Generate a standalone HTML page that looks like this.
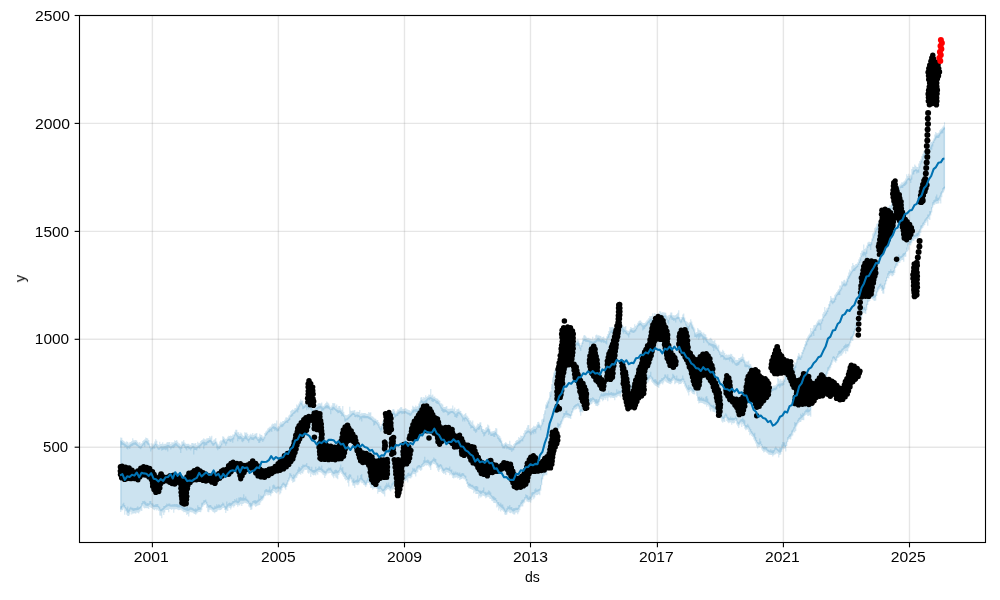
<!DOCTYPE html><html><head><meta charset="utf-8"><style>html,body{margin:0;padding:0;background:#fff;}svg{display:block;}text{font-family:"Liberation Sans",sans-serif;fill:#000;}</style></head><body>
<svg width="1000" height="600" viewBox="0 0 1000 600">
<rect width="1000" height="600" fill="#fff"/>
<polygon points="120.8,440.4 121.8,441.4 122.8,442.4 123.8,443.2 124.8,443.8 125.8,444.5 126.8,445.2 127.8,445.8 128.8,445.7 129.8,444.9 130.8,444 131.8,443.5 132.8,443 133.8,442.6 134.8,442.5 135.8,442.1 136.8,443.3 137.8,444.5 138.8,445.4 139.8,445.9 140.8,446.5 141.8,445.2 142.8,443.8 143.8,442.6 144.8,441.6 145.8,440.5 146.8,441.1 147.8,441.6 148.8,443.2 149.8,445.7 150.8,448.3 151.8,447.3 152.8,446.6 153.8,445.6 154.8,444.4 155.8,443.2 156.8,445.1 157.8,447 158.8,447.8 159.8,447.3 160.8,446.2 161.8,446.3 162.8,446.4 163.8,446.3 164.8,446.1 165.8,445.8 166.8,445.3 167.8,444.7 168.8,444.9 169.8,445.7 170.8,446.6 171.8,445.8 172.8,445.1 173.8,444.3 174.8,443.6 175.8,442.9 176.8,443.6 177.8,444.9 178.8,445.8 179.8,446.6 180.8,447.3 181.8,445.5 182.8,443.7 183.8,443.6 184.8,445.1 185.8,446.6 186.8,446.2 187.8,445.7 188.8,446 189.8,446.9 190.8,447.6 191.8,446.6 192.8,445.7 193.8,445.7 194.8,446.9 195.8,447.6 196.8,446.9 197.8,446.3 198.8,445.5 199.8,444.7 200.8,443.9 201.8,442.7 202.8,441.8 203.8,441.6 204.8,442 205.8,442.4 206.8,441.6 207.8,440.8 208.8,440.2 209.8,439.8 210.8,439.7 211.8,441.3 212.8,443 213.8,443.3 214.8,442.4 215.8,441.5 216.8,443.7 217.8,446 218.8,446.7 219.8,445.9 220.8,445.2 221.8,442.4 222.8,439.7 223.8,439.1 224.8,440.8 225.8,442.4 226.8,440.8 227.8,439 228.8,438.4 229.8,438.8 230.8,439.2 231.8,438.6 232.8,438.1 233.8,436.6 234.8,434.2 235.8,432.3 236.8,433.9 237.8,435.4 238.8,436.2 239.8,436.2 240.8,436.1 241.8,437.2 242.8,438.3 243.8,438 244.8,436.4 245.8,434.8 246.8,436.7 247.8,438.7 248.8,439 249.8,437.7 250.8,436.3 251.8,437.2 252.8,437.5 253.8,437.3 254.8,436.5 255.8,435.7 256.8,437.3 257.8,439 258.8,439.2 259.8,438.1 260.8,436.8 261.8,437.9 262.8,439 263.8,438.5 264.8,436.4 265.8,433.7 266.8,432.5 267.8,431.4 268.8,430.1 269.8,428.8 270.8,428.7 271.8,427.6 272.8,426.5 273.8,426.2 274.8,426.8 275.8,427 276.8,427.9 277.8,428.8 278.8,428.3 279.8,426.4 280.8,424.5 281.8,424.5 282.8,424.1 283.8,423.2 284.8,422 285.8,420.9 286.8,420.4 287.8,420 288.8,418.8 289.8,417 290.8,414.9 291.8,413.9 292.8,412.9 293.8,412 294.8,411.1 295.8,410.2 296.8,408.9 297.8,407.6 298.8,406 299.8,404.1 300.8,402.3 301.8,403 302.8,405.6 303.8,406.4 304.8,405.5 305.8,404.5 306.8,405.5 307.8,405.7 308.8,405.8 309.8,405.9 310.8,405.9 311.8,408 312.8,410.1 313.8,410.6 314.8,409.6 315.8,408.2 316.8,407.5 317.8,406.8 318.8,406.2 319.8,405.9 320.8,405.5 321.8,406.7 322.8,407.8 323.8,407.8 324.8,406.6 325.8,405.4 326.8,405.3 327.8,405.2 328.8,406.1 329.8,407.8 330.8,409.6 331.8,408.1 332.8,406.8 333.8,406.7 334.8,407.8 335.8,408.9 336.8,409.5 337.8,410.1 338.8,410.4 339.8,410.3 340.8,410.7 341.8,411.9 342.8,413.2 343.8,414.8 344.8,416.9 345.8,419 346.8,418.3 347.8,417.5 348.8,416.6 349.8,415.6 350.8,414.5 351.8,413.6 352.8,412.7 353.8,412.8 354.8,413.9 355.8,414.9 356.8,414.4 357.8,414.5 358.8,414.9 359.8,415.7 360.8,416.4 361.8,416 362.8,415.5 363.8,415.4 364.8,415.6 365.8,415.9 366.8,416 367.8,416.1 368.8,416.5 369.8,417 370.8,417.5 371.8,418.4 372.8,419.7 373.8,420.5 374.8,420.7 375.8,421 376.8,422.2 377.8,423.4 378.8,425.1 379.8,427.4 380.8,428.4 381.8,426.1 382.8,423.9 383.8,421.3 384.8,418.5 385.8,415.7 386.8,417.6 387.8,419.6 388.8,419.4 389.8,417.2 390.8,415.4 391.8,413.9 392.8,412.4 393.8,412.2 394.8,413.5 395.8,414.7 396.8,413.5 397.8,412.3 398.8,411.6 399.8,411.2 400.8,410.8 401.8,411 402.8,411.2 403.8,411.2 404.8,411.1 405.8,410.9 406.8,412 407.8,412.4 408.8,412.8 409.8,413.1 410.8,413.5 411.8,411.8 412.8,410 413.8,409.2 414.8,409.4 415.8,409.1 416.8,409.2 417.8,409.4 418.8,407.6 419.8,403.8 420.8,400 421.8,400.3 422.8,401.3 423.8,401.5 424.8,400.7 425.8,400 426.8,399 427.8,398.1 428.8,397.6 429.8,397.3 430.8,397.1 431.8,397.7 432.8,398.4 433.8,398.8 434.8,398.9 435.8,400.3 436.8,400.7 437.8,401.1 438.8,402.2 439.8,403.9 440.8,405.7 441.8,407.5 442.8,408.5 443.8,409.2 444.8,409.3 445.8,409.4 446.8,410.4 447.8,411.4 448.8,411.7 449.8,411.4 450.8,411 451.8,411 452.8,411.1 453.8,411.7 454.8,412.8 455.8,414 456.8,413 457.8,411.9 458.8,411.8 459.8,412.6 460.8,413.4 461.8,415.1 462.8,416.9 463.8,417.7 464.8,417.5 465.8,416.9 466.8,418.2 467.8,419.6 468.8,421.1 469.8,422.9 470.8,424.7 471.8,425.4 472.8,426.1 473.8,427 474.8,428.2 475.8,429.4 476.8,428.4 477.8,427.5 478.8,426.5 479.8,425.6 480.8,424.7 481.8,428.1 482.8,431.3 483.8,432.6 484.8,432.1 485.8,431.5 486.8,429.9 487.8,428.2 488.8,428.5 489.8,430.8 490.8,433.8 491.8,433.6 492.8,433.5 493.8,433.1 494.8,432.4 495.8,431.8 496.8,434 497.8,436.3 498.8,437.8 499.8,438.8 500.8,439.7 501.8,442.5 502.8,445.4 503.8,446.3 504.8,445.2 505.8,444.1 506.8,445.5 507.8,446.3 508.8,446.9 509.8,447.3 510.8,447.6 511.8,447.9 512.8,448.2 513.8,447.3 514.8,445.2 515.8,443.1 516.8,442.5 517.8,441.9 518.8,441.1 519.8,440.2 520.8,440.1 521.8,439 522.8,437.9 523.8,436.3 524.8,434.3 525.8,432.2 526.8,431.3 527.8,430.4 528.8,430.4 529.8,431.2 530.8,432 531.8,431 532.8,430 533.8,429.3 534.8,429.1 535.8,428.9 536.8,427.5 537.8,424.8 538.8,424.2 539.8,425.6 540.8,427 541.8,424.3 542.8,421.7 543.8,417.7 544.8,412.3 545.8,407 546.8,405 547.8,403 548.8,400.4 549.8,397.3 550.8,394.1 551.8,387.3 552.8,380.1 553.8,375.4 554.8,373.2 555.8,370.9 556.8,369 557.8,367.1 558.8,365.6 559.8,364.5 560.8,363.4 561.8,360.7 562.8,358 563.8,355.6 564.8,353.5 565.8,352 566.8,351.4 567.8,350.7 568.8,350.8 569.8,351.7 570.8,352.6 571.8,352.1 572.8,351.6 573.8,349.7 574.8,346.6 575.8,343.7 576.8,342.8 577.8,342 578.8,342.9 579.8,345.6 580.8,348.3 581.8,344.5 582.8,340.8 583.8,338.9 584.8,338.8 585.8,339.1 586.8,339.5 587.8,340 588.8,340.3 589.8,340.6 590.8,340.9 591.8,341.3 592.8,341.7 593.8,341.5 594.8,340.8 595.8,340.2 596.8,339 597.8,337.8 598.8,337.7 599.8,338.8 600.8,339.9 601.8,339.6 602.8,339.3 603.8,339.7 604.8,340.4 605.8,341.2 606.8,338.8 607.8,336.4 608.8,334.3 609.8,332.5 610.8,330.6 611.8,330.2 612.8,329.7 613.8,330.4 614.8,332.2 615.8,333.9 616.8,331.8 617.8,329.6 618.8,327.6 619.8,325.8 620.8,324.6 621.8,326.3 622.8,327.9 623.8,329.1 624.8,329.9 625.8,330.7 626.8,332.1 627.8,333.4 628.8,333.3 629.8,331.6 630.8,329.1 631.8,329.8 632.8,330.5 633.8,330.5 634.8,329.8 635.8,329.1 636.8,327 637.8,324.9 638.8,323.6 639.8,323.3 640.8,323.1 641.8,324.2 642.8,325.4 643.8,325.6 644.8,324.9 645.8,324.3 646.8,322.9 647.8,321.6 648.8,320.4 649.8,319.3 650.8,318.6 651.8,319.1 652.8,319.6 653.8,319.2 654.8,317.9 655.8,316.5 656.8,316.4 657.8,316.2 658.8,315.7 659.8,314.8 660.8,314 661.8,314.7 662.8,315.4 663.8,315.6 664.8,315.4 665.8,315.2 666.8,317.7 667.8,320.1 668.8,319.9 669.8,317.2 670.8,314.6 671.8,316 672.8,317.4 673.8,318.1 674.8,318.2 675.8,318.3 676.8,317.1 677.8,316.4 678.8,317.1 679.8,319.2 680.8,321.2 681.8,319 682.8,316.9 683.8,317.2 684.8,320 685.8,323 686.8,324.7 687.8,326.4 688.8,326.3 689.8,324.4 690.8,322.5 691.8,324.6 692.8,326.7 693.8,329.2 694.8,332.2 695.8,334.8 696.8,334.2 697.8,333.7 698.8,333.3 699.8,333.2 700.8,333.1 701.8,334.3 702.8,335.5 703.8,336.4 704.8,336.8 705.8,337.4 706.8,339.4 707.8,341.3 708.8,342.5 709.8,343.1 710.8,343.6 711.8,343.8 712.8,343.9 713.8,344.3 714.8,344.7 715.8,345.3 716.8,346.9 717.8,348.4 718.8,350.3 719.8,352.5 720.8,354.7 721.8,354.9 722.8,355 723.8,355.7 724.8,357 725.8,357.9 726.8,357.8 727.8,357.7 728.8,357.4 729.8,357 730.8,356.6 731.8,357.7 732.8,358.9 733.8,360.3 734.8,362.1 735.8,363.4 736.8,362.8 737.8,362.3 738.8,361.5 739.8,360.6 740.8,359.6 741.8,358.9 742.8,358.8 743.8,359.9 744.8,362.1 745.8,364.4 746.8,364.6 747.8,364.9 748.8,365.4 749.8,366.1 750.8,367.2 751.8,368.4 752.8,369.6 753.8,371.1 754.8,372.8 755.8,374.6 756.8,375.8 757.8,377 758.8,378.5 759.8,380.3 760.8,382.1 761.8,383.2 762.8,384.4 763.8,385.8 764.8,387.3 765.8,388.9 766.8,389.6 767.8,390.4 768.8,390.8 769.8,391 770.8,389.6 771.8,389.1 772.8,388.5 773.8,388.1 774.8,387.8 775.8,387.4 776.8,385.9 777.8,384.4 778.8,383.7 779.8,383.6 780.8,383.6 781.8,383.3 782.8,383 783.8,381.6 784.8,379.1 785.8,376.6 786.8,374.9 787.8,373.3 788.8,373.4 789.8,375.2 790.8,376.1 791.8,373.1 792.8,370.1 793.8,367.9 794.8,366.6 795.8,365.2 796.8,361.5 797.8,357.8 798.8,356.3 799.8,357 800.8,357.7 801.8,354.8 802.8,352 803.8,349.1 804.8,346.4 805.8,343.6 806.8,341.4 807.8,339.2 808.8,337.3 809.8,335.7 810.8,334.7 811.8,333.1 812.8,331.5 813.8,330 814.8,328.5 815.8,327.1 816.8,325 817.8,322.9 818.8,322.2 819.8,323 820.8,323.5 821.8,320.8 822.8,318 823.8,315.9 824.8,314.4 825.8,312.9 826.8,311.3 827.8,309.7 828.8,307 829.8,303.3 830.8,299.5 831.8,300.5 832.8,301.4 833.8,300.7 834.8,298.3 835.8,296 836.8,294.4 837.8,292.9 838.8,291.4 839.8,290.2 840.8,289 841.8,286.7 842.8,284.4 843.8,283.3 844.8,283.5 845.8,283.7 846.8,281 847.8,278.2 848.8,276.1 849.8,274.5 850.8,272.7 851.8,271.2 852.8,269.6 853.8,268.5 854.8,267.8 855.8,267.1 856.8,266 857.8,264.9 858.8,263 859.8,260.2 860.8,257.3 861.8,254.9 862.8,252.4 863.8,251.4 864.8,252 865.8,252.6 866.8,249 867.8,245.5 868.8,243.8 869.8,244.1 870.8,244.1 871.8,241 872.8,238 873.8,235.2 874.8,232.7 875.8,230.1 876.8,228.2 877.8,226.3 878.8,224.9 879.8,223.9 880.8,222.8 881.8,221.2 882.8,219.6 883.8,217.3 884.8,214.4 885.8,211.4 886.8,210.5 887.8,209.6 888.8,209 889.8,208.4 890.8,207.8 891.8,204.2 892.8,200.6 893.8,197.6 894.8,195.1 895.8,192.7 896.8,191.2 897.8,190.1 898.8,188.8 899.8,187.3 900.8,185.8 901.8,185.2 902.8,184.7 903.8,183.8 904.8,182.5 905.8,181.2 906.8,179.7 907.8,178.2 908.8,177.7 909.8,178.4 910.8,179 911.8,175.3 912.8,171.5 913.8,169.7 914.8,169.9 915.8,169 916.8,169.6 917.8,170.2 918.8,169 919.8,165.8 920.8,162.6 921.8,159.9 922.8,157.1 923.8,154.6 924.8,153.1 925.8,151.9 926.8,151.9 927.8,151.9 928.8,150.8 929.8,148.5 930.8,146.1 931.8,144.5 932.8,142.8 933.8,140.7 934.8,138.3 935.8,135.8 936.8,135.6 937.8,135.5 938.8,134.6 939.8,132.9 940.8,131.3 941.8,130.2 942.8,129.2 943.8,128.1 944.4,127.4 944.4,188.4 943.8,189.1 942.8,190.9 941.8,193.5 940.8,196 939.8,198.1 938.8,200.1 937.8,201.1 936.8,200.9 935.8,201.5 934.8,202.3 933.8,203 932.8,205.4 931.8,209.4 930.8,213.4 929.8,215.2 928.8,216.8 927.8,218.1 926.8,219.2 925.8,220.4 924.8,222.1 923.8,223.7 922.8,225.3 921.8,227.2 920.8,229 919.8,231.6 918.8,234.5 917.8,236 916.8,236.2 915.8,236.4 914.8,237.1 913.8,237.2 912.8,238.4 911.8,240.8 910.8,243.2 909.8,242.7 908.8,243.6 907.8,246 906.8,249.8 905.8,253.6 904.8,254.7 903.8,255.9 902.8,256.9 901.8,257.7 900.8,258.5 899.8,258.7 898.8,260.3 897.8,262 896.8,263.9 895.8,265.9 894.8,269 893.8,272.2 892.8,273.6 891.8,273.1 890.8,272.7 889.8,273.3 888.8,273.9 887.8,276 886.8,279.1 885.8,282.1 884.8,285.8 883.8,289.5 882.8,290.2 881.8,288 880.8,285.8 879.8,286.8 878.8,287.7 877.8,289.9 876.8,293.4 875.8,296.9 874.8,297.4 873.8,298 872.8,297.5 871.8,296 870.8,294.4 869.8,296.1 868.8,298.7 867.8,302.3 866.8,306.8 865.8,311.3 864.8,310.3 863.8,309.4 862.8,310.9 861.8,315 860.8,319 859.8,320.8 858.8,322.7 857.8,324.3 856.8,325.8 855.8,327.3 854.8,330.7 853.8,334.2 852.8,336.8 851.8,338.6 850.8,340.5 849.8,343.4 848.8,345.7 847.8,347.1 846.8,347.5 845.8,348 844.8,348.6 843.8,349.3 842.8,350.3 841.8,351.8 840.8,353.3 839.8,353.8 838.8,354.2 837.8,355.7 836.8,358.2 835.8,360.7 834.8,359.4 833.8,358 832.8,358.9 831.8,362.2 830.8,365.4 829.8,366.9 828.8,368.8 827.8,371.1 826.8,373.6 825.8,376.2 824.8,379.1 823.8,382 822.8,383.4 821.8,383.2 820.8,383.1 819.8,385 818.8,387.4 817.8,390.1 816.8,393.1 815.8,396.1 814.8,396.5 813.8,396.8 812.8,399.6 811.8,404.7 810.8,409.9 809.8,411.5 808.8,412.2 807.8,412.4 806.8,412.2 805.8,412 804.8,413.9 803.8,415.8 802.8,417.1 801.8,418 800.8,418.8 799.8,419.6 798.8,420.7 797.8,422.3 796.8,424.3 795.8,426.3 794.8,428.1 793.8,429.8 792.8,431.7 791.8,434 790.8,436.2 789.8,436.9 788.8,437.5 787.8,439.7 786.8,443.5 785.8,447.3 784.8,446.7 783.8,446.1 782.8,447.1 781.8,449.8 780.8,452.4 779.8,452.8 778.8,452.2 777.8,451.3 776.8,450.2 775.8,449.2 774.8,451.1 773.8,453 772.8,453.7 771.8,453 770.8,452.4 769.8,452.6 768.8,452.1 767.8,451.4 766.8,450.4 765.8,449.4 764.8,449.5 763.8,449.6 762.8,448.5 761.8,446.1 760.8,443.7 759.8,444.4 758.8,444.7 757.8,444 756.8,442.4 755.8,440.9 754.8,438.7 753.8,436.5 752.8,434.8 751.8,433.5 750.8,432.2 749.8,429.9 748.8,427.9 747.8,427.1 746.8,427.4 745.8,427.8 744.8,425.7 743.8,423.7 742.8,422 741.8,421.6 740.8,421.4 739.8,422.9 738.8,424.4 737.8,423.8 736.8,421.3 735.8,418.7 734.8,419.8 733.8,420.2 732.8,420.4 731.8,420.3 730.8,420.1 729.8,420.3 728.8,420.5 727.8,419.5 726.8,417.4 725.8,415.3 724.8,417.3 723.8,419.1 722.8,419 721.8,417 720.8,414.9 719.8,414 718.8,413 717.8,412.1 716.8,411.1 715.8,410.1 714.8,409.2 713.8,408.4 712.8,407.7 711.8,407.1 710.8,406.5 709.8,405.2 708.8,403.9 707.8,403 706.8,402.5 705.8,402 704.8,401.6 703.8,401.2 702.8,401 701.8,400.8 700.8,400.6 699.8,400.7 698.8,400.8 697.8,398.5 696.8,393.9 695.8,389.3 694.8,390.7 693.8,391.9 692.8,391.7 691.8,390.2 690.8,388.6 689.8,389.4 688.8,390.2 687.8,389.7 686.8,387.9 685.8,386 684.8,383.2 683.8,380.5 682.8,379.7 681.8,380.6 680.8,381.6 679.8,381.4 678.8,381.3 677.8,380.9 676.8,380.4 675.8,380.3 674.8,379.2 673.8,378.1 672.8,378.5 671.8,380.2 670.8,382 669.8,381.4 668.8,381.4 667.8,380.6 666.8,378.9 665.8,377.3 664.8,378.5 663.8,379.6 662.8,380.5 661.8,381.2 660.8,381.8 659.8,383.5 658.8,384.7 657.8,384.9 656.8,384.2 655.8,383.4 654.8,382.7 653.8,381.9 652.8,380.5 651.8,378.4 650.8,376.4 649.8,377.4 648.8,378.8 647.8,379.6 646.8,379.9 645.8,380.2 644.8,380.9 643.8,381.7 642.8,382.4 641.8,382.9 640.8,383.4 639.8,381.4 638.8,379.8 637.8,379.2 636.8,379.7 635.8,380.2 634.8,382.5 633.8,384.9 632.8,386.5 631.8,387.3 630.8,388.2 629.8,389.4 628.8,390.5 627.8,390.4 626.8,389.2 625.8,388 624.8,387.7 623.8,387.5 622.8,388.6 621.8,391.1 620.8,393.6 619.8,393.6 618.8,393.7 617.8,394 616.8,394.5 615.8,395.2 614.8,395.5 613.8,395.7 612.8,395.7 611.8,395.4 610.8,395 609.8,395.3 608.8,395.5 607.8,395.5 606.8,395.5 605.8,395.6 604.8,396 603.8,396.5 602.8,396.6 601.8,396.5 600.8,396.4 599.8,399.1 598.8,401.7 597.8,403.4 596.8,403.5 595.8,403.6 594.8,401.9 593.8,400.1 592.8,399.8 591.8,401 590.8,402.1 589.8,402.5 588.8,402.8 587.8,403.5 586.8,404.5 585.8,405.6 584.8,405.8 583.8,406 582.8,407.3 581.8,409.7 580.8,412.1 579.8,409.3 578.8,406.5 577.8,405.5 576.8,406.1 575.8,406.7 574.8,407.4 573.8,408.2 572.8,410.2 571.8,413.4 570.8,416.6 569.8,416.1 568.8,415.6 567.8,415.2 566.8,414.9 565.8,414.5 564.8,415.8 563.8,417.1 562.8,418.7 561.8,421.6 560.8,424.6 559.8,425.7 558.8,426.8 557.8,429.1 556.8,432.8 555.8,437.7 554.8,441.3 553.8,444.9 552.8,448.4 551.8,451.8 550.8,455.2 549.8,459.3 548.8,463.4 547.8,466.9 546.8,469.8 545.8,472.7 544.8,473 543.8,473.4 542.8,476.5 541.8,482.4 540.8,488.2 539.8,490.5 538.8,491.2 537.8,491.8 536.8,492.1 535.8,492.5 534.8,493.4 533.8,494.1 532.8,495.2 531.8,497.1 530.8,499 529.8,499.5 528.8,500 527.8,499.7 526.8,498.6 525.8,497.6 524.8,499.5 523.8,501.4 522.8,502.8 521.8,503.7 520.8,504.7 519.8,506.8 518.8,508.9 517.8,510 516.8,510 515.8,510.1 514.8,510.8 513.8,511.5 512.8,511.4 511.8,510.4 510.8,509.5 509.8,509.7 508.8,509.1 507.8,509.6 506.8,511.3 505.8,513 504.8,511.4 503.8,509.8 502.8,508.7 501.8,508 500.8,507.1 499.8,506.3 498.8,505.5 497.8,504.2 496.8,502.4 495.8,500.6 494.8,500.3 493.8,500 492.8,499.1 491.8,497.6 490.8,496 489.8,495.1 488.8,494.4 487.8,494.4 486.8,495.1 485.8,495.8 484.8,494.3 483.8,492.9 482.8,492.6 481.8,493.4 480.8,494.2 479.8,493.2 478.8,492 477.8,491 476.8,490.9 475.8,490.9 474.8,489.6 473.8,488.4 472.8,487.5 471.8,487 470.8,486.5 469.8,486.3 468.8,486 467.8,484.5 466.8,481.6 465.8,478.7 464.8,477.3 463.8,475.9 462.8,475.6 461.8,476.4 460.8,477.2 459.8,476.6 458.8,476 457.8,475.4 456.8,474.7 455.8,474.4 454.8,475 453.8,475.5 452.8,475 451.8,473.4 450.8,471.8 449.8,471.1 448.8,470.5 447.8,470.1 446.8,469.8 445.8,469.5 444.8,470.5 443.8,471.4 442.8,470.7 441.8,468.4 440.8,466.1 439.8,467 438.8,467.7 437.8,467 436.8,464.9 435.8,462.8 434.8,461.9 433.8,460.9 432.8,461.4 431.8,463.3 430.8,466.1 429.8,464.9 428.8,463.7 427.8,463 426.8,462.8 425.8,462.6 424.8,463.1 423.8,463.7 422.8,464.7 421.8,466.4 420.8,468 419.8,467.6 418.8,467.2 417.8,468 416.8,470.1 415.8,472.2 414.8,472 413.8,471.3 412.8,472.1 411.8,474.2 410.8,476.3 409.8,476.1 408.8,475.9 407.8,476.4 406.8,477.8 405.8,478.9 404.8,479 403.8,479.1 402.8,478.6 401.8,477.5 400.8,476.4 399.8,476.1 398.8,475.8 397.8,477.2 396.8,480.2 395.8,483.2 394.8,483.6 393.8,484 392.8,485.1 391.8,486.9 390.8,488.8 389.8,488 388.8,487 387.8,487 386.8,487.8 385.8,488.7 384.8,489.9 383.8,491.1 382.8,491.4 381.8,490.6 380.8,488.7 379.8,489.2 378.8,489.6 377.8,488.8 376.8,486.9 375.8,485 374.8,485.6 373.8,486.2 372.8,486.2 371.8,485.4 370.8,484.7 369.8,482.6 368.8,480.6 367.8,480.6 366.8,482.8 365.8,485 364.8,483.4 363.8,482.2 362.8,481.1 361.8,480.1 360.8,479.1 359.8,480.5 358.8,481.9 357.8,482.6 356.8,482.5 355.8,482.2 354.8,482.8 353.8,483.5 352.8,482.4 351.8,479.6 350.8,476.8 349.8,478.3 348.8,479.7 347.8,479.6 346.8,478 345.8,476.4 344.8,475.5 343.8,474.6 342.8,473.3 341.8,471.4 340.8,469.6 339.8,470.6 338.8,472.3 337.8,473.2 336.8,473.3 335.8,473.3 334.8,473.8 333.8,474.2 332.8,473.7 331.8,472.2 330.8,470.5 329.8,470.4 328.8,470.3 327.8,470.9 326.8,472.3 325.8,473.7 324.8,473.2 323.8,472.7 322.8,472 321.8,471 320.8,470.1 319.8,470.1 318.8,470 317.8,470.4 316.8,471.2 315.8,472 314.8,472.7 313.8,472.7 312.8,472.4 311.8,471.7 310.8,471.1 309.8,470.3 308.8,469.5 307.8,468.4 306.8,466.9 305.8,466.5 304.8,466.9 303.8,467.3 302.8,468.2 301.8,469.5 300.8,470.8 299.8,471.4 298.8,471.9 297.8,472.9 296.8,474.3 295.8,475.8 294.8,477.5 293.8,479.3 292.8,479.3 291.8,477.4 290.8,475.5 289.8,477.6 288.8,479.6 287.8,482 286.8,484.8 285.8,487.5 284.8,486.1 283.8,484.7 282.8,485.1 281.8,487.3 280.8,489.5 279.8,489.4 278.8,488.6 277.8,488.5 276.8,489.1 275.8,489.7 274.8,489.1 273.8,488.6 272.8,489.4 271.8,491.4 270.8,493.5 269.8,492.6 268.8,492.4 267.8,492.2 266.8,491.9 265.8,491.5 264.8,494 263.8,496.5 262.8,498.2 261.8,499 260.8,499.9 259.8,500.8 258.8,501.5 257.8,502.3 256.8,503.2 255.8,504.1 254.8,503.4 253.8,502.6 252.8,503.4 251.8,505.8 250.8,507.4 249.8,505.3 248.8,503.3 247.8,501.9 246.8,501.2 245.8,500.5 244.8,500.6 243.8,500.8 242.8,500.8 241.8,500.7 240.8,500.6 239.8,501.8 238.8,503.1 237.8,503.4 236.8,502.8 235.8,502.3 234.8,502.4 233.8,503.1 232.8,503.9 231.8,505 230.8,506 229.8,505.8 228.8,505.6 227.8,506.5 226.8,508.6 225.8,509.9 224.8,507.8 223.8,505.7 222.8,505.2 221.8,506.4 220.8,507.6 219.8,507.7 218.8,507.8 217.8,508 216.8,508.4 215.8,508.7 214.8,509.3 213.8,509.8 212.8,509.5 211.8,508.5 210.8,507.5 209.8,507.5 208.8,507.8 207.8,506.8 206.8,504.4 205.8,502.1 204.8,502.6 203.8,503.1 202.8,504.6 201.8,507.1 200.8,509.5 199.8,509.7 198.8,509.9 197.8,510.4 196.8,511.3 195.8,512.2 194.8,511.6 193.8,510.9 192.8,510.4 191.8,510 190.8,509.6 189.8,510.2 188.8,510.7 187.8,510.9 186.8,510.7 185.8,510.4 184.8,510 183.8,509.7 182.8,509.1 181.8,508.2 180.8,507.3 179.8,507.4 178.8,507.6 177.8,507.4 176.8,506.9 175.8,506.7 174.8,506.7 173.8,506.8 172.8,506.8 171.8,506.7 170.8,506.7 169.8,506.4 168.8,506.1 167.8,506.2 166.8,506.9 165.8,507.5 164.8,508.5 163.8,509.5 162.8,510.3 161.8,511 160.8,511.6 159.8,510.2 158.8,508.1 157.8,507 156.8,506.9 155.8,506.9 154.8,507.1 153.8,507.3 152.8,506.8 151.8,505.4 150.8,504 149.8,504.6 148.8,505.5 147.8,505.9 146.8,505.8 145.8,505.8 144.8,504.7 143.8,503.5 142.8,504 141.8,506.1 140.8,508.2 139.8,509 138.8,509.7 137.8,510.1 136.8,510.2 135.8,510.3 134.8,510.6 133.8,510.9 132.8,510.7 131.8,509.9 130.8,509.1 129.8,510.9 128.8,512.8 127.8,512.9 126.8,511.4 125.8,509.2 124.8,507.8 123.8,506.4 122.8,506.4 121.8,507.9 120.8,509.4" fill="#0072B2" fill-opacity="0.2"/>
<path d="M120.3,437.6 121.3,437.6 121.3,437.7 122.3,437.7 122.3,440.1 123.3,440.1 123.3,441 124.3,441 124.3,441.8 125.3,441.8 125.3,442.4 126.3,442.4 126.3,441.2 127.3,441.2 127.3,441.9 128.3,441.9 128.3,443.5 129.3,443.5 129.3,442.2 130.3,442.2 130.3,442 131.3,442 131.3,441.1 132.3,441.1 132.3,438.3 133.3,438.3 133.3,440.3 134.3,440.3 134.3,440.3 135.3,440.3 135.3,439.9 136.3,439.9 136.3,440.6 137.3,440.6 137.3,442 138.3,442 138.3,443.3 139.3,443.3 139.3,442.1 140.3,442.1 140.3,443.7 141.3,443.7 141.3,442.9 142.3,442.9 142.3,440.9 143.3,440.9 143.3,440 144.3,440 144.3,439.3 145.3,439.3 145.3,437.5 146.3,437.5 146.3,437.9 147.3,437.9 147.3,438.6 148.3,438.6 148.3,440.1 149.3,440.1 149.3,443.3 150.3,443.3 150.3,446 151.3,446 151.3,443.2 152.3,443.2 152.3,444.6 153.3,444.6 153.3,443.6 154.3,443.6 154.3,441.6 155.3,441.6 155.3,439.3 156.3,439.3 156.3,440.8 157.3,440.8 157.3,444.1 158.3,444.1 158.3,444.9 159.3,444.9 159.3,441.8 160.3,441.8 160.3,444.1 161.3,444.1 161.3,443.7 162.3,443.7 162.3,442.2 163.3,442.2 163.3,444.2 164.3,444.2 164.3,443.8 165.3,443.8 165.3,443.8 166.3,443.8 166.3,442.4 167.3,442.4 167.3,442.1 168.3,442.1 168.3,442.3 169.3,442.3 169.3,442 170.3,442 170.3,444.1 171.3,444.1 171.3,442.3 172.3,442.3 172.3,442.4 173.3,442.4 173.3,442.2 174.3,442.2 174.3,440.3 175.3,440.3 175.3,440.9 176.3,440.9 176.3,439.9 177.3,439.9 177.3,441.7 178.3,441.7 178.3,443.3 179.3,443.3 179.3,443.6 180.3,443.6 180.3,444.7 181.3,444.7 181.3,441.6 182.3,441.6 182.3,441.5 183.3,441.5 183.3,440 184.3,440 184.3,442.6 185.3,442.6 185.3,443.4 186.3,443.4 186.3,443.9 187.3,443.9 187.3,443.7 188.3,443.7 188.3,443.7 189.3,443.7 189.3,444.8 190.3,444.8 190.3,444.7 191.3,444.7 191.3,443.1 192.3,443.1 192.3,443.1 193.3,443.1 193.3,443.4 194.3,443.4 194.3,443.5 195.3,443.5 195.3,443 196.3,443 196.3,444.9 197.3,444.9 197.3,441.7 198.3,441.7 198.3,443.2 199.3,443.2 199.3,442.7 200.3,442.7 200.3,441.1 201.3,441.1 201.3,440 202.3,440 202.3,439.6 203.3,439.6 203.3,438.3 204.3,438.3 204.3,439.2 205.3,439.2 205.3,439.4 206.3,439.4 206.3,438.3 207.3,438.3 207.3,438.3 208.3,438.3 208.3,438.1 209.3,438.1 209.3,436 210.3,436 210.3,437.6 211.3,437.6 211.3,435.8 212.3,435.8 212.3,440.9 213.3,440.9 213.3,439.8 214.3,439.8 214.3,439.3 215.3,439.3 215.3,438 216.3,438 216.3,441.6 217.3,441.6 217.3,443.6 218.3,443.6 218.3,444.5 219.3,444.5 219.3,441.6 220.3,441.6 220.3,440.3 221.3,440.3 221.3,440.4 222.3,440.4 222.3,436.3 223.3,436.3 223.3,436.7 224.3,436.7 224.3,438.2 225.3,438.2 225.3,439 226.3,439 226.3,438.5 227.3,438.5 227.3,436.8 228.3,436.8 228.3,435.8 229.3,435.8 229.3,436 230.3,436 230.3,435.6 231.3,435.6 231.3,436 232.3,436 232.3,434.6 233.3,434.6 233.3,434.5 234.3,434.5 234.3,431.8 235.3,431.8 235.3,429.8 236.3,429.8 236.3,429.8 237.3,429.8 237.3,432.3 238.3,432.3 238.3,432.2 239.3,432.2 239.3,433.9 240.3,433.9 240.3,432.6 241.3,432.6 241.3,433.6 242.3,433.6 242.3,435.3 243.3,435.3 243.3,435.9 244.3,435.9 244.3,432.3 245.3,432.3 245.3,432.8 246.3,432.8 246.3,432.5 247.3,432.5 247.3,433.9 248.3,433.9 248.3,436 249.3,436 249.3,434.7 250.3,434.7 250.3,433.7 251.3,433.7 251.3,434.7 252.3,434.7 252.3,433.1 253.3,433.1 253.3,435 254.3,435 254.3,433.8 255.3,433.8 255.3,433.5 256.3,433.5 256.3,433 257.3,433 257.3,436.7 258.3,436.7 258.3,436.8 259.3,436.8 259.3,433.8 260.3,433.8 260.3,434.7 261.3,434.7 261.3,435.1 262.3,435.1 262.3,436.6 263.3,436.6 263.3,436.4 264.3,436.4 264.3,433.1 265.3,433.1 265.3,431.6 266.3,431.6 266.3,430.5 267.3,430.5 267.3,428.4 268.3,428.4 268.3,427.8 269.3,427.8 269.3,426.7 270.3,426.7 270.3,426.4 271.3,426.4 271.3,424.6 272.3,424.6 272.3,423.6 273.3,423.6 273.3,424 274.3,424 274.3,423.1 275.3,423.1 275.3,423.5 276.3,423.5 276.3,420.6 277.3,420.6 277.3,426.7 278.3,426.7 278.3,426.1 279.3,426.1 279.3,423.6 280.3,423.6 280.3,421.8 281.3,421.8 281.3,422.5 282.3,422.5 282.3,421.1 283.3,421.1 283.3,421 284.3,421 284.3,419.7 285.3,419.7 285.3,417.4 286.3,417.4 286.3,417.3 287.3,417.3 287.3,417.8 288.3,417.8 288.3,415.6 289.3,415.6 289.3,414.4 290.3,414.4 290.3,410.9 291.3,410.9 291.3,410 292.3,410 292.3,409.3 293.3,409.3 293.3,409.9 294.3,409.9 294.3,408.3 295.3,408.3 295.3,407.9 296.3,407.9 296.3,404.5 297.3,404.5 297.3,405.5 298.3,405.5 298.3,403.6 299.3,403.6 299.3,401.6 300.3,401.6 300.3,399.2 301.3,399.2 301.3,400.8 302.3,400.8 302.3,400.6 303.3,400.6 303.3,404.3 304.3,404.3 304.3,403.3 305.3,403.3 305.3,402 306.3,402 306.3,401.3 307.3,401.3 307.3,403.7 308.3,403.7 308.3,403.2 309.3,403.2 309.3,403.1 310.3,403.1 310.3,403.8 311.3,403.8 311.3,403.6 312.3,403.6 312.3,406.6 313.3,406.6 313.3,405.5 314.3,405.5 314.3,404 315.3,404 315.3,403.5 316.3,403.5 316.3,404.9 317.3,404.9 317.3,403.8 318.3,403.8 318.3,402.9 319.3,402.9 319.3,403.2 320.3,403.2 320.3,403.4 321.3,403.4 321.3,402.5 322.3,402.5 322.3,405.8 323.3,405.8 323.3,405.8 324.3,405.8 324.3,404.3 325.3,404.3 325.3,403.1 326.3,403.1 326.3,401.6 327.3,401.6 327.3,402.5 328.3,402.5 328.3,403.5 329.3,403.5 329.3,405.4 330.3,405.4 330.3,407 331.3,407 331.3,405.6 332.3,405.6 332.3,402.9 333.3,402.9 333.3,403.3 334.3,403.3 334.3,403.2 335.3,403.2 335.3,405.8 336.3,405.8 336.3,404.4 337.3,404.4 337.3,407.8 338.3,407.8 338.3,405.9 339.3,405.9 339.3,406 340.3,406 340.3,408.3 341.3,408.3 341.3,409.8 342.3,409.8 342.3,406.1 343.3,406.1 343.3,411.8 344.3,411.8 344.3,414.6 345.3,414.6 345.3,414.9 346.3,414.9 346.3,415.3 347.3,415.3 347.3,414.8 348.3,414.8 348.3,414.1 349.3,414.1 349.3,406.8 350.3,406.8 350.3,410.4 351.3,410.4 351.3,410.9 352.3,410.9 352.3,410.4 353.3,410.4 353.3,410.5 354.3,410.5 354.3,410 355.3,410 355.3,412.5 356.3,412.5 356.3,411.8 357.3,411.8 357.3,411.8 358.3,411.8 358.3,412 359.3,412 359.3,410 360.3,410 360.3,413.8 361.3,413.8 361.3,412.8 362.3,412.8 362.3,413.3 363.3,413.3 363.3,412.9 364.3,412.9 364.3,413 365.3,413 365.3,413.3 366.3,413.3 366.3,413.9 367.3,413.9 367.3,413.7 368.3,413.7 368.3,412.1 369.3,412.1 369.3,412.7 370.3,412.7 370.3,412.3 371.3,412.3 371.3,416.2 372.3,416.2 372.3,416.5 373.3,416.5 373.3,417.6 374.3,417.6 374.3,418.5 375.3,418.5 375.3,418.8 376.3,418.8 376.3,420.2 377.3,420.2 377.3,420.1 378.3,420.1 378.3,422.1 379.3,422.1 379.3,423.4 380.3,423.4 380.3,426 381.3,426 381.3,423.9 382.3,423.9 382.3,421.3 383.3,421.3 383.3,419 384.3,419 384.3,416.1 385.3,416.1 385.3,413 386.3,413 386.3,415.5 387.3,415.5 387.3,416.6 388.3,416.6 388.3,414.5 389.3,414.5 389.3,413.4 390.3,413.4 390.3,413.4 391.3,413.4 391.3,411.8 392.3,411.8 392.3,409.3 393.3,409.3 393.3,408.9 394.3,408.9 394.3,410.8 395.3,410.8 395.3,412.7 396.3,412.7 396.3,411.2 397.3,411.2 397.3,409.5 398.3,409.5 398.3,409.5 399.3,409.5 399.3,408.3 400.3,408.3 400.3,407 401.3,407 401.3,407.2 402.3,407.2 402.3,409.1 403.3,409.1 403.3,408.8 404.3,408.8 404.3,408.7 405.3,408.7 405.3,408.1 406.3,408.1 406.3,409.2 407.3,409.2 407.3,409.6 408.3,409.6 408.3,410.1 409.3,410.1 409.3,410.2 410.3,410.2 410.3,411.3 411.3,411.3 411.3,409.3 412.3,409.3 412.3,405.8 413.3,405.8 413.3,406.8 414.3,406.8 414.3,407.3 415.3,407.3 415.3,405.6 416.3,405.6 416.3,406.8 417.3,406.8 417.3,405.9 418.3,405.9 418.3,403.6 419.3,403.6 419.3,401.6 420.3,401.6 420.3,397.5 421.3,397.5 421.3,396.9 422.3,396.9 422.3,398.7 423.3,398.7 423.3,397.1 424.3,397.1 424.3,397.8 425.3,397.8 425.3,395.3 426.3,395.3 426.3,397 427.3,397 427.3,396.1 428.3,396.1 428.3,394.4 429.3,394.4 429.3,394.8 430.3,394.8 430.3,389.1 431.3,389.1 431.3,395.6 432.3,395.6 432.3,394.6 433.3,394.6 433.3,396.8 434.3,396.8 434.3,396.5 435.3,396.5 435.3,398.1 436.3,398.1 436.3,398.5 437.3,398.5 437.3,398.8 438.3,398.8 438.3,400.1 439.3,400.1 439.3,400.8 440.3,400.8 440.3,403.3 441.3,403.3 441.3,403.4 442.3,403.4 442.3,404.5 443.3,404.5 443.3,407.1 444.3,407.1 444.3,407.1 445.3,407.1 445.3,406.7 446.3,406.7 446.3,406 447.3,406 447.3,408.8 448.3,408.8 448.3,408.8 449.3,408.8 449.3,408.7 450.3,408.7 450.3,408.6 451.3,408.6 451.3,408.5 452.3,408.5 452.3,405.6 453.3,405.6 453.3,409.3 454.3,409.3 454.3,407.6 455.3,407.6 455.3,410.9 456.3,410.9 456.3,409.3 457.3,409.3 457.3,409.2 458.3,409.2 458.3,408.5 459.3,408.5 459.3,410.5 460.3,410.5 460.3,411 461.3,411 461.3,412.9 462.3,412.9 462.3,414.2 463.3,414.2 463.3,415.2 464.3,415.2 464.3,414 465.3,414 465.3,413 466.3,413 466.3,415.5 467.3,415.5 467.3,416.5 468.3,416.5 468.3,418.1 469.3,418.1 469.3,420.3 470.3,420.3 470.3,420.5 471.3,420.5 471.3,422.2 472.3,422.2 472.3,420.4 473.3,420.4 473.3,424.6 474.3,424.6 474.3,425.7 475.3,425.7 475.3,427.3 476.3,427.3 476.3,425.5 477.3,425.5 477.3,423.6 478.3,423.6 478.3,424.1 479.3,424.1 479.3,422.4 480.3,422.4 480.3,422.3 481.3,422.3 481.3,425.9 482.3,425.9 482.3,429.1 483.3,429.1 483.3,428.9 484.3,428.9 484.3,430 485.3,430 485.3,427.8 486.3,427.8 486.3,427 487.3,427 487.3,424.6 488.3,424.6 488.3,425.4 489.3,425.4 489.3,428.7 490.3,428.7 490.3,431.4 491.3,431.4 491.3,431.5 492.3,431.5 492.3,431.3 493.3,431.3 493.3,430.9 494.3,430.9 494.3,430.4 495.3,430.4 495.3,427.9 496.3,427.9 496.3,428.4 497.3,428.4 497.3,434 498.3,434 498.3,435.1 499.3,435.1 499.3,435.9 500.3,435.9 500.3,437.7 501.3,437.7 501.3,440.4 502.3,440.4 502.3,443.2 503.3,443.2 503.3,444.2 504.3,444.2 504.3,442.9 505.3,442.9 505.3,442 506.3,442 506.3,443.3 507.3,443.3 507.3,444 508.3,444 508.3,444.1 509.3,444.1 509.3,440.8 510.3,440.8 510.3,444.5 511.3,444.5 511.3,445.1 512.3,445.1 512.3,446 513.3,446 513.3,444.1 514.3,444.1 514.3,443.1 515.3,443.1 515.3,441.1 516.3,441.1 516.3,440.1 517.3,440.1 517.3,439.7 518.3,439.7 518.3,437 519.3,437 519.3,437.9 520.3,437.9 520.3,435.4 521.3,435.4 521.3,435.9 522.3,435.9 522.3,435.7 523.3,435.7 523.3,433 524.3,433 524.3,430.6 525.3,430.6 525.3,430.1 526.3,430.1 526.3,427.7 527.3,427.7 527.3,425.2 528.3,425.2 528.3,425.1 529.3,425.1 529.3,428.8 530.3,428.8 530.3,429.6 531.3,429.6 531.3,428.1 532.3,428.1 532.3,427.3 533.3,427.3 533.3,425.8 534.3,425.8 534.3,426.5 535.3,426.5 535.3,426.3 536.3,426.3 536.3,424.4 537.3,424.4 537.3,421.9 538.3,421.9 538.3,421.7 539.3,421.7 539.3,423.6 540.3,423.6 540.3,425 541.3,425 541.3,419.4 542.3,419.4 542.3,418.8 543.3,418.8 543.3,414.1 544.3,414.1 544.3,410.2 545.3,410.2 545.3,404.6 546.3,404.6 546.3,402.3 547.3,402.3 547.3,400.5 548.3,400.5 548.3,398.4 549.3,398.4 549.3,391.9 550.3,391.9 550.3,390.7 551.3,390.7 551.3,384 552.3,384 552.3,377.6 553.3,377.6 553.3,372.6 554.3,372.6 554.3,370.2 555.3,370.2 555.3,368.6 556.3,368.6 556.3,366.3 557.3,366.3 557.3,364.7 558.3,364.7 558.3,361.2 559.3,361.2 559.3,362.4 560.3,362.4 560.3,360.5 561.3,360.5 561.3,357.7 562.3,357.7 562.3,355.4 563.3,355.4 563.3,351.4 564.3,351.4 564.3,351.3 565.3,351.3 565.3,348.5 566.3,348.5 566.3,349 567.3,349 567.3,347.9 568.3,347.9 568.3,348 569.3,348 569.3,348.1 570.3,348.1 570.3,349.9 571.3,349.9 571.3,347.9 572.3,347.9 572.3,348.9 573.3,348.9 573.3,347.7 574.3,347.7 574.3,342.8 575.3,342.8 575.3,341.3 576.3,341.3 576.3,340.3 577.3,340.3 577.3,338.7 578.3,338.7 578.3,340.5 579.3,340.5 579.3,343.1 580.3,343.1 580.3,345.1 581.3,345.1 581.3,342.4 582.3,342.4 582.3,337.8 583.3,337.8 583.3,335.6 584.3,335.6 584.3,334.9 585.3,334.9 585.3,336.2 586.3,336.2 586.3,337.5 587.3,337.5 587.3,337.9 588.3,337.9 588.3,337.8 589.3,337.8 589.3,338.5 590.3,338.5 590.3,338.8 591.3,338.8 591.3,339.2 592.3,339.2 592.3,336.8 593.3,336.8 593.3,339.5 594.3,339.5 594.3,338.3 595.3,338.3 595.3,335.2 596.3,335.2 596.3,334.5 597.3,334.5 597.3,335.6 598.3,335.6 598.3,335.2 599.3,335.2 599.3,335.7 600.3,335.7 600.3,336.1 601.3,336.1 601.3,337.4 602.3,337.4 602.3,337 603.3,337 603.3,336.5 604.3,336.5 604.3,338.2 605.3,338.2 605.3,338.6 606.3,338.6 606.3,336.2 607.3,336.2 607.3,333.9 608.3,333.9 608.3,330.9 609.3,330.9 609.3,326.9 610.3,326.9 610.3,327.6 611.3,327.6 611.3,326.9 612.3,326.9 612.3,326.9 613.3,326.9 613.3,327.5 614.3,327.5 614.3,330.2 615.3,330.2 615.3,331 616.3,331 616.3,329.6 617.3,329.6 617.3,327.1 618.3,327.1 618.3,323.3 619.3,323.3 619.3,323 620.3,323 620.3,319.5 621.3,319.5 621.3,323.7 622.3,323.7 622.3,325.6 623.3,325.6 623.3,326.6 624.3,326.6 624.3,327 625.3,327 625.3,325.9 626.3,325.9 626.3,330 627.3,330 627.3,330.8 628.3,330.8 628.3,330.8 629.3,330.8 629.3,329.2 630.3,329.2 630.3,327.1 631.3,327.1 631.3,327.7 632.3,327.7 632.3,328.1 633.3,328.1 633.3,327.4 634.3,327.4 634.3,324.3 635.3,324.3 635.3,326 636.3,326 636.3,324.8 637.3,324.8 637.3,322.7 638.3,322.7 638.3,321.3 639.3,321.3 639.3,320.6 640.3,320.6 640.3,320.4 641.3,320.4 641.3,322.1 642.3,322.1 642.3,323 643.3,323 643.3,322.9 644.3,322.9 644.3,322.9 645.3,322.9 645.3,321.8 646.3,321.8 646.3,320.6 647.3,320.6 647.3,319.5 648.3,319.5 648.3,318 649.3,318 649.3,315.9 650.3,315.9 650.3,316.2 651.3,316.2 651.3,316 652.3,316 652.3,313.2 653.3,313.2 653.3,316.9 654.3,316.9 654.3,313.1 655.3,313.1 655.3,314 656.3,314 656.3,313.9 657.3,313.9 657.3,313.8 658.3,313.8 658.3,313.5 659.3,313.5 659.3,310.9 660.3,310.9 660.3,311.5 661.3,311.5 661.3,312.7 662.3,312.7 662.3,312 663.3,312 663.3,312.5 664.3,312.5 664.3,312.5 665.3,312.5 665.3,312.8 666.3,312.8 666.3,315.3 667.3,315.3 667.3,316.3 668.3,316.3 668.3,315 669.3,315 669.3,314.8 670.3,314.8 670.3,312.5 671.3,312.5 671.3,312.5 672.3,312.5 672.3,315.2 673.3,315.2 673.3,315.2 674.3,315.2 674.3,315.5 675.3,315.5 675.3,314.9 676.3,314.9 676.3,314 677.3,314 677.3,312.8 678.3,312.8 678.3,310.3 679.3,310.3 679.3,317 680.3,317 680.3,318.9 681.3,318.9 681.3,316.9 682.3,316.9 682.3,314.5 683.3,314.5 683.3,313.6 684.3,313.6 684.3,317.6 685.3,317.6 685.3,320.8 686.3,320.8 686.3,321.4 687.3,321.4 687.3,322.2 688.3,322.2 688.3,323.2 689.3,323.2 689.3,321.9 690.3,321.9 690.3,319.3 691.3,319.3 691.3,321.6 692.3,321.6 692.3,324.6 693.3,324.6 693.3,326.7 694.3,326.7 694.3,328.4 695.3,328.4 695.3,332.6 696.3,332.6 696.3,331.9 697.3,331.9 697.3,328.1 698.3,328.1 698.3,329.6 699.3,329.6 699.3,330.2 700.3,330.2 700.3,330.4 701.3,330.4 701.3,332 702.3,332 702.3,333.4 703.3,333.4 703.3,332.4 704.3,332.4 704.3,333.9 705.3,333.9 705.3,334.5 706.3,334.5 706.3,337.1 707.3,337.1 707.3,339 708.3,339 708.3,339.4 709.3,339.4 709.3,338.5 710.3,338.5 710.3,337.7 711.3,337.7 711.3,338.9 712.3,338.9 712.3,340.5 713.3,340.5 713.3,341.2 714.3,341.2 714.3,340.1 715.3,340.1 715.3,343.2 716.3,343.2 716.3,344.6 717.3,344.6 717.3,346.2 718.3,346.2 718.3,344.8 719.3,344.8 719.3,350.5 720.3,350.5 720.3,351.8 721.3,351.8 721.3,351.7 722.3,351.7 722.3,349.7 723.3,349.7 723.3,351.3 724.3,351.3 724.3,353.1 725.3,353.1 725.3,354.9 726.3,354.9 726.3,354.2 727.3,354.2 727.3,355.3 728.3,355.3 728.3,354.6 729.3,354.6 729.3,354.8 730.3,354.8 730.3,353.8 731.3,353.8 731.3,354.3 732.3,354.3 732.3,356 733.3,356 733.3,357.1 734.3,357.1 734.3,357.4 735.3,357.4 735.3,360 736.3,360 736.3,359.8 737.3,359.8 737.3,360 738.3,360 738.3,358.1 739.3,358.1 739.3,357.9 740.3,357.9 740.3,357.3 741.3,357.3 741.3,356.6 742.3,356.6 742.3,353.7 743.3,353.7 743.3,357.2 744.3,357.2 744.3,359.8 745.3,359.8 745.3,361.5 746.3,361.5 746.3,361.5 747.3,361.5 747.3,361.4 748.3,361.4 748.3,360.5 749.3,360.5 749.3,363.8 750.3,363.8 750.3,364.2 751.3,364.2 751.3,366.4 752.3,366.4 752.3,367.2 753.3,367.2 753.3,368.1 754.3,368.1 754.3,370.6 755.3,370.6 755.3,372.5 756.3,372.5 756.3,372.9 757.3,372.9 757.3,373.5 758.3,373.5 758.3,375.7 759.3,375.7 759.3,378.2 760.3,378.2 760.3,379.8 761.3,379.8 761.3,380.9 762.3,380.9 762.3,381.7 763.3,381.7 763.3,381.8 764.3,381.8 764.3,384.3 765.3,384.3 765.3,385.4 766.3,385.4 766.3,386.7 767.3,386.7 767.3,387.9 768.3,387.9 768.3,388.3 769.3,388.3 769.3,388.8 770.3,388.8 770.3,387.3 771.3,387.3 771.3,385.8 772.3,385.8 772.3,386.3 773.3,386.3 773.3,385.4 774.3,385.4 774.3,385.5 775.3,385.5 775.3,385.2 776.3,385.2 776.3,383.8 777.3,383.8 777.3,377.9 778.3,377.9 778.3,378.8 779.3,378.8 779.3,380.4 780.3,380.4 780.3,379 781.3,379 781.3,380.7 782.3,380.7 782.3,380.5 783.3,380.5 783.3,379.2 784.3,379.2 784.3,375.2 785.3,375.2 785.3,372 786.3,372 786.3,372.1 787.3,372.1 787.3,368.5 788.3,368.5 788.3,371.1 789.3,371.1 789.3,371.4 790.3,371.4 790.3,374.1 791.3,374.1 791.3,370.4 792.3,370.4 792.3,368 793.3,368 793.3,365 794.3,365 794.3,362 795.3,362 795.3,363.1 796.3,363.1 796.3,359 797.3,359 797.3,355.7 798.3,355.7 798.3,353 799.3,353 799.3,354.4 800.3,354.4 800.3,355.5 801.3,355.5 801.3,351.9 802.3,351.9 802.3,349.7 803.3,349.7 803.3,347.1 804.3,347.1 804.3,344.2 805.3,344.2 805.3,341 806.3,341 806.3,338.3 807.3,338.3 807.3,336.6 808.3,336.6 808.3,334.7 809.3,334.7 809.3,333.4 810.3,333.4 810.3,328 811.3,328 811.3,331 812.3,331 812.3,328.3 813.3,328.3 813.3,325.3 814.3,325.3 814.3,325 815.3,325 815.3,324.5 816.3,324.5 816.3,322.6 817.3,322.6 817.3,320.7 818.3,320.7 818.3,319.5 819.3,319.5 819.3,319.4 820.3,319.4 820.3,319.2 821.3,319.2 821.3,318.4 822.3,318.4 822.3,313.8 823.3,313.8 823.3,311.9 824.3,311.9 824.3,306.9 825.3,306.9 825.3,310.5 826.3,310.5 826.3,308.3 827.3,308.3 827.3,307.5 828.3,307.5 828.3,303.9 829.3,303.9 829.3,301.2 830.3,301.2 830.3,295.9 831.3,295.9 831.3,297.7 832.3,297.7 832.3,298.3 833.3,298.3 833.3,297.8 834.3,297.8 834.3,294.8 835.3,294.8 835.3,293.6 836.3,293.6 836.3,292 837.3,292 837.3,290.5 838.3,290.5 838.3,289.1 839.3,289.1 839.3,285.6 840.3,285.6 840.3,285.5 841.3,285.5 841.3,281.3 842.3,281.3 842.3,281.8 843.3,281.8 843.3,280.3 844.3,280.3 844.3,279.7 845.3,279.7 845.3,281.6 846.3,281.6 846.3,278.6 847.3,278.6 847.3,275.8 848.3,275.8 848.3,272.4 849.3,272.4 849.3,269.6 850.3,269.6 850.3,270.7 851.3,270.7 851.3,266.3 852.3,266.3 852.3,263.1 853.3,263.1 853.3,264.9 854.3,264.9 854.3,265.4 855.3,265.4 855.3,263.9 856.3,263.9 856.3,263.8 857.3,263.8 857.3,262.3 858.3,262.3 858.3,259.2 859.3,259.2 859.3,257.3 860.3,257.3 860.3,252.9 861.3,252.9 861.3,250.8 862.3,250.8 862.3,250.2 863.3,250.2 863.3,244.4 864.3,244.4 864.3,249.1 865.3,249.1 865.3,247.8 866.3,247.8 866.3,245.4 867.3,245.4 867.3,242.4 868.3,242.4 868.3,241.7 869.3,241.7 869.3,241.7 870.3,241.7 870.3,241.9 871.3,241.9 871.3,238.4 872.3,238.4 872.3,233.6 873.3,233.6 873.3,232.3 874.3,232.3 874.3,227.9 875.3,227.9 875.3,226.7 876.3,226.7 876.3,223.8 877.3,223.8 877.3,223.3 878.3,223.3 878.3,221 879.3,221 879.3,221.4 880.3,221.4 880.3,220.7 881.3,220.7 881.3,218.5 882.3,218.5 882.3,214.9 883.3,214.9 883.3,215.3 884.3,215.3 884.3,212.2 885.3,212.2 885.3,209.2 886.3,209.2 886.3,207.9 887.3,207.9 887.3,206.8 888.3,206.8 888.3,206.7 889.3,206.7 889.3,205 890.3,205 890.3,205.5 891.3,205.5 891.3,201.4 892.3,201.4 892.3,196.7 893.3,196.7 893.3,193.4 894.3,193.4 894.3,192.4 895.3,192.4 895.3,189.4 896.3,189.4 896.3,188.1 897.3,188.1 897.3,187.3 898.3,187.3 898.3,184.9 899.3,184.9 899.3,184.7 900.3,184.7 900.3,183.8 901.3,183.8 901.3,182.2 902.3,182.2 902.3,182.5 903.3,182.5 903.3,181.4 904.3,181.4 904.3,180.4 905.3,180.4 905.3,178.5 906.3,178.5 906.3,174.3 907.3,174.3 907.3,175.9 908.3,175.9 908.3,173.8 909.3,173.8 909.3,175.7 910.3,175.7 910.3,174.5 911.3,174.5 911.3,169 912.3,169 912.3,166.7 913.3,166.7 913.3,166.9 914.3,166.9 914.3,164.4 915.3,164.4 915.3,165.8 916.3,165.8 916.3,166.9 917.3,166.9 917.3,167.1 918.3,167.1 918.3,163.6 919.3,163.6 919.3,161.1 920.3,161.1 920.3,159.3 921.3,159.3 921.3,156.1 922.3,156.1 922.3,153.8 923.3,153.8 923.3,150.9 924.3,150.9 924.3,150.5 925.3,150.5 925.3,149.3 926.3,149.3 926.3,149.8 927.3,149.8 927.3,149.2 928.3,149.2 928.3,148.5 929.3,148.5 929.3,143.5 930.3,143.5 930.3,141.4 931.3,141.4 931.3,142.1 932.3,142.1 932.3,140.5 933.3,140.5 933.3,138.6 934.3,138.6 934.3,134.6 935.3,134.6 935.3,131.9 936.3,131.9 936.3,133.2 937.3,133.2 937.3,133.2 938.3,133.2 938.3,132.4 939.3,132.4 939.3,130.2 940.3,130.2 940.3,129.1 941.3,129.1 941.3,128.2 942.3,128.2 942.3,126.7 943.3,126.7 943.3,125.4 944.3,125.4 943.9,122.2 944.9,122.2 944.9,129.5 943.9,129.5 944.3,130.2 943.3,130.2 943.3,133.3 942.3,133.3 942.3,133.5 941.3,133.5 941.3,134.2 940.3,134.2 940.3,136.4 939.3,136.4 939.3,138.1 938.3,138.1 938.3,138.1 937.3,138.1 937.3,138 936.3,138 936.3,139.5 935.3,139.5 935.3,140.7 934.3,140.7 934.3,143.1 933.3,143.1 933.3,146.5 932.3,146.5 932.3,149.7 931.3,149.7 931.3,149.6 930.3,149.6 930.3,151.9 929.3,151.9 929.3,157.6 928.3,157.6 928.3,155.2 927.3,155.2 927.3,154.3 926.3,154.3 926.3,161.8 925.3,161.8 925.3,155.7 924.3,155.7 924.3,157.2 923.3,157.2 923.3,159.5 922.3,159.5 922.3,162.6 921.3,162.6 921.3,164.6 920.3,164.6 920.3,167.8 919.3,167.8 919.3,172.7 918.3,172.7 918.3,172.4 917.3,172.4 917.3,173.4 916.3,173.4 916.3,171 915.3,171 915.3,171.9 914.3,171.9 914.3,174.5 913.3,174.5 913.3,174.4 912.3,174.4 912.3,179.7 911.3,179.7 911.3,182.9 910.3,182.9 910.3,180.8 909.3,180.8 909.3,180 908.3,180 908.3,180.5 907.3,180.5 907.3,183.7 906.3,183.7 906.3,185 905.3,185 905.3,186 904.3,186 904.3,186.2 903.3,186.2 903.3,188 902.3,188 902.3,188 901.3,188 901.3,187.9 900.3,187.9 900.3,189.8 899.3,189.8 899.3,191.8 898.3,191.8 898.3,192.4 897.3,192.4 897.3,193.6 896.3,193.6 896.3,195.9 895.3,195.9 895.3,197.6 894.3,197.6 894.3,200.4 893.3,200.4 893.3,204.4 892.3,204.4 892.3,206.8 891.3,206.8 891.3,209.8 890.3,209.8 890.3,210.8 889.3,210.8 889.3,211.6 888.3,211.6 888.3,211.9 887.3,211.9 887.3,213.6 886.3,213.6 886.3,214.2 885.3,214.2 885.3,217 884.3,217 884.3,220.1 883.3,220.1 883.3,221.7 882.3,221.7 882.3,223.6 881.3,223.6 881.3,225.3 880.3,225.3 880.3,227 879.3,227 879.3,227 878.3,227 878.3,230.3 877.3,230.3 877.3,230.3 876.3,230.3 876.3,234.3 875.3,234.3 875.3,235.7 874.3,235.7 874.3,238.2 873.3,238.2 873.3,240.7 872.3,240.7 872.3,245.2 871.3,245.2 871.3,250 870.3,250 870.3,246.6 869.3,246.6 869.3,246 868.3,246 868.3,248.1 867.3,248.1 867.3,253.9 866.3,253.9 866.3,258.6 865.3,258.6 865.3,255.3 864.3,255.3 864.3,256.4 863.3,256.4 863.3,255.6 862.3,255.6 862.3,256.9 861.3,256.9 861.3,261 860.3,261 860.3,262.9 859.3,262.9 859.3,265.1 858.3,265.1 858.3,266.9 857.3,266.9 857.3,268.1 856.3,268.1 856.3,269.4 855.3,269.4 855.3,271 854.3,271 854.3,271.1 853.3,271.1 853.3,271.8 852.3,271.8 852.3,273.5 851.3,273.5 851.3,275.4 850.3,275.4 850.3,277.5 849.3,277.5 849.3,279 848.3,279 848.3,282.2 847.3,282.2 847.3,285.2 846.3,285.2 846.3,286.2 845.3,286.2 845.3,286.5 844.3,286.5 844.3,285.8 843.3,285.8 843.3,286.5 842.3,286.5 842.3,289.5 841.3,289.5 841.3,291.3 840.3,291.3 840.3,295.1 839.3,295.1 839.3,295.1 838.3,295.1 838.3,295.3 837.3,295.3 837.3,296.6 836.3,296.6 836.3,300.1 835.3,300.1 835.3,302.2 834.3,302.2 834.3,302.9 833.3,302.9 833.3,304.3 832.3,304.3 832.3,303.2 831.3,303.2 831.3,302.1 830.3,302.1 830.3,306.3 829.3,306.3 829.3,309.1 828.3,309.1 828.3,311.9 827.3,311.9 827.3,314.2 826.3,314.2 826.3,315.7 825.3,315.7 825.3,316.6 824.3,316.6 824.3,318.1 823.3,318.1 823.3,321.3 822.3,321.3 822.3,323.7 821.3,323.7 821.3,330 820.3,330 820.3,325.5 819.3,325.5 819.3,325.2 818.3,325.2 818.3,325.8 817.3,325.8 817.3,327.6 816.3,327.6 816.3,330.8 815.3,330.8 815.3,330.9 814.3,330.9 814.3,335.9 813.3,335.9 813.3,333.7 812.3,333.7 812.3,336.5 811.3,336.5 811.3,336.9 810.3,336.9 810.3,337.9 809.3,337.9 809.3,340.2 808.3,340.2 808.3,341.7 807.3,341.7 807.3,345.2 806.3,345.2 806.3,346.6 805.3,346.6 805.3,349.5 804.3,349.5 804.3,351.4 803.3,351.4 803.3,354 802.3,354 802.3,357.8 801.3,357.8 801.3,360 800.3,360 800.3,359.6 799.3,359.6 799.3,359.7 798.3,359.7 798.3,359.9 797.3,359.9 797.3,363.6 796.3,363.6 796.3,367.9 795.3,367.9 795.3,372.5 794.3,372.5 794.3,370.2 793.3,370.2 793.3,372.9 792.3,372.9 792.3,376.6 791.3,376.6 791.3,378.7 790.3,378.7 790.3,377.5 789.3,377.5 789.3,375.9 788.3,375.9 788.3,375.6 787.3,375.6 787.3,377.7 786.3,377.7 786.3,378.7 785.3,378.7 785.3,381.9 784.3,381.9 784.3,384.9 783.3,384.9 783.3,385.7 782.3,385.7 782.3,385.4 781.3,385.4 781.3,386.4 780.3,386.4 780.3,387.9 779.3,387.9 779.3,386.3 778.3,386.3 778.3,386.5 777.3,386.5 777.3,389.3 776.3,389.3 776.3,390.2 775.3,390.2 775.3,390.1 774.3,390.1 774.3,390.4 773.3,390.4 773.3,391.1 772.3,391.1 772.3,391.2 771.3,391.2 771.3,392.8 770.3,392.8 770.3,393.7 769.3,393.7 769.3,393.4 768.3,393.4 768.3,392.6 767.3,392.6 767.3,391.8 766.3,391.8 766.3,391.1 765.3,391.1 765.3,389.6 764.3,389.6 764.3,388.5 763.3,388.5 763.3,387.1 762.3,387.1 762.3,385.6 761.3,385.6 761.3,388.1 760.3,388.1 760.3,382.3 759.3,382.3 759.3,381.3 758.3,381.3 758.3,379.2 757.3,379.2 757.3,377.9 756.3,377.9 756.3,376.8 755.3,376.8 755.3,376.3 754.3,376.3 754.3,373.9 753.3,373.9 753.3,374.6 752.3,374.6 752.3,371 751.3,371 751.3,369.6 750.3,369.6 750.3,369.1 749.3,369.1 749.3,368.8 748.3,368.8 748.3,367 747.3,367 747.3,367.2 746.3,367.2 746.3,367.2 745.3,367.2 745.3,366.7 744.3,366.7 744.3,362.8 743.3,362.8 743.3,360.8 742.3,360.8 742.3,362 741.3,362 741.3,362.1 740.3,362.1 740.3,363.4 739.3,363.4 739.3,364.9 738.3,364.9 738.3,365.4 737.3,365.4 737.3,366 736.3,366 736.3,365.6 735.3,365.6 735.3,364.5 734.3,364.5 734.3,362.4 733.3,362.4 733.3,363.4 732.3,363.4 732.3,362.2 731.3,362.2 731.3,359 730.3,359 730.3,361.6 729.3,361.6 729.3,359.8 728.3,359.8 728.3,359.8 727.3,359.8 727.3,360 726.3,360 726.3,360.2 725.3,360.2 725.3,359.6 724.3,359.6 724.3,359.7 723.3,359.7 723.3,357.2 722.3,357.2 722.3,356.9 721.3,356.9 721.3,357.5 720.3,357.5 720.3,355 719.3,355 719.3,352.6 718.3,352.6 718.3,351 717.3,351 717.3,349.6 716.3,349.6 716.3,349.2 715.3,349.2 715.3,347.8 714.3,347.8 714.3,351.1 713.3,351.1 713.3,347.7 712.3,347.7 712.3,346.4 711.3,346.4 711.3,345.9 710.3,345.9 710.3,345.3 709.3,345.3 709.3,345.4 708.3,345.4 708.3,343.4 707.3,343.4 707.3,342.5 706.3,342.5 706.3,341.2 705.3,341.2 705.3,339.3 704.3,339.3 704.3,342.9 703.3,342.9 703.3,339.3 702.3,339.3 702.3,336.4 701.3,336.4 701.3,336.4 700.3,336.4 700.3,337.5 699.3,337.5 699.3,339.8 698.3,339.8 698.3,336.8 697.3,336.8 697.3,338.2 696.3,338.2 696.3,336.9 695.3,336.9 695.3,337.1 694.3,337.1 694.3,331.4 693.3,331.4 693.3,329.4 692.3,329.4 692.3,328.5 691.3,328.5 691.3,324.5 690.3,324.5 690.3,326.8 689.3,326.8 689.3,330.3 688.3,330.3 688.3,331.3 687.3,331.3 687.3,327.3 686.3,327.3 686.3,325.5 685.3,325.5 685.3,322.6 684.3,322.6 684.3,321.5 683.3,321.5 683.3,319.7 682.3,319.7 682.3,322.4 681.3,322.4 681.3,323.3 680.3,323.3 680.3,321.5 679.3,321.5 679.3,319.2 678.3,319.2 678.3,319.2 677.3,319.2 677.3,319.3 676.3,319.3 676.3,322.5 675.3,322.5 675.3,320.2 674.3,320.2 674.3,321 673.3,321 673.3,320 672.3,320 672.3,319.7 671.3,319.7 671.3,317.7 670.3,317.7 670.3,319.5 669.3,319.5 669.3,324.5 668.3,324.5 668.3,322.8 667.3,322.8 667.3,319.9 666.3,319.9 666.3,317.4 665.3,317.4 665.3,321.4 664.3,321.4 664.3,318.2 663.3,318.2 663.3,317.6 662.3,317.6 662.3,317.5 661.3,317.5 661.3,316.4 660.3,316.4 660.3,319.2 659.3,319.2 659.3,322.5 658.3,322.5 658.3,318.5 657.3,318.5 657.3,319 656.3,319 656.3,322.5 655.3,322.5 655.3,320.4 654.3,320.4 654.3,322.6 653.3,322.6 653.3,321.8 652.3,321.8 652.3,323.5 651.3,323.5 651.3,321.5 650.3,321.5 650.3,325.4 649.3,325.4 649.3,323 648.3,323 648.3,324.6 647.3,324.6 647.3,326.1 646.3,326.1 646.3,327.1 645.3,327.1 645.3,328.8 644.3,328.8 644.3,329.4 643.3,329.4 643.3,330.5 642.3,330.5 642.3,326.5 641.3,326.5 641.3,325.3 640.3,325.3 640.3,325.4 639.3,325.4 639.3,325.7 638.3,325.7 638.3,327.2 637.3,327.2 637.3,329.3 636.3,329.3 636.3,331.3 635.3,331.3 635.3,332.2 634.3,332.2 634.3,333.1 633.3,333.1 633.3,332.8 632.3,332.8 632.3,332.5 631.3,332.5 631.3,332.1 630.3,332.1 630.3,334.6 629.3,334.6 629.3,337.5 628.3,337.5 628.3,335.6 627.3,335.6 627.3,334.4 626.3,334.4 626.3,334.1 625.3,334.1 625.3,332 624.3,332 624.3,333.7 623.3,333.7 623.3,332.3 622.3,332.3 622.3,329.2 621.3,329.2 621.3,326.6 620.3,326.6 620.3,328.1 619.3,328.1 619.3,330 618.3,330 618.3,332.9 617.3,332.9 617.3,335.2 616.3,335.2 616.3,338.1 615.3,338.1 615.3,337.2 614.3,337.2 614.3,332.7 613.3,332.7 613.3,333 612.3,333 612.3,333.1 611.3,333.1 611.3,332.8 610.3,332.8 610.3,334.8 609.3,334.8 609.3,337.8 608.3,337.8 608.3,338.6 607.3,338.6 607.3,344.6 606.3,344.6 606.3,343.7 605.3,343.7 605.3,342.5 604.3,342.5 604.3,343 603.3,343 603.3,341.7 602.3,341.7 602.3,342.8 601.3,342.8 601.3,342.3 600.3,342.3 600.3,341.5 599.3,341.5 599.3,341.8 598.3,341.8 598.3,341.3 597.3,341.3 597.3,342.1 596.3,342.1 596.3,343 595.3,343 595.3,343.1 594.3,343.1 594.3,343.7 593.3,343.7 593.3,343.9 592.3,343.9 592.3,343.8 591.3,343.8 591.3,343.3 590.3,343.3 590.3,349.5 589.3,349.5 589.3,342.3 588.3,342.3 588.3,342.1 587.3,342.1 587.3,341.7 586.3,341.7 586.3,342 585.3,342 585.3,341 584.3,341 584.3,341.3 583.3,341.3 583.3,344 582.3,344 582.3,347.1 581.3,347.1 581.3,350.9 580.3,350.9 580.3,348.8 579.3,348.8 579.3,346 578.3,346 578.3,345.7 577.3,345.7 577.3,344.9 576.3,344.9 576.3,346.4 575.3,346.4 575.3,348.8 574.3,348.8 574.3,351.8 573.3,351.8 573.3,353.8 572.3,353.8 572.3,354.5 571.3,354.5 571.3,354.7 570.3,354.7 570.3,354.6 569.3,354.6 569.3,353.4 568.3,353.4 568.3,353.2 567.3,353.2 567.3,355.1 566.3,355.1 566.3,354.2 565.3,354.2 565.3,356.2 564.3,356.2 564.3,358.6 563.3,358.6 563.3,360.2 562.3,360.2 562.3,363.4 561.3,363.4 561.3,365.4 560.3,365.4 560.3,367.3 559.3,367.3 559.3,368.8 558.3,368.8 558.3,369.1 557.3,369.1 557.3,371.3 556.3,371.3 556.3,373 555.3,373 555.3,376.6 554.3,376.6 554.3,377.9 553.3,377.9 553.3,382.5 552.3,382.5 552.3,389.3 551.3,389.3 551.3,397 550.3,397 550.3,399.5 549.3,399.5 549.3,403.5 548.3,403.5 548.3,407.8 547.3,407.8 547.3,408.2 546.3,408.2 546.3,409.1 545.3,409.1 545.3,414.6 544.3,414.6 544.3,422.1 543.3,422.1 543.3,424.6 542.3,424.6 542.3,426.5 541.3,426.5 541.3,430.2 540.3,430.2 540.3,427.7 539.3,427.7 539.3,428.1 538.3,428.1 538.3,427.5 537.3,427.5 537.3,429.5 536.3,429.5 536.3,433.5 535.3,433.5 535.3,431.9 534.3,431.9 534.3,434.2 533.3,434.2 533.3,432.9 532.3,432.9 532.3,434.4 531.3,434.4 531.3,435.2 530.3,435.2 530.3,433.4 529.3,433.4 529.3,432.6 528.3,432.6 528.3,432.7 527.3,432.7 527.3,433.5 526.3,433.5 526.3,434.2 525.3,434.2 525.3,436.8 524.3,436.8 524.3,438.4 523.3,438.4 523.3,441.4 522.3,441.4 522.3,441.1 521.3,441.1 521.3,442.2 520.3,442.2 520.3,443.6 519.3,443.6 519.3,443.7 518.3,443.7 518.3,444.2 517.3,444.2 517.3,444.7 516.3,444.7 516.3,445.6 515.3,445.6 515.3,447.9 514.3,447.9 514.3,450.2 513.3,450.2 513.3,450.4 512.3,450.4 512.3,451.9 511.3,451.9 511.3,450.3 510.3,450.3 510.3,450.1 509.3,450.1 509.3,449.4 508.3,449.4 508.3,448.6 507.3,448.6 507.3,449.2 506.3,449.2 506.3,446.5 505.3,446.5 505.3,448.7 504.3,448.7 504.3,448.4 503.3,448.4 503.3,448.4 502.3,448.4 502.3,446.3 501.3,446.3 501.3,442.9 500.3,442.9 500.3,442.1 499.3,442.1 499.3,440.5 498.3,440.5 498.3,439.1 497.3,439.1 497.3,436.2 496.3,436.2 496.3,434.9 495.3,434.9 495.3,436.9 494.3,436.9 494.3,437.1 493.3,437.1 493.3,435.8 492.3,435.8 492.3,436.1 491.3,436.1 491.3,436 490.3,436 490.3,433.8 489.3,433.8 489.3,434.9 488.3,434.9 488.3,431.8 487.3,431.8 487.3,432.4 486.3,432.4 486.3,433.8 485.3,433.8 485.3,435.8 484.3,435.8 484.3,436.6 483.3,436.6 483.3,433.8 482.3,433.8 482.3,432 481.3,432 481.3,426.8 480.3,426.8 480.3,429.3 479.3,429.3 479.3,429.9 478.3,429.9 478.3,429.6 477.3,429.6 477.3,431.8 476.3,431.8 476.3,433.1 475.3,433.1 475.3,431.6 474.3,431.6 474.3,430.7 473.3,430.7 473.3,428.1 472.3,428.1 472.3,428 471.3,428 471.3,428.4 470.3,428.4 470.3,425.8 469.3,425.8 469.3,424.3 468.3,424.3 468.3,421.7 467.3,421.7 467.3,420.4 466.3,420.4 466.3,419 465.3,419 465.3,421.5 464.3,421.5 464.3,419.8 463.3,419.8 463.3,421.5 462.3,421.5 462.3,417.2 461.3,417.2 461.3,415.4 460.3,415.4 460.3,414.6 459.3,414.6 459.3,413.8 458.3,413.8 458.3,416.2 457.3,416.2 457.3,418.1 456.3,418.1 456.3,417.2 455.3,417.2 455.3,416.9 454.3,416.9 454.3,414.3 453.3,414.3 453.3,413.2 452.3,413.2 452.3,413.1 451.3,413.1 451.3,413.2 450.3,413.2 450.3,414 449.3,414 449.3,415.1 448.3,415.1 448.3,415.6 447.3,415.6 447.3,412.7 446.3,412.7 446.3,411.9 445.3,411.9 445.3,412.3 444.3,412.3 444.3,412.8 443.3,412.8 443.3,412.3 442.3,412.3 442.3,410.9 441.3,410.9 441.3,408.4 440.3,408.4 440.3,406.3 439.3,406.3 439.3,404.5 438.3,404.5 438.3,403.9 437.3,403.9 437.3,403.7 436.3,403.7 436.3,402.9 435.3,402.9 435.3,400.9 434.3,400.9 434.3,401.7 433.3,401.7 433.3,401.9 432.3,401.9 432.3,401.3 431.3,401.3 431.3,399.1 430.3,399.1 430.3,400.3 429.3,400.3 429.3,399.6 428.3,399.6 428.3,400.4 427.3,400.4 427.3,406.9 426.3,406.9 426.3,403 425.3,403 425.3,402.8 424.3,402.8 424.3,405.1 423.3,405.1 423.3,404.3 422.3,404.3 422.3,402.6 421.3,402.6 421.3,402.7 420.3,402.7 420.3,410.6 419.3,410.6 419.3,412.7 418.3,412.7 418.3,413.2 417.3,413.2 417.3,412.6 416.3,412.6 416.3,412.2 415.3,412.2 415.3,411.5 414.3,411.5 414.3,412.7 413.3,412.7 413.3,412.8 412.3,412.8 412.3,414.5 411.3,414.5 411.3,415.8 410.3,415.8 410.3,415.7 409.3,415.7 409.3,414.8 408.3,414.8 408.3,414.6 407.3,414.6 407.3,414 406.3,414 406.3,413.1 405.3,413.1 405.3,414.1 404.3,414.1 404.3,413.6 403.3,413.6 403.3,413.7 402.3,413.7 402.3,414.3 401.3,414.3 401.3,413 400.3,413 400.3,413.8 399.3,413.8 399.3,414.3 398.3,414.3 398.3,415.9 397.3,415.9 397.3,415.9 396.3,415.9 396.3,417.1 395.3,417.1 395.3,418.1 394.3,418.1 394.3,415.1 393.3,415.1 393.3,415.1 392.3,415.1 392.3,416.3 391.3,416.3 391.3,417.6 390.3,417.6 390.3,419.2 389.3,419.2 389.3,422 388.3,422 388.3,423.3 387.3,423.3 387.3,422.2 386.3,422.2 386.3,417.8 385.3,417.8 385.3,423.4 384.3,423.4 384.3,425.1 383.3,425.1 383.3,426 382.3,426 382.3,430.3 381.3,430.3 381.3,431.7 380.3,431.7 380.3,429.5 379.3,429.5 379.3,427.7 378.3,427.7 378.3,425.6 377.3,425.6 377.3,424.3 376.3,424.3 376.3,423.3 375.3,423.3 375.3,425.1 374.3,425.1 374.3,425.8 373.3,425.8 373.3,421.7 372.3,421.7 372.3,420.4 371.3,420.4 371.3,420 370.3,420 370.3,419.6 369.3,419.6 369.3,418.9 368.3,418.9 368.3,418.2 367.3,418.2 367.3,418.3 366.3,418.3 366.3,418.3 365.3,418.3 365.3,418.2 364.3,418.2 364.3,418.2 363.3,418.2 363.3,417.7 362.3,417.7 362.3,421.5 361.3,421.5 361.3,418.8 360.3,418.8 360.3,420.3 359.3,420.3 359.3,417 358.3,417 358.3,417.5 357.3,417.5 357.3,416.6 356.3,416.6 356.3,417.3 355.3,417.3 355.3,417.1 354.3,417.1 354.3,415 353.3,415 353.3,414.9 352.3,414.9 352.3,416.1 351.3,416.1 351.3,416.9 350.3,416.9 350.3,417.7 349.3,417.7 349.3,419.1 348.3,419.1 348.3,420.3 347.3,420.3 347.3,420.3 346.3,420.3 346.3,421.5 345.3,421.5 345.3,421.6 344.3,421.6 344.3,416.9 343.3,416.9 343.3,415.7 342.3,415.7 342.3,416.3 341.3,416.3 341.3,414.1 340.3,414.1 340.3,412.6 339.3,412.6 339.3,412.9 338.3,412.9 338.3,413.3 337.3,413.3 337.3,411.9 336.3,411.9 336.3,411.1 335.3,411.1 335.3,410.1 334.3,410.1 334.3,409.3 333.3,409.3 333.3,410.4 332.3,410.4 332.3,410.1 331.3,410.1 331.3,414.3 330.3,414.3 330.3,409.8 329.3,409.8 329.3,408.7 328.3,408.7 328.3,408.4 327.3,408.4 327.3,408.3 326.3,408.3 326.3,408.5 325.3,408.5 325.3,408.8 324.3,408.8 324.3,410.2 323.3,410.2 323.3,410.6 322.3,410.6 322.3,411.7 321.3,411.7 321.3,408.4 320.3,408.4 320.3,408.8 319.3,408.8 319.3,408.5 318.3,408.5 318.3,409.7 317.3,409.7 317.3,409.5 316.3,409.5 316.3,412.5 315.3,412.5 315.3,412.2 314.3,412.2 314.3,412.9 313.3,412.9 313.3,412.2 312.3,412.2 312.3,411.4 311.3,411.4 311.3,409.9 310.3,409.9 310.3,407.9 309.3,407.9 309.3,409.4 308.3,409.4 308.3,408.1 307.3,408.1 307.3,410.3 306.3,410.3 306.3,406.7 305.3,406.7 305.3,408 304.3,408 304.3,408.7 303.3,408.7 303.3,409.2 302.3,409.2 302.3,405.4 301.3,405.4 301.3,404.6 300.3,404.6 300.3,406.8 299.3,406.8 299.3,409.8 298.3,409.8 298.3,412.4 297.3,412.4 297.3,411.4 296.3,411.4 296.3,412.4 295.3,412.4 295.3,413.4 294.3,413.4 294.3,414.1 293.3,414.1 293.3,415.7 292.3,415.7 292.3,416.7 291.3,416.7 291.3,417.1 290.3,417.1 290.3,420.1 289.3,420.1 289.3,421.1 288.3,421.1 288.3,423.1 287.3,423.1 287.3,422.5 286.3,422.5 286.3,423 285.3,423 285.3,424.1 284.3,424.1 284.3,425.4 283.3,425.4 283.3,426.7 282.3,426.7 282.3,427.2 281.3,427.2 281.3,426.8 280.3,426.8 280.3,428.5 279.3,428.5 279.3,430.8 278.3,430.8 278.3,431.4 277.3,431.4 277.3,431.2 276.3,431.2 276.3,429.7 275.3,429.7 275.3,430.8 274.3,430.8 274.3,428.9 273.3,428.9 273.3,428.6 272.3,428.6 272.3,432 271.3,432 271.3,430.7 270.3,430.7 270.3,432.2 269.3,432.2 269.3,432.2 268.3,432.2 268.3,433.5 267.3,433.5 267.3,435.1 266.3,435.1 266.3,435.9 265.3,435.9 265.3,438.5 264.3,438.5 264.3,440.5 263.3,440.5 263.3,442.1 262.3,442.1 262.3,440.3 261.3,440.3 261.3,441 260.3,441 260.3,442.7 259.3,442.7 259.3,443.1 258.3,443.1 258.3,441.1 257.3,441.1 257.3,439.5 256.3,439.5 256.3,438.5 255.3,438.5 255.3,438.8 254.3,438.8 254.3,440.3 253.3,440.3 253.3,440 252.3,440 252.3,439.9 251.3,439.9 251.3,438.7 250.3,438.7 250.3,440.2 249.3,440.2 249.3,442.8 248.3,442.8 248.3,441.1 247.3,441.1 247.3,439.8 246.3,439.8 246.3,439.3 245.3,439.3 245.3,439.3 244.3,439.3 244.3,441.1 243.3,441.1 243.3,442.2 242.3,442.2 242.3,441.5 241.3,441.5 241.3,439.1 240.3,439.1 240.3,439.5 239.3,439.5 239.3,438.9 238.3,438.9 238.3,441.2 237.3,441.2 237.3,436.5 236.3,436.5 236.3,434.4 235.3,434.4 235.3,436.3 234.3,436.3 234.3,439.6 233.3,439.6 233.3,442.7 232.3,442.7 232.3,440.6 231.3,440.6 231.3,441.9 230.3,441.9 230.3,441.5 229.3,441.5 229.3,440.5 228.3,440.5 228.3,441.1 227.3,441.1 227.3,443.8 226.3,443.8 226.3,445.8 225.3,445.8 225.3,443.5 224.3,443.5 224.3,443.4 223.3,443.4 223.3,441.8 222.3,441.8 222.3,445.3 221.3,445.3 221.3,447.6 220.3,447.6 220.3,449.1 219.3,449.1 219.3,448.7 218.3,448.7 218.3,450.2 217.3,450.2 217.3,448.5 216.3,448.5 216.3,443.5 215.3,443.5 215.3,444.5 214.3,444.5 214.3,445.8 213.3,445.8 213.3,445.7 212.3,445.7 212.3,444.2 211.3,444.2 211.3,442.5 210.3,442.5 210.3,441.9 209.3,441.9 209.3,443.1 208.3,443.1 208.3,443.3 207.3,443.3 207.3,445.2 206.3,445.2 206.3,445.3 205.3,445.3 205.3,445.7 204.3,445.7 204.3,449.2 203.3,449.2 203.3,443.9 202.3,443.9 202.3,445.2 201.3,445.2 201.3,446.3 200.3,446.3 200.3,448.7 199.3,448.7 199.3,447.7 198.3,447.7 198.3,448.4 197.3,448.4 197.3,450.6 196.3,450.6 196.3,450 195.3,450 195.3,450 194.3,450 194.3,454.6 193.3,454.6 193.3,447.9 192.3,447.9 192.3,448.9 191.3,448.9 191.3,450.4 190.3,450.4 190.3,449.3 189.3,449.3 189.3,449.2 188.3,449.2 188.3,448 187.3,448 187.3,450.6 186.3,450.6 186.3,449.2 185.3,449.2 185.3,448.1 184.3,448.1 184.3,445.8 183.3,445.8 183.3,446.1 182.3,446.1 182.3,449.1 181.3,449.1 181.3,452.9 180.3,452.9 180.3,449.6 179.3,449.6 179.3,448.3 178.3,448.3 178.3,447 177.3,447 177.3,446.3 176.3,446.3 176.3,445.7 175.3,445.7 175.3,447 174.3,447 174.3,448.2 173.3,448.2 173.3,447.7 172.3,447.7 172.3,448.3 171.3,448.3 171.3,449.4 170.3,449.4 170.3,448.1 169.3,448.1 169.3,447.5 168.3,447.5 168.3,451.5 167.3,451.5 167.3,449.5 166.3,449.5 166.3,450.3 165.3,450.3 165.3,449.4 164.3,449.4 164.3,449.6 163.3,449.6 163.3,450 162.3,450 162.3,450.7 161.3,450.7 161.3,448.4 160.3,448.4 160.3,449.5 159.3,449.5 159.3,449.9 158.3,449.9 158.3,449.2 157.3,449.2 157.3,447.3 156.3,447.3 156.3,445.3 155.3,445.3 155.3,448.7 154.3,448.7 154.3,448.4 153.3,448.4 153.3,449.3 152.3,449.3 152.3,449.5 151.3,449.5 151.3,451.6 150.3,451.6 150.3,448.3 149.3,448.3 149.3,445.3 148.3,445.3 148.3,444.8 147.3,444.8 147.3,443.4 146.3,443.4 146.3,442.5 145.3,442.5 145.3,447 144.3,447 144.3,444.7 143.3,444.7 143.3,445.9 142.3,445.9 142.3,448 141.3,448 141.3,449.3 140.3,449.3 140.3,448.6 139.3,448.6 139.3,448 138.3,448 138.3,446.5 137.3,446.5 137.3,445.9 136.3,445.9 136.3,444.9 135.3,444.9 135.3,444.8 134.3,444.8 134.3,444.8 133.3,444.8 133.3,445.8 132.3,445.8 132.3,445.9 131.3,445.9 131.3,447 130.3,447 130.3,449 129.3,449 129.3,447.8 128.3,447.8 128.3,449.4 127.3,449.4 127.3,448.7 126.3,448.7 126.3,447 125.3,447 125.3,447.2 124.3,447.2 124.3,445.4 123.3,445.4 123.3,445 122.3,445 122.3,444.7 121.3,444.7 121.3,447.4 120.3,447.4 Z M120.3,506.3 121.3,506.3 121.3,505.7 122.3,505.7 122.3,503.8 123.3,503.8 123.3,502.7 124.3,502.7 124.3,505.1 125.3,505.1 125.3,507.1 126.3,507.1 126.3,508.3 127.3,508.3 127.3,506.5 128.3,506.5 128.3,509.6 129.3,509.6 129.3,507.8 130.3,507.8 130.3,506.8 131.3,506.8 131.3,507.8 132.3,507.8 132.3,507.7 133.3,507.7 133.3,508.2 134.3,508.2 134.3,507.9 135.3,507.9 135.3,508.1 136.3,508.1 136.3,507.4 137.3,507.4 137.3,506.2 138.3,506.2 138.3,507.5 139.3,507.5 139.3,507 140.3,507 140.3,506.1 141.3,506.1 141.3,502.9 142.3,502.9 142.3,500.9 143.3,500.9 143.3,501.2 144.3,501.2 144.3,500.8 145.3,500.8 145.3,502 146.3,502 146.3,503.4 147.3,503.4 147.3,502.9 148.3,502.9 148.3,503.4 149.3,503.4 149.3,501.1 150.3,501.1 150.3,501.1 151.3,501.1 151.3,503.3 152.3,503.3 152.3,503.2 153.3,503.2 153.3,504.5 154.3,504.5 154.3,505.1 155.3,505.1 155.3,504 156.3,504 156.3,504.3 157.3,504.3 157.3,504 158.3,504 158.3,506 159.3,506 159.3,507.3 160.3,507.3 160.3,509.3 161.3,509.3 161.3,508.8 162.3,508.8 162.3,508 163.3,508 163.3,506 164.3,506 164.3,506 165.3,506 165.3,504.9 166.3,504.9 166.3,503.6 167.3,503.6 167.3,504.2 168.3,504.2 168.3,503.4 169.3,503.4 169.3,503.4 170.3,503.4 170.3,504.4 171.3,504.4 171.3,504.6 172.3,504.6 172.3,504.3 173.3,504.3 173.3,504.3 174.3,504.3 174.3,504 175.3,504 175.3,504.2 176.3,504.2 176.3,504 177.3,504 177.3,504.2 178.3,504.2 178.3,505.1 179.3,505.1 179.3,502.6 180.3,502.6 180.3,504.7 181.3,504.7 181.3,503.5 182.3,503.5 182.3,507 183.3,507 183.3,507.3 184.3,507.3 184.3,507.2 185.3,507.2 185.3,508.1 186.3,508.1 186.3,507.1 187.3,507.1 187.3,506.6 188.3,506.6 188.3,508.6 189.3,508.6 189.3,506.7 190.3,506.7 190.3,507.6 191.3,507.6 191.3,507.5 192.3,507.5 192.3,508.1 193.3,508.1 193.3,508.8 194.3,508.8 194.3,509.2 195.3,509.2 195.3,508.3 196.3,508.3 196.3,509.2 197.3,509.2 197.3,505.3 198.3,505.3 198.3,507.1 199.3,507.1 199.3,507.3 200.3,507.3 200.3,507.4 201.3,507.4 201.3,502.8 202.3,502.8 202.3,502.6 203.3,502.6 203.3,500.3 204.3,500.3 204.3,500.3 205.3,500.3 205.3,499.4 206.3,499.4 206.3,501.7 207.3,501.7 207.3,504.2 208.3,504.2 208.3,505.5 209.3,505.5 209.3,505.1 210.3,505.1 210.3,504.9 211.3,504.9 211.3,506.4 212.3,506.4 212.3,507.2 213.3,507.2 213.3,507.7 214.3,507.7 214.3,505.8 215.3,505.8 215.3,506.6 216.3,506.6 216.3,504.2 217.3,504.2 217.3,505.6 218.3,505.6 218.3,504.3 219.3,504.3 219.3,504.7 220.3,504.7 220.3,505.5 221.3,505.5 221.3,504 222.3,504 222.3,502.6 223.3,502.6 223.3,503.6 224.3,503.6 224.3,505.7 225.3,505.7 225.3,506.2 226.3,506.2 226.3,501.4 227.3,501.4 227.3,504.2 228.3,504.2 228.3,502.9 229.3,502.9 229.3,502.6 230.3,502.6 230.3,503.1 231.3,503.1 231.3,502.6 232.3,502.6 232.3,501 233.3,501 233.3,501 234.3,501 234.3,499.1 235.3,499.1 235.3,500.2 236.3,500.2 236.3,498.3 237.3,498.3 237.3,500.8 238.3,500.8 238.3,497.5 239.3,497.5 239.3,497.5 240.3,497.5 240.3,497 241.3,497 241.3,497.8 242.3,497.8 242.3,497.4 243.3,497.4 243.3,494.2 244.3,494.2 244.3,497.9 245.3,497.9 245.3,496.5 246.3,496.5 246.3,498.8 247.3,498.8 247.3,499.8 248.3,499.8 248.3,500.8 249.3,500.8 249.3,502.9 250.3,502.9 250.3,502.5 251.3,502.5 251.3,503.3 252.3,503.3 252.3,501.1 253.3,501.1 253.3,500.5 254.3,500.5 254.3,500.2 255.3,500.2 255.3,500.3 256.3,500.3 256.3,500.8 257.3,500.8 257.3,499.7 258.3,499.7 258.3,494.3 259.3,494.3 259.3,498.8 260.3,498.8 260.3,495.5 261.3,495.5 261.3,496.2 262.3,496.2 262.3,495.8 263.3,495.8 263.3,494.4 264.3,494.4 264.3,490.2 265.3,490.2 265.3,489.2 266.3,489.2 266.3,489.1 267.3,489.1 267.3,490.2 268.3,490.2 268.3,489.5 269.3,489.5 269.3,486.4 270.3,486.4 270.3,490.2 271.3,490.2 271.3,488.9 272.3,488.9 272.3,485.3 273.3,485.3 273.3,484.5 274.3,484.5 274.3,485.6 275.3,485.6 275.3,486.9 276.3,486.9 276.3,486.7 277.3,486.7 277.3,486.2 278.3,486.2 278.3,486.4 279.3,486.4 279.3,486.8 280.3,486.8 280.3,486.1 281.3,486.1 281.3,484.3 282.3,484.3 282.3,482.7 283.3,482.7 283.3,482.6 284.3,482.6 284.3,483.8 285.3,483.8 285.3,484.2 286.3,484.2 286.3,482.5 287.3,482.5 287.3,479.9 288.3,479.9 288.3,477.4 289.3,477.4 289.3,473 290.3,473 290.3,473.5 291.3,473.5 291.3,475 292.3,475 292.3,476.9 293.3,476.9 293.3,474.3 294.3,474.3 294.3,475.3 295.3,475.3 295.3,473.5 296.3,473.5 296.3,472.2 297.3,472.2 297.3,469.4 298.3,469.4 298.3,466.7 299.3,466.7 299.3,467.3 300.3,467.3 300.3,468.3 301.3,468.3 301.3,466.1 302.3,466.1 302.3,464.4 303.3,464.4 303.3,464.7 304.3,464.7 304.3,464.7 305.3,464.7 305.3,464.4 306.3,464.4 306.3,463 307.3,463 307.3,465.9 308.3,465.9 308.3,466.1 309.3,466.1 309.3,466.7 310.3,466.7 310.3,468.9 311.3,468.9 311.3,466.8 312.3,466.8 312.3,469.9 313.3,469.9 313.3,470.1 314.3,470.1 314.3,469.7 315.3,469.7 315.3,466.8 316.3,466.8 316.3,469.1 317.3,469.1 317.3,468.1 318.3,468.1 318.3,466.4 319.3,466.4 319.3,466.6 320.3,466.6 320.3,467.7 321.3,467.7 321.3,465.5 322.3,465.5 322.3,469 323.3,469 323.3,470.2 324.3,470.2 324.3,470.8 325.3,470.8 325.3,471.2 326.3,471.2 326.3,469.3 327.3,469.3 327.3,468.6 328.3,468.6 328.3,467.5 329.3,467.5 329.3,467.9 330.3,467.9 330.3,467.4 331.3,467.4 331.3,469.4 332.3,469.4 332.3,471.3 333.3,471.3 333.3,471.8 334.3,471.8 334.3,470.1 335.3,470.1 335.3,469.4 336.3,469.4 336.3,470.1 337.3,470.1 337.3,470.9 338.3,470.9 338.3,470 339.3,470 339.3,467.5 340.3,467.5 340.3,464.5 341.3,464.5 341.3,468.2 342.3,468.2 342.3,467.1 343.3,467.1 343.3,471.5 344.3,471.5 344.3,472.9 345.3,472.9 345.3,472.3 346.3,472.3 346.3,475.9 347.3,475.9 347.3,477.4 348.3,477.4 348.3,475.2 349.3,475.2 349.3,473.9 350.3,473.9 350.3,474.8 351.3,474.8 351.3,477.4 352.3,477.4 352.3,480.3 353.3,480.3 353.3,478.4 354.3,478.4 354.3,480.7 355.3,480.7 355.3,480.1 356.3,480.1 356.3,479.5 357.3,479.5 357.3,475.4 358.3,475.4 358.3,479.8 359.3,479.8 359.3,477.9 360.3,477.9 360.3,475 361.3,475 361.3,474.1 362.3,474.1 362.3,478.6 363.3,478.6 363.3,480 364.3,480 364.3,480.6 365.3,480.6 365.3,482.2 366.3,482.2 366.3,480.3 367.3,480.3 367.3,477.9 368.3,477.9 368.3,477.6 369.3,477.6 369.3,479.2 370.3,479.2 370.3,482.1 371.3,482.1 371.3,482.5 372.3,482.5 372.3,482.8 373.3,482.8 373.3,484 374.3,484 374.3,482.3 375.3,482.3 375.3,482.3 376.3,482.3 376.3,484.5 377.3,484.5 377.3,482.4 378.3,482.4 378.3,485.2 379.3,485.2 379.3,486.2 380.3,486.2 380.3,485.7 381.3,485.7 381.3,488.2 382.3,488.2 382.3,489.2 383.3,489.2 383.3,488.7 384.3,488.7 384.3,486.2 385.3,486.2 385.3,484.7 386.3,484.7 386.3,482.8 387.3,482.8 387.3,484.5 388.3,484.5 388.3,482.4 389.3,482.4 389.3,485.2 390.3,485.2 390.3,486.5 391.3,486.5 391.3,483.4 392.3,483.4 392.3,482.6 393.3,482.6 393.3,481.3 394.3,481.3 394.3,479.8 395.3,479.8 395.3,480.1 396.3,480.1 396.3,477.9 397.3,477.9 397.3,475.2 398.3,475.2 398.3,473.4 399.3,473.4 399.3,472.9 400.3,472.9 400.3,474.4 401.3,474.4 401.3,474.5 402.3,474.5 402.3,476.2 403.3,476.2 403.3,477.1 404.3,477.1 404.3,475.5 405.3,475.5 405.3,475.6 406.3,475.6 406.3,474.8 407.3,474.8 407.3,472.9 408.3,472.9 408.3,472.6 409.3,472.6 409.3,473.7 410.3,473.7 410.3,473.2 411.3,473.2 411.3,471.6 412.3,471.6 412.3,467.7 413.3,467.7 413.3,468.7 414.3,468.7 414.3,468.2 415.3,468.2 415.3,469.8 416.3,469.8 416.3,466.4 417.3,466.4 417.3,465.5 418.3,465.5 418.3,465.1 419.3,465.1 419.3,464.9 420.3,464.9 420.3,466 421.3,466 421.3,463.9 422.3,463.9 422.3,462.7 423.3,462.7 423.3,460.2 424.3,460.2 424.3,456.8 425.3,456.8 425.3,460.6 426.3,460.6 426.3,460.3 427.3,460.3 427.3,459.4 428.3,459.4 428.3,460.2 429.3,460.2 429.3,461.7 430.3,461.7 430.3,461.1 431.3,461.1 431.3,460.5 432.3,460.5 432.3,459.2 433.3,459.2 433.3,457.4 434.3,457.4 434.3,458.6 435.3,458.6 435.3,459.1 436.3,459.1 436.3,462.6 437.3,462.6 437.3,463.3 438.3,463.3 438.3,464.8 439.3,464.8 439.3,464.5 440.3,464.5 440.3,463.9 441.3,463.9 441.3,465.3 442.3,465.3 442.3,467.6 443.3,467.6 443.3,468.8 444.3,468.8 444.3,468.4 445.3,468.4 445.3,467.4 446.3,467.4 446.3,467.5 447.3,467.5 447.3,468 448.3,468 448.3,468.3 449.3,468.3 449.3,466.5 450.3,466.5 450.3,469.7 451.3,469.7 451.3,469.4 452.3,469.4 452.3,472.9 453.3,472.9 453.3,471.4 454.3,471.4 454.3,472.7 455.3,472.7 455.3,471.4 456.3,471.4 456.3,472.7 457.3,472.7 457.3,472.3 458.3,472.3 458.3,473.5 459.3,473.5 459.3,472.6 460.3,472.6 460.3,474.2 461.3,474.2 461.3,473.3 462.3,473.3 462.3,473.1 463.3,473.1 463.3,473.5 464.3,473.5 464.3,475.2 465.3,475.2 465.3,475.7 466.3,475.7 466.3,478.9 467.3,478.9 467.3,482.1 468.3,482.1 468.3,483.8 469.3,483.8 469.3,483.2 470.3,483.2 470.3,484 471.3,484 471.3,484.9 472.3,484.9 472.3,484.8 473.3,484.8 473.3,486.2 474.3,486.2 474.3,486.4 475.3,486.4 475.3,486 476.3,486 476.3,486 477.3,486 477.3,486.7 478.3,486.7 478.3,489.9 479.3,489.9 479.3,490.7 480.3,490.7 480.3,490.5 481.3,490.5 481.3,491 482.3,491 482.3,490.1 483.3,490.1 483.3,487.4 484.3,487.4 484.3,492.3 485.3,492.3 485.3,491.8 486.3,491.8 486.3,492.7 487.3,492.7 487.3,491.8 488.3,491.8 488.3,490.3 489.3,490.3 489.3,491.2 490.3,491.2 490.3,492.4 491.3,492.4 491.3,495.3 492.3,495.3 492.3,496.3 493.3,496.3 493.3,496.3 494.3,496.3 494.3,497.2 495.3,497.2 495.3,498 496.3,498 496.3,500 497.3,500 497.3,502.2 498.3,502.2 498.3,502.1 499.3,502.1 499.3,504.3 500.3,504.3 500.3,502.7 501.3,502.7 501.3,504.5 502.3,504.5 502.3,504.5 503.3,504.5 503.3,506.8 504.3,506.8 504.3,508.6 505.3,508.6 505.3,510.5 506.3,510.5 506.3,508.3 507.3,508.3 507.3,506.3 508.3,506.3 508.3,506.5 509.3,506.5 509.3,504.9 510.3,504.9 510.3,507.3 511.3,507.3 511.3,507.1 512.3,507.1 512.3,508.7 513.3,508.7 513.3,508 514.3,508 514.3,508.3 515.3,508.3 515.3,507.7 516.3,507.7 516.3,507.7 517.3,507.7 517.3,507.8 518.3,507.8 518.3,504.9 519.3,504.9 519.3,504.7 520.3,504.7 520.3,502.2 521.3,502.2 521.3,500.3 522.3,500.3 522.3,499.6 523.3,499.6 523.3,499.4 524.3,499.4 524.3,497 525.3,497 525.3,494.2 526.3,494.2 526.3,495.1 527.3,495.1 527.3,495.5 528.3,495.5 528.3,497.4 529.3,497.4 529.3,496.2 530.3,496.2 530.3,496.7 531.3,496.7 531.3,492.4 532.3,492.4 532.3,492 533.3,492 533.3,491.9 534.3,491.9 534.3,489.5 535.3,489.5 535.3,488.3 536.3,488.3 536.3,489.8 537.3,489.8 537.3,489.4 538.3,489.4 538.3,489.1 539.3,489.1 539.3,488.5 540.3,488.5 540.3,485.1 541.3,485.1 541.3,477.5 542.3,477.5 542.3,474.2 543.3,474.2 543.3,470.4 544.3,470.4 544.3,469.8 545.3,469.8 545.3,470.4 546.3,470.4 546.3,465.2 547.3,465.2 547.3,464.6 548.3,464.6 548.3,460 549.3,460 549.3,457 550.3,457 550.3,452.8 551.3,452.8 551.3,448.5 552.3,448.5 552.3,446.2 553.3,446.2 553.3,442.4 554.3,442.4 554.3,439 555.3,439 555.3,434.9 556.3,434.9 556.3,428.2 557.3,428.2 557.3,422.7 558.3,422.7 558.3,423.6 559.3,423.6 559.3,423.7 560.3,423.7 560.3,421 561.3,421 561.3,419.6 562.3,419.6 562.3,416.6 563.3,416.6 563.3,412.9 564.3,412.9 564.3,413.1 565.3,413.1 565.3,411.1 566.3,411.1 566.3,410.4 567.3,410.4 567.3,413 568.3,413 568.3,413.4 569.3,413.4 569.3,413.9 570.3,413.9 570.3,414.5 571.3,414.5 571.3,411 572.3,411 572.3,407.9 573.3,407.9 573.3,406 574.3,406 574.3,405 575.3,405 575.3,404.3 576.3,404.3 576.3,403.9 577.3,403.9 577.3,403.1 578.3,403.1 578.3,403.6 579.3,403.6 579.3,405.4 580.3,405.4 580.3,409.5 581.3,409.5 581.3,406 582.3,406 582.3,402.1 583.3,402.1 583.3,402.2 584.3,402.2 584.3,403.8 585.3,403.8 585.3,403.5 586.3,403.5 586.3,402.4 587.3,402.4 587.3,400.8 588.3,400.8 588.3,398.7 589.3,398.7 589.3,398.6 590.3,398.6 590.3,397.9 591.3,397.9 591.3,398.2 592.3,398.2 592.3,396.9 593.3,396.9 593.3,398.1 594.3,398.1 594.3,399.1 595.3,399.1 595.3,399.4 596.3,399.4 596.3,398.9 597.3,398.9 597.3,400.6 598.3,400.6 598.3,399.1 599.3,399.1 599.3,396.6 600.3,396.6 600.3,394.2 601.3,394.2 601.3,392.9 602.3,392.9 602.3,394.2 603.3,394.2 603.3,392.6 604.3,392.6 604.3,393.2 605.3,393.2 605.3,392.5 606.3,392.5 606.3,392.9 607.3,392.9 607.3,393.1 608.3,393.1 608.3,390.7 609.3,390.7 609.3,393 610.3,393 610.3,392.3 611.3,392.3 611.3,391.9 612.3,391.9 612.3,393.1 613.3,393.1 613.3,392.6 614.3,392.6 614.3,393.3 615.3,393.3 615.3,392.8 616.3,392.8 616.3,389.2 617.3,389.2 617.3,391.8 618.3,391.8 618.3,390.5 619.3,390.5 619.3,391.1 620.3,391.1 620.3,391.1 621.3,391.1 621.3,389.1 622.3,389.1 622.3,385.1 623.3,385.1 623.3,383.2 624.3,383.2 624.3,383.5 625.3,383.5 625.3,385.8 626.3,385.8 626.3,386.2 627.3,386.2 627.3,387.7 628.3,387.7 628.3,387.6 629.3,387.6 629.3,387.3 630.3,387.3 630.3,386.1 631.3,386.1 631.3,384.7 632.3,384.7 632.3,384.4 633.3,384.4 633.3,382.8 634.3,382.8 634.3,379.5 635.3,379.5 635.3,377.7 636.3,377.7 636.3,376.1 637.3,376.1 637.3,376 638.3,376 638.3,376.1 639.3,376.1 639.3,378.6 640.3,378.6 640.3,380.2 641.3,380.2 641.3,380.7 642.3,380.7 642.3,378.4 643.3,378.4 643.3,379 644.3,379 644.3,377.4 645.3,377.4 645.3,376.4 646.3,376.4 646.3,376.5 647.3,376.5 647.3,374.5 648.3,374.5 648.3,376.6 649.3,376.6 649.3,374.9 650.3,374.9 650.3,371.7 651.3,371.7 651.3,376.4 652.3,376.4 652.3,377.4 653.3,377.4 653.3,379.7 654.3,379.7 654.3,379.3 655.3,379.3 655.3,379.3 656.3,379.3 656.3,380.8 657.3,380.8 657.3,382.3 658.3,382.3 658.3,381.6 659.3,381.6 659.3,380 660.3,380 660.3,379.8 661.3,379.8 661.3,378.1 662.3,378.1 662.3,378.2 663.3,378.2 663.3,377 664.3,377 664.3,374.4 665.3,374.4 665.3,374.5 666.3,374.5 666.3,376.6 667.3,376.6 667.3,374.2 668.3,374.2 668.3,377.8 669.3,377.8 669.3,377.9 670.3,377.9 670.3,379 671.3,379 671.3,377.5 672.3,377.5 672.3,373.7 673.3,373.7 673.3,374.7 674.3,374.7 674.3,376.1 675.3,376.1 675.3,378.2 676.3,378.2 676.3,375.6 677.3,375.6 677.3,378.8 678.3,378.8 678.3,378.5 679.3,378.5 679.3,379.2 680.3,379.2 680.3,379.1 681.3,379.1 681.3,378.6 682.3,378.6 682.3,375.6 683.3,375.6 683.3,378.4 684.3,378.4 684.3,381.1 685.3,381.1 685.3,383.5 686.3,383.5 686.3,385.4 687.3,385.4 687.3,387.5 688.3,387.5 688.3,384.9 689.3,384.9 689.3,387.2 690.3,387.2 690.3,386.6 691.3,386.6 691.3,387.8 692.3,387.8 692.3,389.1 693.3,389.1 693.3,389.3 694.3,389.3 694.3,386.7 695.3,386.7 695.3,386.9 696.3,386.9 696.3,391.7 697.3,391.7 697.3,396.3 698.3,396.3 698.3,397 699.3,397 699.3,396.5 700.3,396.5 700.3,398 701.3,398 701.3,396.7 702.3,396.7 702.3,398.4 703.3,398.4 703.3,397.8 704.3,397.8 704.3,399.5 705.3,399.5 705.3,396.8 706.3,396.8 706.3,396.1 707.3,396.1 707.3,398.6 708.3,398.6 708.3,401.8 709.3,401.8 709.3,402.8 710.3,402.8 710.3,404.4 711.3,404.4 711.3,404.7 712.3,404.7 712.3,405.4 713.3,405.4 713.3,404.7 714.3,404.7 714.3,406.6 715.3,406.6 715.3,407.8 716.3,407.8 716.3,408.6 717.3,408.6 717.3,409.6 718.3,409.6 718.3,409.4 719.3,409.4 719.3,408.1 720.3,408.1 720.3,412.6 721.3,412.6 721.3,412.8 722.3,412.8 722.3,416.3 723.3,416.3 723.3,416.8 724.3,416.8 724.3,414.7 725.3,414.7 725.3,413.3 726.3,413.3 726.3,414.5 727.3,414.5 727.3,416.8 728.3,416.8 728.3,417.6 729.3,417.6 729.3,417.9 730.3,417.9 730.3,416.5 731.3,416.5 731.3,418 732.3,418 732.3,417.5 733.3,417.5 733.3,418.1 734.3,418.1 734.3,417.7 735.3,417.7 735.3,416.3 736.3,416.3 736.3,418.1 737.3,418.1 737.3,421.5 738.3,421.5 738.3,422.3 739.3,422.3 739.3,420.5 740.3,420.5 740.3,419.3 741.3,419.3 741.3,418.9 742.3,418.9 742.3,417.8 743.3,417.8 743.3,419.2 744.3,419.2 744.3,420.2 745.3,420.2 745.3,425 746.3,425 746.3,425.3 747.3,425.3 747.3,423.7 748.3,423.7 748.3,425.4 749.3,425.4 749.3,427.5 750.3,427.5 750.3,429.1 751.3,429.1 751.3,431 752.3,431 752.3,432.4 753.3,432.4 753.3,433.8 754.3,433.8 754.3,432.7 755.3,432.7 755.3,436.9 756.3,436.9 756.3,440 757.3,440 757.3,442 758.3,442 758.3,442.4 759.3,442.4 759.3,438.6 760.3,438.6 760.3,441.3 761.3,441.3 761.3,443.9 762.3,443.9 762.3,445.9 763.3,445.9 763.3,447.3 764.3,447.3 764.3,446.3 765.3,446.3 765.3,447 766.3,447 766.3,446.9 767.3,446.9 767.3,449.4 768.3,449.4 768.3,449.7 769.3,449.7 769.3,450.5 770.3,450.5 770.3,449.2 771.3,449.2 771.3,450.5 772.3,450.5 772.3,450.2 773.3,450.2 773.3,450.1 774.3,450.1 774.3,448 775.3,448 775.3,446.6 776.3,446.6 776.3,448.1 777.3,448.1 777.3,448.9 778.3,448.9 778.3,449.7 779.3,449.7 779.3,447.4 780.3,447.4 780.3,448 781.3,448 781.3,444.5 782.3,444.5 782.3,442 783.3,442 783.3,442.2 784.3,442.2 784.3,442.4 785.3,442.4 785.3,444.9 786.3,444.9 786.3,441.4 787.3,441.4 787.3,437 788.3,437 788.3,435.4 789.3,435.4 789.3,434.1 790.3,434.1 790.3,433.4 791.3,433.4 791.3,430.6 792.3,430.6 792.3,429.5 793.3,429.5 793.3,427.3 794.3,427.3 794.3,422 795.3,422 795.3,422.9 796.3,422.9 796.3,422.3 797.3,422.3 797.3,419.8 798.3,419.8 798.3,417.9 799.3,417.9 799.3,417.3 800.3,417.3 800.3,413.7 801.3,413.7 801.3,415.1 802.3,415.1 802.3,412.7 803.3,412.7 803.3,413.4 804.3,413.4 804.3,411.2 805.3,411.2 805.3,409.7 806.3,409.7 806.3,409.3 807.3,409.3 807.3,406.5 808.3,406.5 808.3,409.5 809.3,409.5 809.3,409.4 810.3,409.4 810.3,407.5 811.3,407.5 811.3,402.7 812.3,402.7 812.3,397.4 813.3,397.4 813.3,394.6 814.3,394.6 814.3,393.5 815.3,393.5 815.3,392.8 816.3,392.8 816.3,390.2 817.3,390.2 817.3,387.8 818.3,387.8 818.3,384.3 819.3,384.3 819.3,381.8 820.3,381.8 820.3,381 821.3,381 821.3,380.6 822.3,380.6 822.3,380.9 823.3,380.9 823.3,379.9 824.3,379.9 824.3,376.9 825.3,376.9 825.3,373.6 826.3,373.6 826.3,371.5 827.3,371.5 827.3,367.2 828.3,367.2 828.3,366.6 829.3,366.6 829.3,364.7 830.3,364.7 830.3,362.5 831.3,362.5 831.3,359.8 832.3,359.8 832.3,356.8 833.3,356.8 833.3,355.9 834.3,355.9 834.3,357 835.3,357 835.3,358.7 836.3,358.7 836.3,356 837.3,356 837.3,353.6 838.3,353.6 838.3,350.9 839.3,350.9 839.3,350.4 840.3,350.4 840.3,350.5 841.3,350.5 841.3,348.7 842.3,348.7 842.3,348.3 843.3,348.3 843.3,346.1 844.3,346.1 844.3,344.9 845.3,344.9 845.3,343.7 846.3,343.7 846.3,344.4 847.3,344.4 847.3,344 848.3,344 848.3,343.6 849.3,343.6 849.3,341.4 850.3,341.4 850.3,336.8 851.3,336.8 851.3,336.1 852.3,336.1 852.3,334.4 853.3,334.4 853.3,331.1 854.3,331.1 854.3,328.4 855.3,328.4 855.3,325.1 856.3,325.1 856.3,321.6 857.3,321.6 857.3,322.1 858.3,322.1 858.3,320.6 859.3,320.6 859.3,318.2 860.3,318.2 860.3,317 861.3,317 861.3,313 862.3,313 862.3,307.3 863.3,307.3 863.3,307.3 864.3,307.3 864.3,307.2 865.3,307.2 865.3,309.2 866.3,309.2 866.3,303.7 867.3,303.7 867.3,299.6 868.3,299.6 868.3,296.5 869.3,296.5 869.3,291.6 870.3,291.6 870.3,292.4 871.3,292.4 871.3,293.9 872.3,293.9 872.3,295.4 873.3,295.4 873.3,295.8 874.3,295.8 874.3,294.2 875.3,294.2 875.3,294.4 876.3,294.4 876.3,291.2 877.3,291.2 877.3,287.3 878.3,287.3 878.3,285.7 879.3,285.7 879.3,284.1 880.3,284.1 880.3,283.4 881.3,283.4 881.3,285.7 882.3,285.7 882.3,285 883.3,285 883.3,287.5 884.3,287.5 884.3,283.2 885.3,283.2 885.3,280 886.3,280 886.3,276.7 887.3,276.7 887.3,273.2 888.3,273.2 888.3,270.9 889.3,270.9 889.3,271.1 890.3,271.1 890.3,269.3 891.3,269.3 891.3,271.1 892.3,271.1 892.3,270.9 893.3,270.9 893.3,270 894.3,270 894.3,266.3 895.3,266.3 895.3,263.5 896.3,263.5 896.3,261.9 897.3,261.9 897.3,258.2 898.3,258.2 898.3,254.4 899.3,254.4 899.3,256.6 900.3,256.6 900.3,255.9 901.3,255.9 901.3,255.5 902.3,255.5 902.3,253.7 903.3,253.7 903.3,253 904.3,253 904.3,252.7 905.3,252.7 905.3,251.5 906.3,251.5 906.3,247.6 907.3,247.6 907.3,243.2 908.3,243.2 908.3,241 909.3,241 909.3,240.4 910.3,240.4 910.3,239.7 911.3,239.7 911.3,238.5 912.3,238.5 912.3,235.8 913.3,235.8 913.3,234.9 914.3,234.9 914.3,234.9 915.3,234.9 915.3,234.2 916.3,234.2 916.3,233 917.3,233 917.3,232.8 918.3,232.8 918.3,230.9 919.3,230.9 919.3,229 920.3,229 920.3,225.4 921.3,225.4 921.3,224.9 922.3,224.9 922.3,222.8 923.3,222.8 923.3,221.7 924.3,221.7 924.3,219.4 925.3,219.4 925.3,218.3 926.3,218.3 926.3,216.9 927.3,216.9 927.3,214.6 928.3,214.6 928.3,214.5 929.3,214.5 929.3,211 930.3,211 930.3,211.3 931.3,211.3 931.3,206.9 932.3,206.9 932.3,202 933.3,202 933.3,200.3 934.3,200.3 934.3,199.6 935.3,199.6 935.3,196.5 936.3,196.5 936.3,194.6 937.3,194.6 937.3,197.7 938.3,197.7 938.3,197.6 939.3,197.6 939.3,195.4 940.3,195.4 940.3,192.6 941.3,192.6 941.3,191.1 942.3,191.1 942.3,188.1 943.3,188.1 943.3,187 944.3,187 943.9,186.4 944.9,186.4 944.9,190.5 943.9,190.5 944.3,192.3 943.3,192.3 943.3,193.3 942.3,193.3 942.3,197.3 941.3,197.3 941.3,203.5 940.3,203.5 940.3,200.8 939.3,200.8 939.3,203.6 938.3,203.6 938.3,203.4 937.3,203.4 937.3,204 936.3,204 936.3,203.6 935.3,203.6 935.3,204.7 934.3,204.7 934.3,205.3 933.3,205.3 933.3,207.5 932.3,207.5 932.3,212.5 931.3,212.5 931.3,215.6 930.3,215.6 930.3,219.9 929.3,219.9 929.3,218.9 928.3,218.9 928.3,225.7 927.3,225.7 927.3,221.4 926.3,221.4 926.3,223 925.3,223 925.3,224.9 924.3,224.9 924.3,226.3 923.3,226.3 923.3,227.9 922.3,227.9 922.3,229.3 921.3,229.3 921.3,232.9 920.3,232.9 920.3,236 919.3,236 919.3,237 918.3,237 918.3,239 917.3,239 917.3,238.6 916.3,238.6 916.3,239.3 915.3,239.3 915.3,239.3 914.3,239.3 914.3,240.9 913.3,240.9 913.3,240.7 912.3,240.7 912.3,243.3 911.3,243.3 911.3,245.4 910.3,245.4 910.3,244.9 909.3,244.9 909.3,249.8 908.3,249.8 908.3,251.2 907.3,251.2 907.3,252 906.3,252 906.3,256.7 905.3,256.7 905.3,256.8 904.3,256.8 904.3,261.7 903.3,261.7 903.3,259.9 902.3,259.9 902.3,260.1 901.3,260.1 901.3,261.2 900.3,261.2 900.3,262.9 899.3,262.9 899.3,263 898.3,263 898.3,265.8 897.3,265.8 897.3,266.6 896.3,266.6 896.3,268.1 895.3,268.1 895.3,273.1 894.3,273.1 894.3,274.9 893.3,274.9 893.3,276.3 892.3,276.3 892.3,276.2 891.3,276.2 891.3,274.7 890.3,274.7 890.3,276.1 889.3,276.1 889.3,278.5 888.3,278.5 888.3,278.1 887.3,278.1 887.3,281.2 886.3,281.2 886.3,284.6 885.3,284.6 885.3,288.7 884.3,288.7 884.3,293.7 883.3,293.7 883.3,293.6 882.3,293.6 882.3,291 881.3,291 881.3,288.6 880.3,288.6 880.3,289.3 879.3,289.3 879.3,290.6 878.3,290.6 878.3,292.2 877.3,292.2 877.3,296 876.3,296 876.3,300.5 875.3,300.5 875.3,300.9 874.3,300.9 874.3,300.5 873.3,300.5 873.3,299.6 872.3,299.6 872.3,298.9 871.3,298.9 871.3,297.2 870.3,297.2 870.3,301 869.3,301 869.3,302 868.3,302 868.3,305 867.3,305 867.3,310.2 866.3,310.2 866.3,313.9 865.3,313.9 865.3,313.2 864.3,313.2 864.3,312.7 863.3,312.7 863.3,313.6 862.3,313.6 862.3,317.4 861.3,317.4 861.3,321.2 860.3,321.2 860.3,322.9 859.3,322.9 859.3,325 858.3,325 858.3,326.8 857.3,326.8 857.3,328.3 856.3,328.3 856.3,330.6 855.3,330.6 855.3,334.4 854.3,334.4 854.3,336.2 853.3,336.2 853.3,341.1 852.3,341.1 852.3,340.8 851.3,340.8 851.3,343.3 850.3,343.3 850.3,346.4 849.3,346.4 849.3,348.2 848.3,348.2 848.3,351.5 847.3,351.5 847.3,350.9 846.3,350.9 846.3,353.7 845.3,353.7 845.3,350.9 844.3,350.9 844.3,352.6 843.3,352.6 843.3,353.8 842.3,353.8 842.3,355.6 841.3,355.6 841.3,355.8 840.3,355.8 840.3,356.6 839.3,356.6 839.3,357.6 838.3,357.6 838.3,357.9 837.3,357.9 837.3,361 836.3,361 836.3,362.8 835.3,362.8 835.3,361.8 834.3,361.8 834.3,360.6 833.3,360.6 833.3,362.4 832.3,362.4 832.3,364.9 831.3,364.9 831.3,367.7 830.3,367.7 830.3,369.8 829.3,369.8 829.3,371.1 828.3,371.1 828.3,374.1 827.3,374.1 827.3,377.5 826.3,377.5 826.3,378.3 825.3,378.3 825.3,382.6 824.3,382.6 824.3,384 823.3,384 823.3,387.2 822.3,387.2 822.3,385.5 821.3,385.5 821.3,385.2 820.3,385.2 820.3,387.1 819.3,387.1 819.3,389.4 818.3,389.4 818.3,393.5 817.3,393.5 817.3,395.5 816.3,395.5 816.3,398.2 815.3,398.2 815.3,398.8 814.3,398.8 814.3,401.7 813.3,401.7 813.3,401.6 812.3,401.6 812.3,407.2 811.3,407.2 811.3,416.7 810.3,416.7 810.3,415.3 809.3,415.3 809.3,415.7 808.3,415.7 808.3,415.9 807.3,415.9 807.3,414.4 806.3,414.4 806.3,415 805.3,415 805.3,416 804.3,416 804.3,420.2 803.3,420.2 803.3,420 802.3,420 802.3,420.3 801.3,420.3 801.3,422.1 800.3,422.1 800.3,421.9 799.3,421.9 799.3,423 798.3,423 798.3,424.4 797.3,424.4 797.3,426.4 796.3,426.4 796.3,431 795.3,431 795.3,432.4 794.3,432.4 794.3,432.2 793.3,432.2 793.3,435.5 792.3,435.5 792.3,436.4 791.3,436.4 791.3,439.6 790.3,439.6 790.3,439 789.3,439 789.3,439.7 788.3,439.7 788.3,441.9 787.3,441.9 787.3,445.9 786.3,445.9 786.3,451.4 785.3,451.4 785.3,448.8 784.3,448.8 784.3,448.4 783.3,448.4 783.3,449.4 782.3,449.4 782.3,452 781.3,452 781.3,454.6 780.3,454.6 780.3,454.9 779.3,454.9 779.3,457.4 778.3,457.4 778.3,453.7 777.3,453.7 777.3,453.2 776.3,453.2 776.3,454.3 775.3,454.3 775.3,454.6 774.3,454.6 774.3,455.3 773.3,455.3 773.3,456.5 772.3,456.5 772.3,455 771.3,455 771.3,455 770.3,455 770.3,454.7 769.3,454.7 769.3,454.8 768.3,454.8 768.3,453.5 767.3,453.5 767.3,452.7 766.3,452.7 766.3,451.6 765.3,451.6 765.3,451.7 764.3,451.7 764.3,452.5 763.3,452.5 763.3,450.9 762.3,450.9 762.3,449.6 761.3,449.6 761.3,446.1 760.3,446.1 760.3,447.2 759.3,447.2 759.3,447 758.3,447 758.3,448.4 757.3,448.4 757.3,446.5 756.3,446.5 756.3,443.4 755.3,443.4 755.3,441.2 754.3,441.2 754.3,439.5 753.3,439.5 753.3,437 752.3,437 752.3,435.9 751.3,435.9 751.3,434.3 750.3,434.3 750.3,435.2 749.3,435.2 749.3,432 748.3,432 748.3,429.4 747.3,429.4 747.3,429.5 746.3,429.5 746.3,430.3 745.3,430.3 745.3,428.7 744.3,428.7 744.3,426 743.3,426 743.3,424.2 742.3,424.2 742.3,427.1 741.3,427.1 741.3,423.5 740.3,423.5 740.3,425.2 739.3,425.2 739.3,428 738.3,428 738.3,426.2 737.3,426.2 737.3,424.4 736.3,424.4 736.3,420.9 735.3,420.9 735.3,422.8 734.3,422.8 734.3,423.6 733.3,423.6 733.3,423 732.3,423 732.3,424.8 731.3,424.8 731.3,422.5 730.3,422.5 730.3,422.5 729.3,422.5 729.3,423.2 728.3,423.2 728.3,422.3 727.3,422.3 727.3,421.1 726.3,421.1 726.3,418.1 725.3,418.1 725.3,422.1 724.3,422.1 724.3,421.6 723.3,421.6 723.3,422.8 722.3,422.8 722.3,421.4 721.3,421.4 721.3,418.6 720.3,418.6 720.3,416.4 719.3,416.4 719.3,416.2 718.3,416.2 718.3,414.9 717.3,414.9 717.3,414.4 716.3,414.4 716.3,413.5 715.3,413.5 715.3,412.3 714.3,412.3 714.3,412.1 713.3,412.1 713.3,411.4 712.3,411.4 712.3,409.2 711.3,409.2 711.3,411.4 710.3,411.4 710.3,409.7 709.3,409.7 709.3,406.6 708.3,406.6 708.3,405.1 707.3,405.1 707.3,406.7 706.3,406.7 706.3,404.4 705.3,404.4 705.3,404.5 704.3,404.5 704.3,404.1 703.3,404.1 703.3,403.2 702.3,403.2 702.3,402.9 701.3,402.9 701.3,402.7 700.3,402.7 700.3,403.1 699.3,403.1 699.3,403.5 698.3,403.5 698.3,401 697.3,401 697.3,396 696.3,396 696.3,391.6 695.3,391.6 695.3,394.4 694.3,394.4 694.3,394.2 693.3,394.2 693.3,394.1 692.3,394.1 692.3,392.7 691.3,392.7 691.3,391 690.3,391 690.3,391.9 689.3,391.9 689.3,395.5 688.3,395.5 688.3,392.4 687.3,392.4 687.3,390.4 686.3,390.4 686.3,388.6 685.3,388.6 685.3,386.5 684.3,386.5 684.3,384 683.3,384 683.3,382 682.3,382 682.3,383.2 681.3,383.2 681.3,384 680.3,384 680.3,383.9 679.3,383.9 679.3,384.6 678.3,384.6 678.3,382.9 677.3,382.9 677.3,382.5 676.3,382.5 676.3,383.2 675.3,383.2 675.3,384.3 674.3,384.3 674.3,380.2 673.3,380.2 673.3,380.9 672.3,380.9 672.3,383.1 671.3,383.1 671.3,384.3 670.3,384.3 670.3,384 669.3,384 669.3,383.5 668.3,383.5 668.3,382.9 667.3,382.9 667.3,382.5 666.3,382.5 666.3,381.8 665.3,381.8 665.3,380.7 664.3,380.7 664.3,382.5 663.3,382.5 663.3,384.5 662.3,384.5 662.3,383.2 661.3,383.2 661.3,384.1 660.3,384.1 660.3,385.6 659.3,385.6 659.3,388.1 658.3,388.1 658.3,387 657.3,387 657.3,386.4 656.3,386.4 656.3,386 655.3,386 655.3,385.3 654.3,385.3 654.3,384.2 653.3,384.2 653.3,382.9 652.3,382.9 652.3,381.8 651.3,381.8 651.3,379.3 650.3,379.3 650.3,379.8 649.3,379.8 649.3,381.4 648.3,381.4 648.3,383 647.3,383 647.3,382 646.3,382 646.3,385.5 645.3,385.5 645.3,383 644.3,383 644.3,385 643.3,385 643.3,384.4 642.3,384.4 642.3,385.5 641.3,385.5 641.3,385.7 640.3,385.7 640.3,384.9 639.3,384.9 639.3,384.5 638.3,384.5 638.3,381.4 637.3,381.4 637.3,382.4 636.3,382.4 636.3,382.3 635.3,382.3 635.3,384.8 634.3,384.8 634.3,387.1 633.3,387.1 633.3,389.5 632.3,389.5 632.3,390.2 631.3,390.2 631.3,390.9 630.3,390.9 630.3,392.3 629.3,392.3 629.3,392.6 628.3,392.6 628.3,395.4 627.3,395.4 627.3,392.4 626.3,392.4 626.3,390 625.3,390 625.3,389.9 624.3,389.9 624.3,394.3 623.3,394.3 623.3,392.9 622.3,392.9 622.3,393.4 621.3,393.4 621.3,397.5 620.3,397.5 620.3,396.5 619.3,396.5 619.3,395.8 618.3,395.8 618.3,396.3 617.3,396.3 617.3,397.6 616.3,397.6 616.3,397.3 615.3,397.3 615.3,400.3 614.3,400.3 614.3,397.9 613.3,397.9 613.3,398.1 612.3,398.1 612.3,397.5 611.3,397.5 611.3,398.3 610.3,398.3 610.3,397.3 609.3,397.3 609.3,397.6 608.3,397.6 608.3,401.3 607.3,401.3 607.3,397.8 606.3,397.8 606.3,399.8 605.3,399.8 605.3,398.2 604.3,398.2 604.3,400.1 603.3,400.1 603.3,401.3 602.3,401.3 602.3,399.5 601.3,399.5 601.3,399 600.3,399 600.3,402.2 599.3,402.2 599.3,405.1 598.3,405.1 598.3,406.2 597.3,406.2 597.3,405.9 596.3,405.9 596.3,405.7 595.3,405.7 595.3,404 594.3,404 594.3,402.3 593.3,402.3 593.3,402.6 592.3,402.6 592.3,404.1 591.3,404.1 591.3,404.6 590.3,404.6 590.3,404.8 589.3,404.8 589.3,404.9 588.3,404.9 588.3,405.5 587.3,405.5 587.3,407 586.3,407 586.3,408.3 585.3,408.3 585.3,409.7 584.3,409.7 584.3,409 583.3,409 583.3,412.6 582.3,412.6 582.3,411.8 581.3,411.8 581.3,415.7 580.3,415.7 580.3,412.3 579.3,412.3 579.3,409.2 578.3,409.2 578.3,407.6 577.3,407.6 577.3,409.1 576.3,409.1 576.3,409.4 575.3,409.4 575.3,409.6 574.3,409.6 574.3,410.4 573.3,410.4 573.3,412.7 572.3,412.7 572.3,415.8 571.3,415.8 571.3,419.1 570.3,419.1 570.3,418.2 569.3,418.2 569.3,418.2 568.3,418.2 568.3,417.7 567.3,417.7 567.3,417.3 566.3,417.3 566.3,417.7 565.3,417.7 565.3,418 564.3,418 564.3,419.5 563.3,419.5 563.3,421.5 562.3,421.5 562.3,424.2 561.3,424.2 561.3,427.6 560.3,427.6 560.3,428.4 559.3,428.4 559.3,429.5 558.3,429.5 558.3,431.4 557.3,431.4 557.3,436.4 556.3,436.4 556.3,440.3 555.3,440.3 555.3,445.8 554.3,445.8 554.3,447.6 553.3,447.6 553.3,453 552.3,453 552.3,453.9 551.3,453.9 551.3,457.9 550.3,457.9 550.3,463.4 549.3,463.4 549.3,470.6 548.3,470.6 548.3,469.9 547.3,469.9 547.3,475.2 546.3,475.2 546.3,474.8 545.3,474.8 545.3,475.5 544.3,475.5 544.3,476.5 543.3,476.5 543.3,479.3 542.3,479.3 542.3,484.9 541.3,484.9 541.3,490.8 540.3,490.8 540.3,495.2 539.3,495.2 539.3,494 538.3,494 538.3,494.9 537.3,494.9 537.3,495.3 536.3,495.3 536.3,494.8 535.3,494.8 535.3,497.4 534.3,497.4 534.3,499.2 533.3,499.2 533.3,497.3 532.3,497.3 532.3,500.2 531.3,500.2 531.3,502.8 530.3,502.8 530.3,501.8 529.3,501.8 529.3,502.3 528.3,502.3 528.3,501.8 527.3,501.8 527.3,501.4 526.3,501.4 526.3,499.8 525.3,499.8 525.3,502.4 524.3,502.4 524.3,503.4 523.3,503.4 523.3,506.4 522.3,506.4 522.3,506.3 521.3,506.3 521.3,507.3 520.3,507.3 520.3,510.2 519.3,510.2 519.3,512.3 518.3,512.3 518.3,514.3 517.3,514.3 517.3,512.5 516.3,512.5 516.3,512.7 515.3,512.7 515.3,514.5 514.3,514.5 514.3,514.6 513.3,514.6 513.3,513.7 512.3,513.7 512.3,512.5 511.3,512.5 511.3,513.3 510.3,513.3 510.3,513 509.3,513 509.3,511.6 508.3,511.6 508.3,512.2 507.3,512.2 507.3,514.6 506.3,514.6 506.3,515.1 505.3,515.1 505.3,514.6 504.3,514.6 504.3,512.1 503.3,512.1 503.3,510.8 502.3,510.8 502.3,510.1 501.3,510.1 501.3,511.5 500.3,511.5 500.3,508.4 499.3,508.4 499.3,510.5 498.3,510.5 498.3,506.6 497.3,506.6 497.3,507.5 496.3,507.5 496.3,503.2 495.3,503.2 495.3,503 494.3,503 494.3,502.9 493.3,502.9 493.3,501.3 492.3,501.3 492.3,500.8 491.3,500.8 491.3,498.9 490.3,498.9 490.3,498.8 489.3,498.8 489.3,497.2 488.3,497.2 488.3,496.7 487.3,496.7 487.3,497.4 486.3,497.4 486.3,498.2 485.3,498.2 485.3,496.5 484.3,496.5 484.3,496 483.3,496 483.3,495.6 482.3,495.6 482.3,496.6 481.3,496.6 481.3,497.6 480.3,497.6 480.3,496.2 479.3,496.2 479.3,498.6 478.3,498.6 478.3,494 477.3,494 477.3,494 476.3,494 476.3,494.1 475.3,494.1 475.3,491.8 474.3,491.8 474.3,493.2 473.3,493.2 473.3,489.9 472.3,489.9 472.3,489.4 471.3,489.4 471.3,489 470.3,489 470.3,488.5 469.3,488.5 469.3,488.3 468.3,488.3 468.3,487.1 467.3,487.1 467.3,483.9 466.3,483.9 466.3,481.2 465.3,481.2 465.3,479.4 464.3,479.4 464.3,479.2 463.3,479.2 463.3,478.2 462.3,478.2 462.3,478.9 461.3,478.9 461.3,479.3 460.3,479.3 460.3,480 459.3,480 459.3,478.1 458.3,478.1 458.3,478.5 457.3,478.5 457.3,477.3 456.3,477.3 456.3,477.8 455.3,477.8 455.3,477.5 454.3,477.5 454.3,478.6 453.3,478.6 453.3,478 452.3,478 452.3,475.6 451.3,475.6 451.3,474.3 450.3,474.3 450.3,475.3 449.3,475.3 449.3,472.9 448.3,472.9 448.3,472.5 447.3,472.5 447.3,471.9 446.3,471.9 446.3,474.9 445.3,474.9 445.3,473.2 444.3,473.2 444.3,474 443.3,474 443.3,473 442.3,473 442.3,471.4 441.3,471.4 441.3,468.7 440.3,468.7 440.3,469.7 439.3,469.7 439.3,472 438.3,472 438.3,470.4 437.3,470.4 437.3,468.1 436.3,468.1 436.3,465.2 435.3,465.2 435.3,464.3 434.3,464.3 434.3,463.9 433.3,463.9 433.3,463.4 432.3,463.4 432.3,465.3 431.3,465.3 431.3,470.1 430.3,470.1 430.3,467.6 429.3,467.6 429.3,466.3 428.3,466.3 428.3,465.1 427.3,465.1 427.3,465.7 426.3,465.7 426.3,464.9 425.3,464.9 425.3,466.1 424.3,466.1 424.3,466.7 423.3,466.7 423.3,467 422.3,467 422.3,469.7 421.3,469.7 421.3,470.9 420.3,470.9 420.3,469.7 419.3,469.7 419.3,469.4 418.3,469.4 418.3,472.2 417.3,472.2 417.3,472.8 416.3,472.8 416.3,476.5 415.3,476.5 415.3,474.3 414.3,474.3 414.3,473.9 413.3,473.9 413.3,474.4 412.3,474.4 412.3,477.3 411.3,477.3 411.3,478.4 410.3,478.4 410.3,478.2 409.3,478.2 409.3,478.3 408.3,478.3 408.3,482.4 407.3,482.4 407.3,479.9 406.3,479.9 406.3,480.9 405.3,480.9 405.3,481.3 404.3,481.3 404.3,481.2 403.3,481.2 403.3,482.1 402.3,482.1 402.3,481.6 401.3,481.6 401.3,478.7 400.3,478.7 400.3,478.5 399.3,478.5 399.3,479.3 398.3,479.3 398.3,479.5 397.3,479.5 397.3,483.9 396.3,483.9 396.3,485.5 395.3,485.5 395.3,486.6 394.3,486.6 394.3,488.9 393.3,488.9 393.3,489.7 392.3,489.7 392.3,489.4 391.3,489.4 391.3,491.6 390.3,491.6 390.3,490.4 389.3,490.4 389.3,489.6 388.3,489.6 388.3,489 387.3,489 387.3,490.1 386.3,490.1 386.3,490.7 385.3,490.7 385.3,496.4 384.3,496.4 384.3,494.2 383.3,494.2 383.3,493.7 382.3,493.7 382.3,493 381.3,493 381.3,491.7 380.3,491.7 380.3,491.9 379.3,491.9 379.3,492 378.3,492 378.3,493.8 377.3,493.8 377.3,489.1 376.3,489.1 376.3,488.2 375.3,488.2 375.3,488.3 374.3,488.3 374.3,488.4 373.3,488.4 373.3,489.7 372.3,489.7 372.3,487.7 371.3,487.7 371.3,488.1 370.3,488.1 370.3,484.7 369.3,484.7 369.3,483 368.3,483 368.3,483 367.3,483 367.3,485.3 366.3,485.3 366.3,487.1 365.3,487.1 365.3,485.5 364.3,485.5 364.3,485.1 363.3,485.1 363.3,483.3 362.3,483.3 362.3,483.3 361.3,483.3 361.3,481.6 360.3,481.6 360.3,482.7 359.3,482.7 359.3,484.6 358.3,484.6 358.3,485.2 357.3,485.2 357.3,484.8 356.3,484.8 356.3,484.6 355.3,484.6 355.3,487.9 354.3,487.9 354.3,485.7 353.3,485.7 353.3,485.6 352.3,485.6 352.3,482.4 351.3,482.4 351.3,479.2 350.3,479.2 350.3,480.7 349.3,480.7 349.3,486.5 348.3,486.5 348.3,482.8 347.3,482.8 347.3,480.1 346.3,480.1 346.3,480.5 345.3,480.5 345.3,479.1 344.3,479.1 344.3,476.9 343.3,476.9 343.3,475.4 342.3,475.4 342.3,474.1 341.3,474.1 341.3,472.3 340.3,472.3 340.3,473.3 339.3,473.3 339.3,475 338.3,475 338.3,479.3 337.3,479.3 337.3,478.3 336.3,478.3 336.3,477.4 335.3,477.4 335.3,475.8 334.3,475.8 334.3,478.3 333.3,478.3 333.3,476.4 332.3,476.4 332.3,475.2 331.3,475.2 331.3,472.9 330.3,472.9 330.3,472.9 329.3,472.9 329.3,473.4 328.3,473.4 328.3,473.3 327.3,473.3 327.3,474.4 326.3,474.4 326.3,475.8 325.3,475.8 325.3,478.1 324.3,478.1 324.3,475.2 323.3,475.2 323.3,474.6 322.3,474.6 322.3,473.3 321.3,473.3 321.3,472.4 320.3,472.4 320.3,472.3 319.3,472.3 319.3,472.1 318.3,472.1 318.3,474.8 317.3,474.8 317.3,473.4 316.3,473.4 316.3,475.4 315.3,475.4 315.3,474.8 314.3,474.8 314.3,475.6 313.3,475.6 313.3,475 312.3,475 312.3,473.8 311.3,473.8 311.3,476.9 310.3,476.9 310.3,472.4 309.3,472.4 309.3,473.7 308.3,473.7 308.3,472.8 307.3,472.8 307.3,469.7 306.3,469.7 306.3,469.9 305.3,469.9 305.3,469.8 304.3,469.8 304.3,471.4 303.3,471.4 303.3,473.8 302.3,473.8 302.3,472.9 301.3,472.9 301.3,474.8 300.3,474.8 300.3,473.7 299.3,473.7 299.3,474.1 298.3,474.1 298.3,475.6 297.3,475.6 297.3,477.7 296.3,477.7 296.3,478.3 295.3,478.3 295.3,481.6 294.3,481.6 294.3,482.1 293.3,482.1 293.3,482.8 292.3,482.8 292.3,480.8 291.3,480.8 291.3,478.2 290.3,478.2 290.3,480.3 289.3,480.3 289.3,481.8 288.3,481.8 288.3,484.8 287.3,484.8 287.3,487.1 286.3,487.1 286.3,489.8 285.3,489.8 285.3,488.2 284.3,488.2 284.3,486.9 283.3,486.9 283.3,488 282.3,488 282.3,490.4 281.3,490.4 281.3,493.3 280.3,493.3 280.3,494.6 279.3,494.6 279.3,491.4 278.3,491.4 278.3,492.2 277.3,492.2 277.3,493.4 276.3,493.4 276.3,492.9 275.3,492.9 275.3,491.9 274.3,491.9 274.3,491 273.3,491 273.3,493.1 272.3,493.1 272.3,493.7 271.3,493.7 271.3,496.2 270.3,496.2 270.3,494.9 269.3,494.9 269.3,495.2 268.3,495.2 268.3,495.4 267.3,495.4 267.3,494.5 266.3,494.5 266.3,495.8 265.3,495.8 265.3,496.3 264.3,496.3 264.3,498.6 263.3,498.6 263.3,500.2 262.3,500.2 262.3,501.1 261.3,501.1 261.3,502.4 260.3,502.4 260.3,505 259.3,505 259.3,505.3 258.3,505.3 258.3,505.5 257.3,505.5 257.3,506 256.3,506 256.3,507 255.3,507 255.3,505.7 254.3,505.7 254.3,504.8 253.3,504.8 253.3,506.2 252.3,506.2 252.3,509.5 251.3,509.5 251.3,510.1 250.3,510.1 250.3,507.5 249.3,507.5 249.3,506.4 248.3,506.4 248.3,504.1 247.3,504.1 247.3,503.4 246.3,503.4 246.3,503.2 245.3,503.2 245.3,502.7 244.3,502.7 244.3,503.4 243.3,503.4 243.3,504.1 242.3,504.1 242.3,505.9 241.3,505.9 241.3,503.9 240.3,503.9 240.3,505.5 239.3,505.5 239.3,505.2 238.3,505.2 238.3,506.7 237.3,506.7 237.3,505 236.3,505 236.3,504.5 235.3,504.5 235.3,506.1 234.3,506.1 234.3,507.6 233.3,507.6 233.3,506.1 232.3,506.1 232.3,507.4 231.3,507.4 231.3,509.4 230.3,509.4 230.3,508.1 229.3,508.1 229.3,507.6 228.3,507.6 228.3,511 227.3,511 227.3,510.6 226.3,510.6 226.3,512.9 225.3,512.9 225.3,509.9 224.3,509.9 224.3,507.9 223.3,507.9 223.3,508 222.3,508 222.3,509.2 221.3,509.2 221.3,510 220.3,510 220.3,510.2 219.3,510.2 219.3,509.8 218.3,509.8 218.3,510.6 217.3,510.6 217.3,511.8 216.3,511.8 216.3,512 215.3,512 215.3,513.3 214.3,513.3 214.3,512.3 213.3,512.3 213.3,511.7 212.3,511.7 212.3,510.6 211.3,510.6 211.3,509.7 210.3,509.7 210.3,509.8 209.3,509.8 209.3,512.3 208.3,512.3 208.3,511.7 207.3,511.7 207.3,507.9 206.3,507.9 206.3,504.3 205.3,504.3 205.3,505 204.3,505 204.3,505.6 203.3,505.6 203.3,506.9 202.3,506.9 202.3,510.2 201.3,510.2 201.3,512.3 200.3,512.3 200.3,512 199.3,512 199.3,512 198.3,512 198.3,512.5 197.3,512.5 197.3,513.5 196.3,513.5 196.3,514.8 195.3,514.8 195.3,513.9 194.3,513.9 194.3,513.4 193.3,513.4 193.3,512.5 192.3,512.5 192.3,512.6 191.3,512.6 191.3,512 190.3,512 190.3,512.5 189.3,512.5 189.3,516.6 188.3,516.6 188.3,514.1 187.3,514.1 187.3,515 186.3,515 186.3,512.5 185.3,512.5 185.3,512.1 184.3,512.1 184.3,512.3 183.3,512.3 183.3,511.2 182.3,511.2 182.3,510.4 181.3,510.4 181.3,509.7 180.3,509.7 180.3,510.1 179.3,510.1 179.3,510.2 178.3,510.2 178.3,509.8 177.3,509.8 177.3,509.2 176.3,509.2 176.3,509.2 175.3,509.2 175.3,509.6 174.3,509.6 174.3,512.8 173.3,512.8 173.3,509 172.3,509 172.3,509.9 171.3,509.9 171.3,509.2 170.3,509.2 170.3,508.9 169.3,508.9 169.3,512.2 168.3,512.2 168.3,510 167.3,510 167.3,510 166.3,510 166.3,510.1 165.3,510.1 165.3,512.4 164.3,512.4 164.3,515.1 163.3,515.1 163.3,512.6 162.3,512.6 162.3,518.3 161.3,518.3 161.3,515.8 160.3,515.8 160.3,515.6 159.3,515.6 159.3,510.9 158.3,510.9 158.3,509.5 157.3,509.5 157.3,510.5 156.3,510.5 156.3,509 155.3,509 155.3,510.3 154.3,510.3 154.3,509.7 153.3,509.7 153.3,509 152.3,509 152.3,508.1 151.3,508.1 151.3,507.8 150.3,507.8 150.3,507.1 149.3,507.1 149.3,509.1 148.3,509.1 148.3,508.2 147.3,508.2 147.3,508.2 146.3,508.2 146.3,507.9 145.3,507.9 145.3,508.5 144.3,508.5 144.3,507.8 143.3,507.8 143.3,506.3 142.3,506.3 142.3,510.9 141.3,510.9 141.3,510.5 140.3,510.5 140.3,511.7 139.3,511.7 139.3,513.6 138.3,513.6 138.3,512.7 137.3,512.7 137.3,512.6 136.3,512.6 136.3,513.8 135.3,513.8 135.3,513.2 134.3,513.2 134.3,513.4 133.3,513.4 133.3,513.5 132.3,513.5 132.3,514.6 131.3,514.6 131.3,511.8 130.3,511.8 130.3,514.5 129.3,514.5 129.3,515.9 128.3,515.9 128.3,516.1 127.3,516.1 127.3,514.8 126.3,514.8 126.3,511.3 125.3,511.3 125.3,514.8 124.3,514.8 124.3,508.5 123.3,508.5 123.3,510.3 122.3,510.3 122.3,510.2 121.3,510.2 121.3,511.9 120.3,511.9 Z" fill="#0072B2" fill-opacity="0.2"/>
<line x1="120.8" y1="440.4" x2="120.8" y2="509.4" stroke="#0072B2" stroke-opacity="0.2" stroke-width="1.39"/>
<line x1="944.4" y1="127.4" x2="944.4" y2="188.4" stroke="#0072B2" stroke-opacity="0.2" stroke-width="1.39"/>
<g stroke="#808080" stroke-opacity="0.2" stroke-width="1.39"><line x1="152.4" y1="15.5" x2="152.4" y2="542.5"/><line x1="278.4" y1="15.5" x2="278.4" y2="542.5"/><line x1="404.5" y1="15.5" x2="404.5" y2="542.5"/><line x1="530.5" y1="15.5" x2="530.5" y2="542.5"/><line x1="657.4" y1="15.5" x2="657.4" y2="542.5"/><line x1="783.4" y1="15.5" x2="783.4" y2="542.5"/><line x1="909.5" y1="15.5" x2="909.5" y2="542.5"/><line x1="79.5" y1="447.2" x2="985.5" y2="447.2"/><line x1="79.5" y1="339.3" x2="985.5" y2="339.3"/><line x1="79.5" y1="231.4" x2="985.5" y2="231.4"/><line x1="79.5" y1="123.4" x2="985.5" y2="123.4"/><line x1="79.5" y1="15.5" x2="985.5" y2="15.5"/></g>
<path d="M928.4,105.2 928.7,105.4 929.1,105.5 929.5,105.4 929.8,105.2 929.8,105.2 930.5,104.8 931.2,104.6 933.8,104.6 934.4,104.7 935,105 935.3,105.2 935.5,105.3 935.6,105.4 936,105.5 936.3,105.4 936.6,105.2 936.9,104.9 936.9,104.8 937,104.6 938,100.1 938.1,100 938.1,99.7 938.1,99.6 938.1,80.1 938.2,79.4 940,74.1 940,74 940.1,73.6 940.1,73.4 940.1,67.9 940.1,67.6 939.9,67.1 939.9,66.9 937.4,62 937.4,61.9 937.2,61.7 937.2,61.6 935,59 934.6,58.3 933.3,54.8 933.2,54.6 933.1,54.4 932.9,54.1 932.5,54 932.3,53.9 932,53.9 931.8,53.9 931.5,54.1 931.2,54.3 931.1,54.5 931,54.7 931,54.9 929.4,63.2 929.4,63.4 927.3,71.7 927.3,71.9 927.3,72.3 927.3,72.5 928.4,81.7 928.4,82.2 927.4,93 927.4,93 927.4,93.1 927.4,93.2 927.4,103 927.4,103.2 927.6,103.9 927.7,104.1 928.2,104.9 928.3,105.1ZM919.5,194.9 919.4,195 919.4,195.3 919.4,195.5 919.4,203.1 919.4,203.4 919.6,203.9 919.6,204.1 919.7,204.3 919.8,204.4 919.9,204.6 920.2,204.8 920.5,204.9 920.9,204.9 921.2,204.8 921.3,204.7 921.6,204.4 921.9,203.9 922,203.7 925.2,194.6 925.2,194.6 925.2,194.5 925.2,194.5 927.9,185.5 927.9,185.3 928,184.6 927.9,184.4 927.1,180.4 927,180.2 926.9,180 926.7,179.7 926.3,179.5 926,179.4 925.8,179.4 924.2,179.4 923.9,179.4 923.7,179.5 923.3,179.7 923.1,180 923,180.2 922.9,180.4 921.4,187.3 921.4,187.4ZM911.9,274.9 911.9,274.9 911.9,275.2 911.9,275.3 912.8,295.4 912.9,295.6 912.9,295.8 913,296.1 913.2,296.3 913.4,296.4 913.5,296.5 914.9,297.3 915.1,297.4 915.3,297.4 915.7,297.5 916.1,297.3 916.3,297.2 916.4,297.1 917.6,295.9 917.8,295.7 917.9,295.5 918,295.2 918.1,295 918.1,294.8 918.1,264.6 918.1,264.4 918,264.2 917.9,263.9 917.6,263.6 917.3,263.5 917.1,263.4 916.9,263.4 914.7,263.4 914.6,263.4 914.4,263.4 914.1,263.6 913.8,263.8 913.6,264.1 913.6,264.2 913.5,264.4ZM878.1,254.3 878.2,254.7 878.6,255 879,255.1 879.2,255.1 879.4,255.1 880.3,254.9 880.5,254.8 880.7,254.7 881.1,254.4 881.3,254.2 881.4,254 885.4,245.4 885.5,245.2 890.8,236.7 890.8,236.6 891,236.3 891,236.1 893.5,228 893.6,227.9 893.6,227.6 893.6,227.5 894.3,220.1 894.6,219.3 895,218.7 895.7,218.4 896.5,218.4 897.1,218.7 897.7,219.3 900.6,224.2 900.9,224.9 903.7,238.8 903.8,239 904.1,239.6 904.2,239.8 905.2,241 905.4,241.1 905.5,241.3 905.9,241.4 906.3,241.4 906.6,241.3 906.8,241.2 906.9,241.1 908.8,239.2 908.8,239.2 909,239 909,238.9 913.2,232.9 913.3,232.7 913.4,232.4 913.5,232 913.5,231.8 913.5,231.5 911.9,226.1 911.8,225.9 911.6,225.5 911.5,225.3 906,218.5 905.7,217.9 902.8,210.7 902.6,209.8 902.6,203 902.6,202.9 902.5,202.5 902.5,202.4 900.4,195.7 900.4,195.6 900.3,195.4 900.3,195.4 896.8,188.3 896.6,187.5 896,180.5 896,180.3 895.9,180.1 895.8,179.8 895.5,179.6 895.2,179.5 895,179.4 894.8,179.4 894.4,179.4 894.2,179.4 894,179.5 893.7,179.6 893.4,179.8 893.3,180.1 893.2,180.3 893.2,180.5 892.6,187.6 892.6,187.6 891.9,194.6 891.9,194.7 892,195.1 892,195.3 895.5,212.9 895.5,213.7 895.3,214.3 894.8,214.8 894.2,215.1 893.5,215.1 892.8,214.9 892.3,214.4 888.3,209 888.1,208.9 887.9,208.7 887.5,208.5 887.2,208.4 887,208.4 882.4,208.4 882.3,208.4 882.1,208.5 881.7,208.6 881.5,208.8 881.3,209.2 881.3,209.3 881.3,209.5 880.8,218.1 880.8,218.2 878.9,237.1 878,246 878,246 878,246.1 878,246.2 878,253.9 878,254.1ZM860.4,296.9 860.6,297.2 860.8,297.4 861.1,297.6 861.3,297.6 861.5,297.6 869.9,297.6 870.1,297.6 870.4,297.5 870.7,297.4 871,297 871.1,296.8 871.2,296.6 872.5,291.8 872.5,291.7 872.5,291.6 872.6,291.6 874.3,281.8 874.4,281.6 876.9,273.2 876.9,273.1 877,272.6 877,272.4 876.2,262 876.2,261.8 876.1,261.6 876,261.3 875.7,261 875.5,260.9 875.3,260.8 870.3,259.5 870.2,259.5 869.8,259.4 869.7,259.4 868,259.4 867.8,259.4 867.5,259.5 867.1,259.7 866.9,259.9 866.7,260 863.6,264.2 863.5,264.4 863.3,264.9 863.2,265.1 861.4,273.1 861.4,273.1 861.4,273.3 861.4,273.4 860.6,282.1 859.7,291.7 859.7,291.8 859.7,292.1 859.7,292.2 860.3,296.6 860.3,296.7ZM776.9,346.6 776.8,346.7 776.5,347.1 776.4,347.2 773.9,352 773.9,352.1 773.8,352.4 773.7,352.4 771.4,360.2 771.4,360.3 771.3,360.4 771.3,360.4 769.9,367.6 769.9,367.7 769.9,367.9 769.9,368.2 770,368.4 770,368.6 772.5,373.5 772.6,373.6 772.7,373.8 772.9,374 773.1,374.1 773.2,374.2 775.3,375.1 775.5,375.2 775.8,375.3 776.2,375.2 776.4,375.2 776.6,375.1 779.2,373.8 780.2,373.6 784.7,373.6 785.4,373.7 785.9,374 786.4,374.5 791.1,382.5 791.4,383.1 792.5,387.6 792.6,387.8 792.7,388 793,388.3 793.4,388.5 793.6,388.6 793.8,388.6 794.2,388.6 794.9,389 795.4,389.6 795.6,390.4 795.6,392.8 795.4,393.7 794.1,396.7 794.1,396.9 794,397.6 794,397.8 794.5,404.5 794.5,404.6 794.6,404.8 794.7,405.1 795,405.4 795.3,405.5 795.5,405.5 795.7,405.5 800,405.4 800.3,405.5 800.5,405.5 800.7,405.4 803.5,405.4 803.6,405.3 803.9,405.3 804.2,405.1 804.3,405.1 804.4,404.9 804.8,404.6 805.4,404.3 806,404.3 806.6,404.4 807.2,404.9 807.4,405.1 807.7,405.3 807.8,405.4 808.2,405.4 808.4,405.4 808.8,405.4 809.2,405.2 809.3,405.1 810.2,404.5 810.7,404.2 811.3,404.1 812.1,404.1 812.2,404.1 812.7,404 813,403.8 813.2,403.7 813.4,403.4 813.7,403 813.7,402.9 813.8,402.8 815.6,399 816,398.4 816.6,397.8 817.4,397.3 818.4,397.2 818.5,397.2 818.7,397.2 819,397.2 819.4,397.2 819.4,397.2 820.4,397.1 820.6,397.2 820.8,397.2 821.4,397.4 821.7,397.4 821.9,397.4 822.2,397.3 822.4,397.3 822.6,397.1 822.9,396.8 823,396.6 824.1,394.9 824.8,394.2 825.5,394 826.2,394 826.9,394.3 827.4,394.9 828.4,396.6 828.5,396.7 828.7,397 829,397.3 829.1,397.3 829.5,397.4 829.6,397.4 830,397.4 830.1,397.4 830.4,397.2 830.6,397.1 830.8,396.9 831,396.5 831.1,396.4 831.2,396.2 831.4,395.8 831.7,395.3 832.2,394.7 832.8,394.4 833.4,394.3 834.1,394.5 834.6,394.9 835,395.6 835.3,396.3 835.3,396.3 836.3,399 836.4,399.1 836.6,399.5 836.8,399.7 836.9,399.8 837.2,400 837.4,400 837.7,400.1 838.1,400 839.3,400.3 840.1,400.7 840.4,400.9 840.7,401.1 840.8,401.2 841.2,401.3 841.5,401.4 841.7,401.4 842,401.4 842.1,401.4 842.4,401.2 842.8,401 842.9,400.9 844.1,399.6 844.2,399.5 844.4,399.2 844.5,399.1 845,398.3 845.6,397.7 845.9,397.5 846.1,397.4 846.5,397.2 846.8,396.9 847,396.5 847.1,396.3 848.5,392.6 849.2,391.7 849.2,391.7 849.5,391.3 849.7,390.9 849.7,390.7 851,384.2 851.3,383.5 851.8,383 852.3,382.8 853.1,382.7 853.6,382.7 854,382.7 854.1,382.7 854.5,382.5 854.6,382.4 854.8,382.1 855,381.8 855.1,381.6 855.3,381.1 855.7,380.4 857.4,378.4 857.5,378.3 858.6,377.2 858.6,377.1 859,376.6 859.1,376.5 859.7,375.2 860,374.8 861.3,373.2 861.3,373 861.5,372.7 861.6,372.4 861.7,372.2 861.6,371.9 861.6,371.5 861.4,371.2 861.1,370.8 861,370.6 859.8,369.6 859.5,369.3 858.9,368.6 858.8,368.5 858.4,368.1 858.3,368 857.3,367.3 857.2,367.2 855.9,366.2 855.2,365.2 855.1,365.1 855,364.9 854.8,364.5 854.5,364.2 854.4,364.2 854,364 853.9,364 853.5,364 853,364.1 852.8,364.1 852.2,364.2 851.4,364 851.2,364 851,364 850.6,364 850.5,364.1 850.1,364.3 850,364.4 849.8,364.7 849.6,365.1 849.6,365.3 848.5,370.4 848.4,370.6 847,375.5 847,375.5 846.3,377.6 846.2,377.9 844.4,382 844.4,382 844.4,382.1 844.4,382.1 844.1,382.9 844.1,382.9 842.7,386.4 842.3,387 841.8,387.4 841.2,387.6 840.5,387.6 840,387.3 839.5,386.7 839,386.1 838.9,385.9 838.4,385.4 838.3,385.3 837.7,384.9 837.4,384.6 836,383.1 835.5,382.2 835.1,381.1 835,381 834.8,380.6 834.6,380.3 834.4,380.2 834.1,380 833.9,380 833.6,380 833,380.1 832.8,380.1 832.4,380.1 831.8,380 831.2,379.6 831.1,379.5 831,379.4 830.7,378.9 830.4,378.7 830.3,378.7 829.9,378.6 829.8,378.6 829.5,378.6 829.1,378.7 828.9,378.7 828.5,378.9 827.8,379 827,378.9 826.5,378.7 826.3,378.6 826.2,378.6 825.5,378.3 824.9,377.8 824.7,377.4 824.5,377.2 823.1,374.2 823,374.1 822.7,373.7 822.4,373.4 822.2,373.4 821.8,373.3 821.7,373.3 821.3,373.3 821.1,373.4 820.8,373.7 820.5,374 820.3,374.2 820,374.8 820,374.8 819.9,374.9 819.9,374.9 818,378.8 817.6,379.3 816.1,381 815.8,381.2 815.7,381.3 815.2,381.7 815.2,381.8 814.6,382.3 813.9,382.8 813.1,382.9 812.4,382.7 811.7,382.2 811.6,382 811.3,381.5 809.7,377 809.6,376.9 809.4,376.6 809.2,376.3 809.1,376.2 808.9,376.1 808.5,375.9 808.4,375.9 807.4,375.4 806.9,375 806.5,374.5 805.7,372.9 805.6,372.7 805.3,372.4 805,372.2 804.9,372.1 804.6,372 804.4,372 804.1,372 803.9,372 803.6,372.2 803.5,372.2 803.2,372.5 803,372.8 802.9,373 802.3,374.4 802.3,374.4 800.5,378.6 800,379.4 799.3,379.7 798.6,379.8 797.8,379.5 797.7,379.4 797.3,379.3 797.2,379.3 796.8,379.3 796.2,379.4 796,379.5 796,379.5 795.3,379.4 794.6,379.1 794.1,378.6 793.9,377.8 793.6,375.4 793.6,375.3 793.6,375.1 793.6,375.1 792,368.8 791.9,368.2 791.9,362.1 791.9,361.8 791.8,361.6 791.7,361.3 791.3,361 791.1,360.9 790.9,360.8 785.8,359.4 785.3,359.1 784.8,358.7 779.9,352.8 779.5,352.1 779.4,351.4 779.6,348.8 779.6,348.7 779.5,348.5 779.5,348.2 779.4,348.1 779.3,347.9 778.7,346.9 778.6,346.7 778.4,346.6 778.1,346.3 777.7,346.3 777.3,346.4 777.1,346.5 776.9,346.6ZM726.9,374.4 726.5,374.6 726.3,374.8 726.1,375.1 726.1,375.2 726,375.4 724.7,383.1 724.7,383.2 724.7,383.5 724.7,383.6 725.3,395.6 725.4,395.8 725.4,396 725.6,396.4 725.8,396.6 725.9,396.7 728.7,398.8 729.2,399.2 736.8,409 737.2,409.9 738.4,414.6 738.4,414.8 738.5,415 738.8,415.3 739.2,415.5 739.4,415.6 739.6,415.6 740.1,415.6 740.4,415.6 740.9,415.4 741.1,415.4 743.1,414.4 743.3,414.3 743.5,414.1 743.8,413.8 743.9,413.5 743.9,413.3 746.5,402.1 746.9,401.3 747.5,400.8 748.4,400.6 751.6,400.6 752.4,400.8 753,401.2 753.4,401.9 755.7,407.8 755.7,407.9 755.9,408.1 756.1,408.4 756.5,408.5 756.7,408.6 756.9,408.6 758.5,408.6 758.6,408.6 758.8,408.6 759.1,408.4 759.4,408.2 759.5,408.1 759.6,408 761.8,404.3 762,404 768.2,396.9 768.4,396.7 768.7,396 768.8,395.7 770.2,385.8 770.2,385.5 770.1,384.9 770,384.6 767.4,378.2 767.3,378 767.2,377.9 766.9,377.6 766.6,377.5 766.4,377.4 766.2,377.4 762.4,377.4 761.6,377.3 761,376.9 760.6,376.2 757.5,369.4 757.4,369.2 757.3,369 757,368.8 756.6,368.7 756.4,368.6 756.2,368.6 751.6,369.2 751.5,369.2 751.3,369.3 751,369.4 750.8,369.6 750.7,369.8 750.6,369.9 746.5,378 746.5,378.2 746.4,378.6 746.3,378.8 744.7,393.2 744.5,393.9 744.2,394.4 741.2,397.5 740.5,397.9 739.7,398.1 733.8,398.1 733,398 732.5,397.6 732.1,397.1 731.9,396.3 731.1,383.7 731.1,383.6 731.1,383.4 731.1,383.3 729.1,375.4 729.1,375.2 729,375 728.7,374.7 728.3,374.5 728.1,374.4 727.9,374.4 727.2,374.4 727,374.4ZM682.2,354.3 682.2,354.3 687.9,364.2 688.1,364.8 691.3,377.5 691.3,377.5 691.4,377.7 691.4,377.7 695.4,389 695.5,389.2 695.6,389.4 695.9,389.6 696.2,389.8 696.6,389.8 696.8,389.8 697,389.7 697.8,389.4 697.9,389.3 698.5,388.9 699.3,388.6 699.5,388.5 699.8,388.4 700.1,388.1 700.2,387.8 700.3,387.6 700.3,387.4 700.3,380.3 700.5,379.5 700.9,378.8 703.6,376.1 704.3,375.6 705,375.5 705.7,375.7 706.4,376.1 708.9,378.9 709.4,379.6 714.6,392.7 714.7,393.1 717.2,404.6 717.2,405 717.9,416.7 717.9,416.8 718,417 718.1,417.3 718.4,417.5 718.7,417.7 719,417.7 719.2,417.7 719.3,417.6 719.5,417.6 719.7,417.5 719.9,417.4 720.2,417.1 720.3,416.8 720.4,416.6 720.4,416.4 721.1,405.2 721.1,405.1 721.1,404.9 721.1,404.9 720.3,393.9 720.3,393.8 720.2,393.4 720.2,393.3 715.5,380.7 715.4,380.6 715.4,380.5 715.4,380.5 713.9,377.5 713.6,376.5 713.6,368.6 713.6,368.4 713.5,368 713.5,367.9 710.4,358.5 710.4,358.5 710.4,358.4 710.4,358.4 708.4,353.2 708.3,353.1 708.2,352.9 707.9,352.6 707.5,352.5 707.3,352.4 707.1,352.4 705,352.4 704.8,352.4 704.6,352.4 704.3,352.5 704.2,352.6 704,352.7 698.7,356.5 698.6,356.6 698.5,356.8 698.3,357 698.2,357.2 698.1,357.4 698.1,357.6 697.7,358.3 697.2,358.8 696.5,359.1 695.8,359 695.2,358.7 694.7,358.1 692.2,353.5 692.1,353.3 691.6,352.8 691.5,352.7 689.5,351.3 689,350.9 688.7,350.4 688.6,349.7 688.6,335.9 688.6,335.6 688.4,335.1 688.4,334.9 685.6,329.4 685.5,329.2 685.4,329.1 685.1,328.8 684.7,328.7 684.5,328.7 684.3,328.7 681.5,329.2 681.3,329.2 681.1,329.3 680.8,329.5 680.6,329.7 680.5,329.8 678.4,333 678.3,333.1 678.2,333.3 678.2,333.6 678.1,333.8 678.1,333.9 678.4,347 678.4,347.3 678.6,347.9 678.7,348.1ZM621.3,361.5 620.9,361.6 620.6,361.9 620.5,362.3 620.5,362.5 620.5,362.7 622.4,380.8 622.4,380.8 622.4,380.9 622.4,380.9 624.4,397.7 624.4,397.8 624.4,397.8 624.4,397.9 626.3,408.6 626.3,408.8 626.4,408.9 626.6,409.2 626.8,409.4 627.1,409.6 627.3,409.6 627.5,409.6 628.2,409.6 628.4,409.6 628.6,409.5 628.9,409.4 629.2,409.1 629.4,408.9 629.9,408.3 630.5,408.1 631.1,408 631.7,408.2 632.3,408.7 632.4,408.8 632.7,409 633.1,409.1 633.3,409.1 633.5,409.1 634.3,408.9 634.4,408.9 634.6,408.8 634.9,408.6 635.1,408.4 635.2,408.3 635.2,408.1 638.6,399.7 639.3,398.8 644.1,394.8 644.2,394.6 644.4,394.4 644.6,394.1 644.6,393.8 644.7,393.6 645.8,368.8 646.1,367.9 646.7,367.2 648.4,366.1 648.5,366 648.7,365.8 648.9,365.6 649,365.4 649,365.3 651.6,358 651.6,358 651.7,357.8 651.7,357.8 653.6,349.7 653.6,349.7 653.6,349.7 653.6,349.7 655.2,341.8 655.6,341 656.2,340.5 657.1,340.3 661.3,340.3 662,340.4 662.5,340.7 662.9,341.2 663.1,341.9 664.4,349.6 664.4,349.7 664.4,349.8 664.4,349.8 666.3,357.8 666.3,357.8 666.4,358 666.4,358 669,365.3 669.1,365.5 669.5,366.1 669.7,366.3 671.5,367.8 671.7,367.9 671.8,368 672.2,368.1 672.6,368.1 672.8,368 672.9,367.9 676.2,366.2 676.3,366.1 676.5,366 676.7,365.7 676.8,365.4 676.9,365.2 676.9,365.1 676.9,359.3 676.9,359.2 676.9,359 676.7,358.7 676.6,358.5 676.6,358.4 670.7,351 670.3,350.1 668.6,342.1 668.6,341.6 668.6,334 668.6,333.8 668.5,333.3 668.4,333.2 665.4,325.5 665.4,325.4 663,318.2 662.9,318 662.8,317.8 662.6,317.6 662.5,317.4 662.3,317.3 659,315.3 658.8,315.2 658.6,315.1 658.2,315.1 657.8,315.2 657.6,315.3 657.4,315.4 655.5,317.3 655.3,317.4 655.1,317.8 655,317.9 651.5,325.1 651.5,325.2 651.3,325.6 651.3,325.8 650.4,333.4 650.4,333.6 648.9,341.8 648.7,342.5 644.4,350.4 644.3,350.5 644.2,350.7 644.2,350.7 641.5,357.9 641.5,358 641.4,358.5 641.4,358.7 641.4,359.9 641.3,360.6 637.3,372.4 637.3,372.4 637.3,372.4 637.3,372.5 633.4,385.1 633.4,385.2 633.4,385.4 633.3,385.5 632.5,391.6 632.3,392.3 631.9,392.8 631.3,393.1 630.7,393.2 630,393 629.5,392.7 629.1,392.1 628.9,391.4 628.3,381.4 628.3,381.3 628.3,381.1 628.3,381 623.4,362.4 623.3,362.2 623.2,362 623,361.6 622.6,361.5 622.4,361.4 622.2,361.4 621.6,361.4 621.4,361.4ZM605.8,379.1 605.7,379.4 605.7,379.7 605.8,380 606,380.3 606.3,380.5 606.6,380.5 606.9,380.5 607.1,380.6 607.3,380.6 610.3,380.6 610.5,380.6 610.7,380.5 611,380.4 611.3,380.2 611.4,380 611.5,379.9 613,376.9 613,376.8 613.2,376.4 613.2,376.2 615.3,359.8 615.3,359.8 617.6,343.8 617.6,343.8 620.6,322.1 620.6,322 620.6,321.8 620.6,321.8 620.6,303.4 620.6,303.2 620.5,302.9 620.3,302.5 620.2,302.3 620,302.2 620,302.1 619.8,302 619.7,302 619.3,301.8 619,301.9 618.7,302 618.5,302.1 618.3,302.3 618.2,302.5 618.1,302.8 618.1,303 618,303.1 617,322 616.9,322.4 611.4,344.3 611.3,344.5 606.3,359.9 606.2,360 606.2,360.4 606.1,360.6 606.1,378 606,378.8ZM588.4,359.3 588.4,359.5 589.3,370.1 589.4,370.3 589.5,370.8 589.6,371 595,380.5 595.1,380.6 595.2,380.8 595.3,380.9 598,384 598.2,384.3 602.1,390.6 602.3,390.8 602.4,390.9 602.8,391.1 603.1,391.2 603.4,391.2 603.6,391.2 603.6,391.2 603.8,391.1 604,391 604.3,390.7 604.5,390.3 604.6,390.1 604.6,389.9 604.6,382.4 604.8,381.5 604.9,381.4 605.1,381 605.1,380.6 604.9,380.3 604.6,380 604.3,379.9 603.8,379.8 603.1,379.4 599.3,376.3 598.8,375.6 598.6,374.8 598,360.4 598,360.3 598,360.1 598,360 595.1,346.4 595,346.2 594.9,346 594.7,345.7 594.3,345.5 594,345.4 593.8,345.4 592.7,345.4 592.5,345.4 592.3,345.5 591.9,345.7 591.6,346 591.5,346.2 591.5,346.4 588.5,358.8 588.5,358.9ZM556.4,398.8 556.6,399.1 556.8,399.4 557.2,399.5 557.4,399.6 557.5,399.6 559.8,399.6 560,399.6 560.3,399.5 560.7,399.3 560.9,399 561,398.8 561.1,398.6 562.1,393.9 562.1,393.9 562.1,393.7 562.1,393.6 563.6,375 563.7,374.6 565.5,367.1 565.9,366.3 566.6,365.8 567.4,365.6 568.4,365.6 568.6,365.6 568.8,365.5 569.1,365.4 569.3,365.3 569.4,365.2 569.8,365 570.4,364.8 571.1,364.8 571.7,365.2 572.2,365.7 572.4,366.4 573.3,375.3 573.4,375.4 573.5,375.8 573.5,376 578.7,387.3 578.9,387.9 580.3,398.3 580.3,398.4 580.4,398.8 580.5,398.9 584.9,409.5 585,409.6 585.2,409.8 585.5,410.1 585.9,410.2 586.2,410.2 586.4,410.2 587.3,410.1 587.4,410 587.6,409.9 587.9,409.8 588.1,409.5 588.2,409.2 588.2,409 588.2,408.8 587.6,399.1 587.6,399.1 587.6,399.1 587.6,399.1 586.7,388.9 586.6,388.7 586.5,388.2 586.4,388 579.8,376.8 579.6,376.3 575.9,364.3 575.8,364.1 575.7,363.9 575.4,363.6 575,363.5 574.8,363.4 574.6,363.4 573.6,363.4 572.8,363.2 572.2,362.8 571.9,362.2 571.8,361.4 572,360.6 572.4,359.9 572.5,359.7 572.7,359.3 572.7,359.1 574.1,350 574.1,350 574.1,349.8 574.1,349.7 574.3,335.4 574.3,335.3 574.3,335 574.3,334.9 572.9,328.5 572.8,328.3 572.7,328.1 572.5,327.8 572.4,327.6 572.2,327.5 570.1,326.2 569.9,326.1 569.8,326.1 569.5,326 569.3,326 569.1,326 564.2,326.3 564,326.3 563.8,326.4 563.5,326.5 563.3,326.7 563.2,326.8 561.8,328.2 561.7,328.3 561.6,328.5 561.4,328.8 561.4,329 561.3,329.2 560.4,350 560.4,350.3 557.4,370.1 557.4,370.1 557.4,370.2 557.4,370.2 556.2,384.9 556.2,385 556.2,385.1 556.2,385.2 556.4,398.4 556.4,398.6ZM555.3,409.9 555.3,410.1 555.4,410.3 555.5,410.6 555.8,410.9 556.1,411 556.3,411.1 556.5,411.1 558.6,411.1 558.8,411.1 559,411 559.3,410.9 559.6,410.6 559.7,410.3 559.8,410.1 559.8,409.9 559.8,406.6 559.8,406.4 559.7,406.2 559.6,405.9 559.3,405.6 559,405.5 558.8,405.4 558.6,405.4 556.5,405.4 556.3,405.4 556.1,405.5 555.8,405.6 555.5,405.9 555.4,406.2 555.3,406.4 555.3,406.6ZM408.6,438.9 408.7,439.2 408.9,439.6 409.3,439.8 409.5,439.8 409.7,439.8 413.6,440.2 413.8,440.2 414,440.2 414.3,440.1 414.6,439.9 414.7,439.8 414.8,439.7 420.4,432.4 421.1,431.8 422,431.6 422.4,431.6 422.6,431.6 422.9,431.5 423.9,431.5 424,431.6 424.3,431.6 424.5,431.6 427.9,431.6 428.4,431.7 432.2,432.6 433,433 433.9,433.8 434.1,433.9 434.3,434 434.6,434.1 434.7,434.1 435.6,434.4 436.1,434.9 436.4,435.7 437.8,444 437.8,444.2 438,444.7 438.2,445 438.3,445.1 438.7,445.3 438.8,445.4 439.2,445.4 439.4,445.4 439.7,445.3 439.9,445.2 440.2,445 440.5,444.6 440.6,444.5 442.5,440.7 442.7,440.3 442.9,440.1 443.5,439.6 444.2,439.4 444.9,439.4 445.6,439.8 446.4,440.5 446.9,441 447.2,441.5 447.4,441.7 447.6,441.8 447.9,442 448.3,442.1 448.4,442.1 448.8,442.2 449.5,442.3 450.1,442.8 450.5,443.2 450.7,443.3 451.2,443.7 451.5,443.9 452,444.6 453.3,447.2 453.3,447.3 453.4,447.3 453.4,447.3 453.6,447.8 453.7,448 454,448.3 454.3,448.6 454.5,448.6 454.9,448.7 455,448.7 455.4,448.7 455.6,448.6 455.9,448.4 456.4,447.8 456.4,447.8 456.4,447.8 456.8,447.5 457.3,447.2 458,447.1 458.6,447.3 459.1,447.6 459.5,448.2 459.8,448.9 459.9,449.2 461.9,455.8 461.9,456 462.1,456.4 462.4,456.7 462.5,456.8 462.8,456.9 463,457 463.3,457 463.5,457 463.8,456.9 464,456.9 464.2,456.7 464.5,456.3 464.6,456.2 464.7,456 465.3,455.6 465.7,455.3 466.5,455 467.3,455.1 467.9,455.5 468.4,456.2 468.7,456.8 468.7,456.9 468.8,457 468.8,457 470.7,460.8 470.9,461.4 471.1,462.4 471.1,462.6 471.3,462.9 471.4,463.2 471.5,463.3 471.8,463.6 472.2,463.7 472.3,463.8 473.7,464.3 473.9,464.3 474.3,464.3 475.1,464.6 475.7,465.1 477.4,467.3 477.7,467.9 479.7,473 479.7,473.1 479.7,473.2 479.7,473.2 480.3,474.4 480.4,474.6 480.7,475 481,475.2 481.2,475.3 481.6,475.4 482.1,475.4 482.3,475.4 483,475.2 483.6,475.2 484.5,475.4 485.2,476 485.4,476.3 485.5,476.4 485.8,476.7 486.2,476.9 486.3,477 486.7,477 486.9,477 487.2,476.9 487.4,476.8 487.7,476.6 488,476.3 488.1,476.1 488.6,475.1 489,474.5 489.2,474.3 489.8,473.9 490.5,473.7 490.5,473.7 490.7,473.7 491.9,473.3 492.5,473.2 493,473.2 494.1,473.4 494.4,473.6 494.8,473.7 495,473.7 495.4,473.7 495.5,473.6 495.8,473.4 496.2,473.1 496.3,473 496.5,472.7 497.2,472.1 498.1,471.9 498.3,471.8 498.7,471.9 499.5,472 499.7,472 500.1,472 500.4,472 500.6,471.9 500.9,471.7 501.2,471.4 501.3,471.3 501.7,470.6 502.1,470.2 503.4,469 504,468.6 504.7,468.5 505.4,468.6 505.9,469 506.4,469.6 508.3,473.9 508.3,474 508.4,474.1 508.4,474.2 508.7,474.7 508.8,474.8 510.5,478.4 510.5,478.6 512.6,484.1 512.7,484.3 513.6,487.5 513.6,487.7 513.8,488.1 514,488.3 514.1,488.4 514.4,488.6 514.6,488.7 514.9,488.7 515.3,488.8 515.5,488.7 516.3,488.6 516.4,488.6 516.8,488.5 516.9,488.4 517.2,488.3 518.2,488.2 518.9,488.4 519,488.4 519.6,488.7 520,488.7 520.1,488.7 520.5,488.6 520.7,488.5 521,488.3 521,488.2 521.7,487.7 522.5,487.5 522.6,487.5 522.8,487.4 523.2,487.4 523.3,487.3 523.3,487.3 524,487 524.7,487 524.9,487 525.3,487 525.4,487 525.8,486.8 525.9,486.7 526.2,486.4 526.4,486 526.4,485.8 528.5,478 528.6,477.9 530.2,473.1 530.5,472.5 531,472.1 531.7,471.8 531.7,471.8 531.8,471.8 532,471.8 532,471.8 532.9,471.7 533.5,471.9 533.7,472 534,472 534.4,472 534.8,471.9 535,471.9 535.6,471.6 536.4,471.5 537.3,471.7 537.7,471.9 538,472 538.2,472 538.5,472 538.9,471.9 539.1,471.9 539.8,471.6 540.5,471.5 541.2,471.6 542.1,471.9 542.1,471.9 542.4,471.9 542.4,472 542.8,472 543,472 543.4,472 543.7,472 543.9,471.9 544.2,471.7 544.5,471.5 544.6,471.3 545.3,470.4 545.7,469.9 546.3,469.7 547.4,469.3 547.4,469.2 547.5,469.2 547.6,469.2 548.6,468.8 548.8,468.8 549.5,468.5 550.2,468.6 550.3,468.6 550.8,468.7 551.1,468.7 551.3,468.7 551.6,468.6 551.7,468.5 552,468.3 552.1,468.2 552.3,467.9 552.4,467.5 552.4,467.3 552.8,463.9 552.8,463.8 554.4,453.7 554.4,453.6 554.9,450.5 555,450.2 556.8,444.9 556.8,444.8 557.3,444.1 557.8,443.6 557.9,443.4 558.2,443.1 558.3,442.7 558.4,442.3 558.4,442.1 558.4,433.9 558.4,433.7 558.3,433.3 558.2,433 558,432.6 557.9,432.5 557.6,432.1 557,431 556.9,430.6 556.9,430.4 556.7,430 556.5,429.7 556.4,429.6 556.1,429.4 556,429.3 555.6,429.3 555.5,429.3 555.1,429.3 554.7,429.5 554.5,429.6 554,429.9 553.3,430.2 553.3,430.2 553.2,430.2 552.6,430.3 552.3,430.4 552.2,430.5 552,430.7 551.9,430.8 551.7,431.1 551.6,431.5 551.6,431.7 550,445.4 550,445.6 549.7,447.2 549.6,447.3 547.9,453.1 547.8,453.2 547.1,455 546.9,455.5 546.4,456.2 545.5,457 544.4,457.4 544.2,457.5 543.1,457.9 542.9,458 542.5,458.2 542.2,458.5 542,458.9 541.9,459.1 541.5,460.1 541.2,460.6 540.7,461.4 540.1,461.9 539.5,462.2 538.9,462.2 538.3,462 537.8,461.6 537.4,461 537.3,460.8 537.3,460.7 535.6,455.7 535.5,455.5 535.3,455.2 535.1,454.9 534.9,454.8 534.6,454.6 534.4,454.6 534,454.6 533.9,454.6 533.5,454.7 533.2,455 533,455.1 532.9,455.2 532.8,455.3 532.2,455.8 531.4,456.3 530.4,456.3 530.2,456.3 529.9,456.3 529.8,456.3 529.4,456.4 529.3,456.4 529.1,456.6 529,456.7 528.8,457 528.6,457.4 528.6,457.6 528.1,459.9 528,460.2 525.9,466.3 525.9,466.3 523.8,471.9 523.7,472 523.6,472.6 523.4,473.2 523,473.8 521.9,474.8 521.9,474.8 521.8,474.8 521.8,474.8 520.9,475.7 520.3,476.1 520,476.2 519.9,476.2 519.2,476.5 519.1,476.5 517.8,477.3 517.2,477.5 516.5,477.6 515.9,477.3 515.5,476.9 515.1,476.3 513.2,470.8 513.1,470.7 511.4,464.2 511.4,464 511.2,463.6 510.9,463.3 510.8,463.2 510.5,463.1 510.3,463 510,463 509.6,463 509.4,463 508.9,463.2 508.1,463.1 507.9,463 507.9,463 507.8,463 507.8,463 507.4,462.8 506.6,462.4 506.4,462.2 506.3,462.1 505.9,461.6 505.6,461.4 505.5,461.3 505.1,461.3 505,461.3 504.6,461.3 504.5,461.4 504.2,461.5 503.9,461.8 503.7,462 502.2,463.9 501.8,464.4 500.3,465.5 499.6,465.8 498.8,465.8 498.5,465.8 498.3,465.8 497.8,465.8 497,465.7 496.3,465.2 496.3,465.2 496.1,465 495.1,464.5 494.8,464.3 494.4,464.1 493.5,463.4 492.9,462.7 491.4,459.7 491.3,459.6 491,459.2 490.7,459 490.5,458.9 490.2,458.8 490,458.8 489.6,458.8 489.5,458.9 489.1,459.1 488.8,459.4 488.7,459.6 488.7,459.6 488.6,459.6 488.6,459.7 488.6,459.7 487.3,461.9 486.7,462.5 486,462.8 485.2,462.8 484.3,462.6 483.4,462.2 482.7,461.6 482.5,461.5 482,461 482,460.9 481.8,460.8 481.8,460.8 480.4,459.7 479.7,458.9 478.1,455.6 478,455.4 477.7,455 477.4,454.4 475.7,450.2 475.7,450.2 473.9,445.7 473.8,445.5 473.6,445.1 473.3,444.8 473.1,444.7 472.8,444.6 472.6,444.6 472.2,444.6 472,444.7 471.8,444.8 471.8,444.8 471.1,445.2 470.5,445.3 469.9,445.2 469.4,445 468.9,444.7 468.6,444.6 468.4,444.5 468.3,444.5 467.2,444.5 466,444.2 465.9,444.2 465.5,444 464.7,443.6 464.2,442.9 462.5,439.2 462.5,439.1 460.6,434.1 460.5,433.9 460.3,433.5 460.1,433.3 460,433.2 459.6,433 459.5,433 459.1,433 459,433 458.6,433.1 458.5,433.1 458.2,433.4 458.1,433.5 458,433.8 457.9,433.9 457.5,434.6 456.9,435.1 456.1,435.2 455.4,435 454.8,434.6 454.4,433.8 453.8,431.5 453.7,431.5 453.1,429.2 453.1,429 452.8,428.6 452.6,428.3 452.4,428.2 452.1,428 451.8,428 451.6,427.9 451,428 450.4,427.7 449.8,427.3 449.5,426.9 449.4,426.8 449.1,426.5 448.8,426.4 448.7,426.3 448.3,426.3 448.2,426.3 447.9,426.3 447.8,426.3 447.1,426.5 446.5,426.4 446.1,426.3 445.8,426.3 445.4,426.3 445.2,426.3 445.1,426.4 444.2,426.4 444.1,426.4 444.1,426.4 443.5,426.3 443.2,426.3 443,426.3 442.7,426.4 442.6,426.4 441.9,426.7 441.2,426.7 440.6,426.4 440.1,425.9 439.8,425.2 438.4,417.6 438.4,417.4 438.2,417 438,416.7 437.9,416.6 437.7,416.4 437.5,416.4 437.2,416.3 437,416.3 436.7,416.3 436.4,416.4 435.7,416.5 435.1,416.3 434.6,416 434.1,415.4 432.8,412.7 432.8,412.7 432.7,412.6 432.7,412.6 429.3,406.6 429.2,406.5 429.1,406.3 428.8,406.1 428.7,406 428.5,405.9 425.8,404.8 425.6,404.8 425.4,404.7 424.9,404.8 424.7,404.9 424.5,405 422,406.4 421.9,406.5 421.8,406.6 421.6,406.9 421.4,407.2 421.4,407.4 421.4,407.5 421.4,408.9 421.3,409.5 421,410.1 416.3,416.6 416.2,416.7 416.1,416.8 416.1,416.9 411.5,425.2 411.4,425.3 411.3,425.7 411.3,425.8 409.7,433.3 409.7,433.3 409.7,433.3 409.7,433.3 408.6,438.5 408.6,438.7ZM394,459.1 393.7,459.3 393.5,459.6 393.4,459.9 393.4,460.1 393.4,460.3 394.7,471.8 394.7,471.9 396.4,489.8 396.4,490 396.4,495.4 396.4,495.6 396.5,495.8 396.6,496.1 396.9,496.4 397.2,496.5 397.4,496.6 397.6,496.6 397.8,496.6 398,496.6 398.3,496.5 398.7,496.3 398.9,496 399,495.8 399.1,495.6 400.3,489.7 400.3,489.6 402.7,480.1 402.8,480 402.8,479.7 402.8,479.5 402.8,470.3 402.8,470.2 402.8,470 402.8,469.9 402.4,467.8 402.4,466.9 402.8,466.3 403.4,465.8 404.3,465.6 406.5,465.6 406.7,465.6 406.9,465.5 407.2,465.4 407.5,465.1 407.6,465 407.7,464.8 410.5,457.9 410.6,457.8 410.7,457.5 410.7,457.4 411.7,450.9 411.7,450.7 411.7,450.5 411.7,450.2 411.6,450 411.5,449.8 407.4,443.5 407.3,443.3 407.1,443.1 406.8,442.9 406.4,442.9 406.2,442.9 406,442.9 403.1,443.8 402.9,443.8 402.7,444 402.4,444.2 402.3,444.6 402.2,444.8 402.2,445 402.2,454.9 402.2,454.9 402.2,455 402.2,455 402.4,458.1 402.4,458.8 402,459.4 401.5,459.8 400.9,460 400.3,460 399.6,459.7 398.2,458.8 398,458.7 397.8,458.6 397.5,458.6 397.3,458.6 397.1,458.6 394.4,459 394.2,459ZM390.4,454.1 390.4,454.3 390.5,454.5 390.6,454.8 390.9,455.1 391.2,455.2 391.4,455.3 391.6,455.3 393.2,455.3 393.4,455.3 393.6,455.2 393.9,455.1 394.2,454.8 394.3,454.5 394.4,454.3 394.4,454.1 394.4,437.6 394.4,437.4 394.3,437.2 394.2,436.9 393.9,436.6 393.6,436.5 393.4,436.4 393.2,436.4 391.6,436.4 391.4,436.4 391.2,436.5 390.9,436.6 390.6,436.9 390.5,437.2 390.4,437.4 390.4,437.6ZM384.8,431.8 384.9,432.2 385.2,432.4 385.4,432.5 385.6,432.6 387.5,433.3 387.7,433.4 387.9,433.4 388.2,433.4 388.4,433.4 388.5,433.4 391,432.6 391.2,432.5 391.4,432.4 391.7,432.1 391.8,431.7 391.9,431.5 391.9,431.3 391.9,416.7 391.9,416.5 391.8,416 391.8,415.9 390.4,412.2 390.3,412.1 390.2,411.9 389.9,411.6 389.5,411.5 389.3,411.4 389.1,411.4 387,411.4 386.8,411.4 386.6,411.4 386.3,411.5 386.2,411.6 386,411.7 385.3,412.2 385.2,412.4 385,412.6 384.8,413 384.7,413.3 384.7,413.5 384.7,431.4 384.7,431.6ZM125.6,466.2 125.5,466.2 125.4,466.2 124.6,465.8 124.2,465.5 123.9,465.3 123.2,465.2 122.6,464.9 122,464.6 121.8,464.5 121.4,464.3 121,464.3 120.8,464.3 120.4,464.4 120.3,464.5 120,464.7 119.9,464.9 119.7,465.2 119.6,465.7 119.6,465.9 119.6,476.1 119.6,476.3 119.8,476.8 120,477.2 120.3,477.6 120.5,477.7 121.9,478.7 122.3,479 122.6,479.4 123,479.6 123.5,479.8 123.7,479.8 123.9,479.9 124.5,480 125.1,480.4 125.1,480.4 125.4,480.6 125.6,480.7 125.9,480.7 126,480.7 126.4,480.7 126.5,480.6 126.8,480.5 127.1,480.2 127.2,480.1 127.7,479.5 128.2,479.1 128.8,478.8 129,478.8 129.9,478.8 130.8,479.2 130.9,479.3 131,479.4 131.4,479.6 131.8,479.7 132,479.7 132.4,479.7 132.8,479.5 133.6,479.4 134.3,479.6 134.5,479.6 134.9,479.7 135.4,479.7 136.1,479.8 136.8,480.2 136.9,480.3 137.1,480.4 137.4,480.6 137.8,480.7 137.9,480.7 138.3,480.7 138.5,480.7 138.8,480.5 138.9,480.4 139.1,480.1 139.3,479.7 139.4,479.5 139.5,479.2 139.9,478.5 140.5,478 140.7,478 141.1,477.8 141.1,477.8 141.5,477.6 141.9,477.4 142.2,477.1 142.3,477 142.8,476.2 143.5,475.7 144.2,475.4 145,475.5 145.7,476 146.1,476.4 146.4,476.6 146.6,476.7 146.8,476.7 146.8,476.7 147.6,476.9 148.1,477.2 148.7,477.6 148.7,477.6 148.9,477.7 148.9,477.8 149.3,478 149.8,478.4 150.1,479 150.4,479.6 150.5,480 152.1,487.4 152.1,487.6 152.3,488 152.6,488.4 152.7,488.5 153.3,489.4 154.6,492.6 154.7,492.8 154.9,493.2 155.2,493.5 155.3,493.5 155.7,493.7 155.8,493.7 156.2,493.7 156.3,493.7 156.7,493.5 157.1,493.2 157.3,493.1 157.9,492.8 158.6,492.7 158.8,492.7 159,492.6 159.3,492.4 159.4,492.3 159.7,492 159.9,491.6 159.9,491.5 161.7,484.1 162,483.4 162.5,483 163.1,482.7 163.8,482.7 164.5,482.8 164.7,482.8 165.2,482.7 165.6,482.6 165.9,482.4 166.1,482.3 166.4,482 167,481.8 167.7,481.8 168.3,482.1 168.9,482.7 169.7,483.9 169.8,484.1 170.1,484.4 170.5,484.6 170.6,484.7 171.1,484.7 171.3,484.7 172.2,484.8 172.9,485.2 173.2,485.5 173.5,485.6 173.7,485.7 174,485.7 174.2,485.7 174.6,485.6 174.7,485.5 175,485.3 175.3,484.9 175.4,484.8 175.6,484.3 176.1,483.7 176.8,483.3 177.5,483.3 178.2,483.6 178.6,483.9 178.7,484 179,484.3 179.5,485.3 180.1,487.4 180.1,487.8 181.1,504.2 181.1,504.4 181.2,504.8 181.4,505.2 181.5,505.3 181.8,505.5 181.9,505.6 182.3,505.7 182.5,505.7 182.8,505.7 183.4,505.5 184.1,505.4 184.8,505.5 185.1,505.7 185.5,505.7 185.6,505.7 186,505.6 186.2,505.6 186.5,505.3 186.6,505.2 186.8,504.8 186.9,504.4 186.9,504.2 187.9,489.9 188,489.4 188.3,488.3 188.3,488.2 189.5,484.8 189.8,484.2 190.4,483.7 190.7,483.5 191,483.3 191.3,483 191.4,482.8 191.9,481.8 192.5,481.2 193,480.9 193.1,480.8 193.7,480.6 194.3,480.4 194.9,480.4 195.4,480.6 195.6,480.7 195.9,480.7 196.3,480.7 196.9,480.5 197,480.5 197.3,480.4 198,480.4 198.4,480.6 198.7,480.7 199.3,480.7 199.6,480.7 199.9,480.7 200.6,480.6 201.6,480.8 201.8,480.8 201.8,480.8 202.6,480.9 203.2,481.3 203.5,481.6 203.6,481.8 204,482.2 204.2,482.5 204.4,482.6 204.8,482.7 204.9,482.7 205.3,482.7 205.5,482.6 205.8,482.5 206.2,482.2 206.3,482 206.4,481.9 207,481.3 207.7,481.1 208.4,481.2 209.2,481.6 209.9,482.3 210,482.4 210.4,482.6 210.7,482.7 211.3,482.8 211.3,482.8 211.4,482.9 211.5,482.9 212.2,483.2 212.6,483.8 212.6,483.8 213,484.3 213.2,484.5 213.3,484.6 213.7,484.7 213.8,484.7 214.2,484.7 214.3,484.7 214.6,484.6 214.8,484.5 215,484.3 215.3,484 215.4,483.8 216.7,481.2 216.9,480.9 217.8,479.6 218.6,479 219.5,478.8 219.7,478.8 219.9,478.8 220.3,478.7 220.7,478.6 220.8,478.5 221.1,478.2 221.3,477.8 221.5,477.7 221.6,477.5 222.2,477 223,476.8 223.2,476.7 223.5,476.6 223.9,476.5 224.1,476.4 224.3,476.2 224.9,475.9 225.6,475.8 225.7,475.8 225.9,475.8 226.3,475.7 226.7,475.5 227.1,475.3 227.3,475.1 227.3,475.1 227.9,474.8 228.6,474.7 229,474.7 229.3,474.7 229.5,474.7 229.8,474.5 230.1,474.2 230.2,474.1 231.7,472.4 232.2,472 232.7,471.6 232.7,471.6 233.1,471.3 233.1,471.2 234.1,470.1 234.3,470 234.6,469.8 235.2,469.3 235.9,469.2 236.6,469.4 237.2,469.8 237.6,470.5 238.4,472.8 238.5,473.1 239.6,478.4 239.6,478.6 239.8,479 240,479.3 240.1,479.4 240.4,479.6 240.5,479.7 240.9,479.7 241,479.7 241.4,479.7 241.5,479.6 241.8,479.5 241.9,479.4 242.2,479.1 242.3,478.7 242.4,478.6 243.2,475.9 243.4,475.5 245.2,472.2 245.2,472.1 245.3,471.8 245.4,471.7 245.7,471.1 247,469.2 247.7,468.6 248.5,468.4 249.4,468.6 249.5,468.6 249.9,468.7 250.2,468.7 250.4,468.7 251.2,468.5 252,468.7 252.7,469.3 253.7,470.6 254.1,471.2 254.6,472.5 254.7,472.7 255.2,473.5 255.4,473.7 256,474.2 256.5,474.8 257.7,476.9 257.8,477 258,477.3 258.3,477.5 258.4,477.6 258.7,477.7 258.9,477.7 259.2,477.7 259.6,477.6 259.8,477.6 260.1,477.4 260.7,477.4 261.4,477.6 261.5,477.6 261.8,477.7 261.9,477.7 262.3,477.7 262.8,477.6 263,477.5 263.3,477.4 264,477.5 264.1,477.5 264.2,477.6 264.7,477.7 265.1,477.8 265.2,477.7 265.5,477.6 265.9,477.5 266,477.4 266.2,477.3 267.3,476.9 267.9,476.8 268,476.8 268.4,476.7 268.7,476.6 268.8,476.5 269,476.3 269.2,476.1 269.4,475.9 270,475.3 270.3,475.1 271,474.8 271.7,474.8 271.7,474.8 271.8,474.8 272.2,474.7 272.5,474.6 272.7,474.6 273,474.3 273.2,474 273.3,473.9 273.4,473.7 273.8,473.2 274.4,472.9 274.5,472.9 275.4,472.7 276,472.7 276.4,472.7 276.6,472.6 276.9,472.4 277.2,472 277.4,471.8 277.5,471.6 278,471.1 278.6,470.8 279.3,470.7 280,470.7 280.3,470.7 280.5,470.7 280.8,470.5 281.3,470 281.3,470 281.4,470 281.7,469.7 282.3,469.5 282.9,469.5 283.6,469.7 283.8,469.7 283.9,469.7 284.3,469.7 284.7,469.6 284.9,469.5 286.4,468.8 286.5,468.7 286.9,468.4 287.1,468.2 287.2,468 287.3,467.7 287.4,467.4 287.6,466.7 288.1,466.2 288.6,465.7 288.8,465.5 289.3,464.8 289.4,464.6 289.6,464.4 290.6,462.6 291.2,462 292.1,461.7 292.1,461.7 292.4,461.5 292.5,461.4 292.8,461.1 293,460.7 293.1,460.5 293.9,458 293.9,458 295.5,453.3 296.3,452.2 296.3,452.2 296.4,452.1 296.6,451.7 296.6,451.5 298.3,445.4 298.4,445.1 300,441.1 300,441.1 300,441.1 300,441.1 300.4,440 300.5,439.7 302.2,436.7 302.9,435.9 303,435.9 303.4,435.3 303.5,435.2 304.5,433.5 304.9,433 306.5,431.6 306.6,431.5 306.8,431.2 307,430.9 307.1,430.6 307.1,430.5 307.1,430.4 307.2,430.2 309.3,423.5 309.4,423.2 309.8,422.3 310.2,421.7 310.8,421.3 311.4,421.2 312.1,421.3 312.7,421.7 313.1,422.2 313.2,423 313.6,429.5 313.6,429.7 313.6,429.8 313.8,430.2 314.1,430.4 314.4,430.5 314.6,430.6 314.8,430.6 318.5,430.6 319.3,430.8 319.9,431.1 320.2,431.7 320.4,432.5 320.4,440.6 320.2,441.5 319.6,442.3 319.2,442.6 318.9,442.8 318.8,442.9 318.7,443.3 318.6,443.7 318.6,443.9 318.6,459.1 318.6,459.3 318.7,459.7 318.8,460 318.9,460.2 319.1,460.4 319.2,460.5 319.5,460.7 319.7,460.7 320,460.7 320.2,460.7 320.5,460.6 320.9,460.5 321,460.4 321.5,460.1 322.2,459.7 322.9,459.7 323.6,460 323.9,460.2 324,460.3 324.3,460.6 324.7,460.7 324.8,460.7 325.2,460.7 325.6,460.6 325.8,460.6 326.9,460.1 327.2,460 327.3,460 328.1,460 328.9,460.3 329.4,460.6 329.7,460.7 329.9,460.7 330.3,460.7 330.5,460.6 330.8,460.4 331.1,460.2 331.9,459.7 332.7,459.7 333.6,460.1 334,460.4 334.1,460.5 334.5,460.6 334.8,460.7 334.9,460.7 335.3,460.7 335.4,460.7 335.7,460.5 336.1,460.3 336.7,460 337.3,459.9 337.5,459.9 337.5,459.9 337.6,459.9 338.4,460 339.1,460.5 339.3,460.5 339.5,460.6 339.9,460.7 340,460.7 340.4,460.7 340.6,460.6 340.9,460.4 341.2,460.1 341.3,460 342.7,457.9 343.4,457.3 343.8,457 344,456.9 344.3,456.6 344.5,456.3 344.7,455.9 344.7,455.7 345.6,451.3 345.6,451.2 347.3,443 347.6,442.4 348,441.9 348.7,441.6 348.8,441.5 349.1,441.5 349.4,441.4 350.2,441.4 350.9,441.8 351,441.8 351.3,442 351.7,442.1 351.9,442.1 352.3,442.1 352.8,442.3 353.4,442.7 353.7,443.1 353.8,443.3 354.4,444.1 356,448.4 356.1,448.7 356.9,452.5 356.9,452.6 357,453 357.1,453.1 358.2,455.6 358.3,455.9 360.3,462.5 360.4,462.7 360.5,463.1 360.8,463.4 360.9,463.5 361.2,463.6 361.3,463.7 361.7,463.7 361.8,463.7 362.2,463.7 362.6,463.5 362.8,463.4 362.9,463.3 363.5,463.1 363.8,463.1 364.3,463 364.9,463.1 365.5,463.3 366,463.6 366,463.6 366.2,463.7 367.4,464.4 367.7,464.7 368.1,465.2 368.3,465.8 369.2,470.4 369.2,470.5 370.6,479.1 370.6,479.2 370.7,479.6 370.9,479.9 371.1,480.2 371.2,480.3 371.4,480.5 371.9,481 373.5,483.9 373.7,484.5 373.8,484.7 373.9,484.9 374.1,485.1 374.2,485.2 374.6,485.4 374.7,485.4 375,485.4 375.2,485.4 375.5,485.3 375.7,485.3 375.9,485.1 376.2,484.8 376.3,484.6 378.2,481.6 378.4,481.3 379.2,480.5 380.1,479.8 380.8,479.5 380.9,479.5 381.8,478.9 382.5,478.6 384,478.3 384.1,478.3 384.2,478.3 385,478.2 385.8,478.4 386.1,478.6 386.4,478.7 386.6,478.7 386.9,478.7 387.1,478.7 387.4,478.5 387.5,478.5 387.8,478.2 387.9,478.1 388,477.7 388.1,477.3 388.1,477.1 388.1,459.8 388.1,459.7 388,459.3 387.9,459 387.8,458.9 387.6,458.6 387.5,458.5 387.2,458.3 387.1,458.3 386.7,458.2 386.3,458.3 386.2,458.3 385.9,458.3 385.8,458.4 385.4,458.5 385.3,458.5 384.2,459 382.9,459.2 381.9,459.1 381.8,459.1 381.5,459.1 381.4,459.1 380.1,459.2 380,459.2 379.6,459.3 379.4,459.4 379.1,459.6 379,459.6 378.4,460 376.8,460.5 376.7,460.6 376.6,460.6 375.7,460.7 375,460.4 374.4,459.7 374.2,459.4 374,459 373.4,457.5 373.3,457.2 372.7,456.5 372.6,456.3 371.5,455.4 371.5,455.4 370.6,454.7 370.5,454.6 370,454.4 369.7,454.3 369.7,454.3 368.8,454.2 368.1,453.7 367.9,453.5 367.7,453.4 367.4,453.1 367,453 366.9,453 366.5,453 366.3,453 365.6,453 364.9,452.8 364.6,452.7 364.3,452.6 363.9,452.5 363.2,452.2 362.7,451.7 362.6,451.5 362.4,451.4 360.7,449.8 360.5,449.6 359.9,448.9 359.4,448.1 358.8,446.3 358.7,446.2 356.6,439 356.6,438.6 356.4,437.8 356.4,437.5 356,436.7 355.9,436.5 354.2,434.2 354.1,434 353,432 352.9,431.9 352.7,431.7 352.7,431.6 352,430.7 351.9,430.6 349.9,427.9 349.7,427.6 348.1,424.7 347.9,424.5 347.7,424.2 347.3,423.9 347.2,423.9 346.8,423.8 346.7,423.8 346.3,423.8 346.1,423.9 345.8,424.1 345.7,424.2 345.5,424.6 345.3,425 345.3,425.2 345.2,425.9 344.7,426.9 343.2,428.9 343,429.2 342.6,429.6 342.4,429.9 341.9,430.8 341.9,431 340.6,437.7 340.6,437.8 338.8,444.6 338.6,445.2 338.2,445.6 337.6,446.1 337,446.5 336.3,446.6 335.6,446.4 335.5,446.3 335.1,446.3 334.7,446.2 334.6,446.2 334.1,446.3 333.5,446.3 332.9,446.1 332,445.7 331.6,445.4 331.1,445 331,444.9 330.5,444.7 330.2,444.6 330,444.6 329.6,444.6 329.1,444.8 328.3,445 327.6,444.8 326.9,444.3 326.2,443.6 326.1,443.4 325.7,443.2 325.4,443 325.1,442.9 324.9,442.9 324.2,442.9 323.6,442.5 323.1,441.9 322.9,441.1 322.9,440.1 322.9,440.1 322.9,440 322.9,440 322.3,428.1 322.3,428.1 322.3,428.1 322.3,428.1 321.6,418.4 321.6,418.3 321.6,418.1 321.6,418 320.2,412.4 320.1,412.2 320,412 319.7,411.7 319.3,411.5 319.1,411.4 318.9,411.4 314.3,411.4 314.1,411.4 313.9,411.5 313.6,411.6 313.3,411.9 313.2,412.2 313.1,412.4 313.1,412.6 313.1,413.9 312.9,414.8 312.5,415.4 311.8,415.7 311,415.8 310.2,415.5 310.2,415.4 309.8,415.3 309.6,415.3 309.3,415.3 309.1,415.3 308.8,415.5 308.4,415.7 308.3,415.8 307.6,416.3 306.9,416.5 306,416.3 305.9,416.3 305.7,416.3 305.3,416.3 305.2,416.4 304.9,416.5 304.6,416.8 304.5,416.9 302.6,419.2 302.5,419.3 301.4,420.4 301.3,420.6 300.9,421.2 300.8,421.4 300.4,422.6 299.8,423.5 299.2,424.1 298.3,424.6 298.2,424.7 297.9,424.9 297.8,425 297.5,425.3 297.3,425.7 297.3,425.9 295.6,433.4 295.6,433.5 293.9,440.7 293.8,440.7 293.8,440.9 293.8,441 293.5,443.2 293.3,443.8 291.3,448.5 291.3,448.6 291.3,448.6 291.3,448.7 290.6,450.4 290.2,451.2 289.9,451.5 289.1,452 289.1,452.1 288.1,452.2 288,452.2 287.6,452.3 287.3,452.5 287,452.7 286.8,452.8 286.3,453.3 285.7,453.7 285.1,454 285,454.1 283.4,455.3 283.2,455.4 282.9,455.8 282.8,456.1 282.6,456.5 282.6,456.7 282.5,457.2 282.2,458.1 280.9,460.2 280.1,460.9 279.6,461.2 279.4,461.4 278.8,461.9 278.7,462.1 278.4,462.4 278.2,462.8 276.5,464.5 276.1,464.8 275.4,465.3 275.3,465.4 274.8,465.8 274.7,466 274.5,466.3 274.1,466.7 273.5,467 272.4,467.3 272.4,467.4 272.1,467.5 272.1,467.5 271.4,467.8 271.4,467.8 271.2,467.9 271.2,468 270.6,468.3 269.7,468.6 268.8,468.5 268.4,468.3 268.1,468.3 268,468.3 267.6,468.3 267.5,468.4 267.2,468.5 266.9,468.8 266.7,468.9 266.3,469.5 265.6,470.1 264.7,470.2 264.7,470.2 264.3,470.2 264.1,470.2 263.2,469.9 262.7,469.5 262.4,469.3 262,469.2 261.4,469 260.9,468.6 260.6,467.9 260.4,467.4 260.3,467.3 260,466.6 259.9,466.5 258.6,464.9 258.5,464.7 257.3,463 257.2,462.9 256.9,462.6 256.6,462.4 256.3,462.3 256.1,462.2 255.7,462.1 255,461.8 254.5,461.3 254.1,460.9 254.1,460.8 253.8,460.5 253.6,460.4 253.3,460.3 253.1,460.3 252.8,460.3 252.6,460.3 252.3,460.5 251.9,460.7 251.8,460.9 250.6,462.2 249.5,462.9 249.3,462.9 249.1,463 248,463.6 247.9,463.6 246.5,464.3 246.5,464.3 245.8,464.6 244.9,464.5 244,464.2 243.8,464.2 243.7,464.2 242.9,463.9 242.3,463.5 242.2,463.4 241.9,463.1 241.6,462.9 241.5,462.8 241.2,462.8 240.9,462.7 240.7,462.7 239.9,462.8 239.7,462.8 238.4,462.7 237.2,462.3 236.3,461.7 236.2,461.7 236,461.5 235.9,461.5 235.9,461.5 235.7,461.4 235.3,461.3 234.9,461.3 234.4,461.3 234.3,461.3 233.7,461.3 232.9,461.1 232.6,460.9 232.3,460.8 232.1,460.8 231.8,460.8 231.7,460.8 231.3,460.9 231.2,461 231,461.2 230.7,461.6 230.6,461.7 230.2,462.7 229.4,463.6 228.4,464.3 228.3,464.4 228,464.8 227.8,465.1 227.6,465.5 227.6,465.7 227.5,466.4 227.2,467.2 226.5,468.4 226,469.1 225.3,469.4 224.6,469.4 223.8,469 223.7,469 223.4,468.8 223.2,468.8 222.9,468.8 222.7,468.8 222.4,468.9 222,469.1 221.8,469.3 221.3,469.7 221.3,469.8 221.1,470 221,470.1 220.6,470.6 220.2,471 219.6,471.3 219.5,471.4 219.2,471.6 218.8,471.9 218.7,472 216.9,474.5 216.4,475 215.9,475.2 215.2,475.3 214.4,475.2 214.2,475.2 213.8,475.3 213.1,475.3 212.5,475 211.9,474.6 211.7,474.5 211.6,474.4 211.3,474.3 211.1,474.3 210.8,474.3 210.4,474.3 210.3,474.4 210.2,474.4 209.3,474.6 208.4,474.3 208.3,474.3 208.1,474.3 208,474.3 208,474.3 207,474.2 206.3,473.9 205.7,473.5 205.4,473.3 204.9,473.2 204.2,472.9 203.8,472.4 203.5,471.7 203.4,471.6 203.4,471.4 203.2,471 203,470.7 202.9,470.6 202.6,470.4 202.4,470.3 202.1,470.3 201.8,470.3 201.6,470.3 201,470.4 200.3,470.3 200,470.1 199.8,470 199.1,469.7 199.1,469.6 198.2,469.2 197.1,468.2 197,468.1 196.6,467.9 196.3,467.8 196.2,467.8 195.8,467.8 195.7,467.8 195.4,467.9 195.2,468 195,468.2 194.6,468.7 194.6,468.7 194.5,468.8 194.5,468.9 192.8,470.8 192.2,471.3 191.6,471.5 190.8,471.4 190.3,471.3 189.9,471.3 189.7,471.3 189.4,471.4 189.2,471.5 188.9,471.8 188.7,472.2 188.6,472.3 188.5,472.5 187.7,473.5 187.7,473.5 187.4,473.8 187.2,474.1 187.1,474.2 185.8,477 185.7,477.2 185.4,477.7 185.3,477.8 185.1,478.4 185.1,478.5 184.8,479.1 184.2,479.5 183.6,479.8 182.9,479.7 182.2,479.4 181.8,478.9 181.5,478.2 181.4,477.6 181.4,477.4 181.2,477.1 181.1,476.8 181,476.7 180.7,476.5 180.6,476.4 180.3,476.3 179.9,476.2 179.8,476.2 179.4,476.2 178.7,476.1 178.2,475.7 178.1,475.7 177.9,475.6 177.6,475.4 177.2,475.3 176.6,475.2 176.5,475.2 176.2,475.2 175.3,474.9 175.1,474.7 174.9,474.6 174.4,474.4 174,474.3 173.6,474.3 173.3,474.4 173.2,474.4 172.3,474.6 171.7,474.4 171.5,474.3 171.1,474.3 170.8,474.3 170.6,474.3 170.3,474.4 170,474.7 169.8,474.8 169.1,475.5 168.1,476.1 167.8,476.2 167.7,476.2 167.4,476.4 166.6,476.6 165.9,476.5 165.1,476.2 164.9,476.2 164.5,476.1 163.7,475.8 163.1,475.2 162.3,474 162.2,473.9 161.9,473.6 161.6,473.4 161.5,473.3 161.2,473.3 161,473.3 160.7,473.3 160.5,473.3 160.2,473.5 160.1,473.6 159.9,473.8 159.7,474.2 159.6,474.3 159.4,474.9 159.3,475.2 159,475.7 158.5,476.3 157.8,476.7 157.1,476.7 156.4,476.5 155.8,475.9 155.4,475.2 155.1,474.8 154.8,474.1 154.8,474.1 154.7,473.9 154.7,473.9 153.1,470.7 153,470.6 152.4,469.3 152.3,469.1 152,468.7 151.6,468.4 151.2,468.2 151,468.2 150.5,468.1 149.8,467.8 148.5,467.1 148.3,466.9 148.2,466.8 147.7,466.5 147.4,466.3 147.3,466.3 147,466.2 146.5,466.3 146.3,466.3 146,466.4 145.3,466.3 145,466.1 144.9,466 144.4,465.8 144.1,465.8 143.9,465.8 143.6,465.8 143.4,465.9 143.1,466.1 142.8,466.4 142.6,466.5 142.1,466.9 141.2,467.2 141.2,467.2 141,467.2 140.6,467.3 140.3,467.5 140.1,467.6 139.9,467.9 139.6,468.4 139.3,468.8 138.5,469.7 137.7,470.3 137.2,470.5 137,470.6 136.6,470.9 135.3,471.2 135.2,471.2 135.1,471.2 134.9,471.2 134.1,471.2 133.4,470.9 133,470.6 132.8,470.4 130.9,468.7 130.7,468.5 130.2,467.9 130.1,467.8 129.9,467.5 129.6,467.4 129.3,467.3 129.2,467.2 128.1,466.9 128,466.8 126.7,466.4 126.5,466.3 125.6,466.2ZM383.9,449.1 383.9,449.3 384,449.5 384.1,449.8 384.4,450.1 384.7,450.2 384.8,450.3 385.2,450.3 385.3,450.2 385.6,450.1 385.9,449.8 386,449.5 386.1,449.3 386.1,449.1 386.1,440.6 386.1,440.4 386,440.2 385.9,439.9 385.6,439.6 385.3,439.5 385.2,439.4 384.8,439.4 384.7,439.5 384.4,439.6 384.1,439.9 384,440.2 383.9,440.4 383.9,440.6ZM307.1,402 307.1,402.1 307.1,402.3 307.3,402.6 307.4,402.8 307.4,402.9 309.9,406 310.1,406.2 310.3,406.3 310.6,406.5 310.9,406.6 311.1,406.6 313.1,406.6 313.3,406.6 313.5,406.5 313.8,406.4 314.1,406.1 314.2,405.8 314.3,405.6 314.3,405.4 314.3,398.1 314.3,398.1 314.3,398 314.3,398 313.6,388.5 313.6,388.4 313.6,388.1 313.5,388 311.6,381 311.5,380.8 311.4,380.6 311.1,380.3 310.7,380.1 310.4,380.1 310.2,380.1 308.2,380.2 308,380.2 307.8,380.3 307.5,380.4 307.3,380.7 307.2,381 307.1,381.2 307.1,381.4Z" fill="#000" fill-rule="evenodd"/>
<g fill="#000"><circle cx="929.5" cy="104.7" r="2.8"/><circle cx="932.5" cy="103.5" r="2.7"/><circle cx="936.4" cy="104.8" r="2.8"/><circle cx="936.7" cy="101.1" r="2.9"/><circle cx="936.8" cy="97.7" r="2.6"/><circle cx="937.3" cy="93.8" r="2.5"/><circle cx="937.2" cy="90" r="2.9"/><circle cx="936.8" cy="86.4" r="2.7"/><circle cx="936.9" cy="82.9" r="2.6"/><circle cx="937.5" cy="78.7" r="2.6"/><circle cx="938.3" cy="75.7" r="2.9"/><circle cx="939.4" cy="71.9" r="2.8"/><circle cx="938.9" cy="68.3" r="2.5"/><circle cx="938.2" cy="64.8" r="2.6"/><circle cx="936.1" cy="62.1" r="2.6"/><circle cx="933.5" cy="58.7" r="2.7"/><circle cx="932.8" cy="55.2" r="2.7"/><circle cx="931.7" cy="57.8" r="2.6"/><circle cx="931" cy="61.3" r="2.8"/><circle cx="929.6" cy="65" r="2.6"/><circle cx="928.9" cy="68.5" r="2.8"/><circle cx="928" cy="72.2" r="2.6"/><circle cx="928.3" cy="75.8" r="2.5"/><circle cx="928.8" cy="79.5" r="2.8"/><circle cx="929.5" cy="83" r="2.6"/><circle cx="929" cy="86.7" r="2.5"/><circle cx="928.6" cy="90.3" r="2.7"/><circle cx="928.3" cy="94" r="2.9"/><circle cx="928.2" cy="97.5" r="2.5"/><circle cx="928.2" cy="101" r="2.6"/><circle cx="920.5" cy="195.4" r="2.6"/><circle cx="920.4" cy="198.5" r="2.6"/><circle cx="920.1" cy="202.3" r="2.5"/><circle cx="921.4" cy="202.3" r="2.8"/><circle cx="922.8" cy="199.1" r="2.5"/><circle cx="923.5" cy="195" r="2.6"/><circle cx="925.1" cy="191.8" r="2.5"/><circle cx="926" cy="188.2" r="2.6"/><circle cx="927" cy="184.9" r="2.7"/><circle cx="926" cy="181.3" r="2.6"/><circle cx="923.8" cy="180.7" r="2.6"/><circle cx="922.9" cy="184.5" r="2.8"/><circle cx="922.2" cy="188.1" r="2.9"/><circle cx="921.3" cy="191.8" r="2.8"/><circle cx="913" cy="274.7" r="2.8"/><circle cx="913.1" cy="278.5" r="2.8"/><circle cx="913.5" cy="282" r="2.6"/><circle cx="913.3" cy="285.7" r="2.5"/><circle cx="913.7" cy="289.1" r="2.5"/><circle cx="914.1" cy="292.8" r="2.7"/><circle cx="914.5" cy="296.4" r="2.8"/><circle cx="916.8" cy="294.7" r="2.8"/><circle cx="917.1" cy="291.2" r="2.5"/><circle cx="917.4" cy="287.3" r="2.7"/><circle cx="917.1" cy="283.5" r="2.8"/><circle cx="917.4" cy="279.6" r="2.5"/><circle cx="917.5" cy="276.1" r="2.6"/><circle cx="917" cy="272.6" r="2.8"/><circle cx="916.8" cy="269.1" r="2.5"/><circle cx="917.4" cy="265.6" r="2.6"/><circle cx="914.3" cy="264" r="2.8"/><circle cx="913.8" cy="267.7" r="2.7"/><circle cx="913.8" cy="271.4" r="2.8"/><circle cx="879.2" cy="254.5" r="2.5"/><circle cx="881.3" cy="251.9" r="2.5"/><circle cx="882.7" cy="248.7" r="2.8"/><circle cx="884.2" cy="245.4" r="2.8"/><circle cx="886.4" cy="242.3" r="2.7"/><circle cx="888" cy="239.3" r="2.9"/><circle cx="889.9" cy="235.9" r="2.6"/><circle cx="891.3" cy="232.8" r="2.6"/><circle cx="892" cy="228.6" r="2.5"/><circle cx="892.8" cy="225.5" r="2.9"/><circle cx="893.3" cy="221.7" r="2.8"/><circle cx="894.2" cy="218" r="2.6"/><circle cx="897.6" cy="218" r="2.7"/><circle cx="899.7" cy="220.7" r="2.8"/><circle cx="901.7" cy="223.6" r="2.7"/><circle cx="902.5" cy="227.3" r="2.7"/><circle cx="903.2" cy="230.5" r="2.6"/><circle cx="903.6" cy="234.2" r="2.6"/><circle cx="904.3" cy="237.9" r="2.8"/><circle cx="906.6" cy="239.8" r="2.6"/><circle cx="909.3" cy="237.4" r="2.7"/><circle cx="911" cy="234.5" r="2.5"/><circle cx="912.4" cy="230.9" r="2.6"/><circle cx="911.3" cy="227.9" r="2.8"/><circle cx="909.7" cy="224.4" r="2.6"/><circle cx="907.1" cy="221.9" r="2.8"/><circle cx="905.4" cy="219.3" r="2.6"/><circle cx="903.5" cy="215.5" r="2.6"/><circle cx="902.5" cy="212.3" r="2.7"/><circle cx="901.6" cy="208.5" r="2.5"/><circle cx="901.3" cy="205.1" r="2.6"/><circle cx="901.1" cy="201.6" r="2.7"/><circle cx="899.8" cy="198.3" r="2.7"/><circle cx="899.2" cy="194.8" r="2.8"/><circle cx="896.9" cy="191.2" r="2.8"/><circle cx="896" cy="188.2" r="2.9"/><circle cx="895.3" cy="184.3" r="2.6"/><circle cx="895.2" cy="180.8" r="2.6"/><circle cx="893.7" cy="182.7" r="2.7"/><circle cx="893.5" cy="186.1" r="2.8"/><circle cx="893.1" cy="190.1" r="2.7"/><circle cx="892.7" cy="193.8" r="2.7"/><circle cx="893.4" cy="197.2" r="2.9"/><circle cx="893.9" cy="200.9" r="2.7"/><circle cx="894.9" cy="204.2" r="2.6"/><circle cx="895.2" cy="208.3" r="2.5"/><circle cx="896.5" cy="211.6" r="2.7"/><circle cx="895.7" cy="215.5" r="2.7"/><circle cx="892.6" cy="215.8" r="2.8"/><circle cx="890.5" cy="212.9" r="2.8"/><circle cx="888.3" cy="210.6" r="2.7"/><circle cx="885.1" cy="209" r="2.6"/><circle cx="881.9" cy="210.2" r="2.7"/><circle cx="881.6" cy="214.3" r="2.8"/><circle cx="882.2" cy="217.9" r="2.7"/><circle cx="881.4" cy="221.7" r="2.9"/><circle cx="880.7" cy="225.2" r="2.6"/><circle cx="880.9" cy="229" r="2.7"/><circle cx="880.6" cy="232.1" r="2.7"/><circle cx="880.2" cy="236.1" r="2.6"/><circle cx="879.6" cy="239.6" r="2.6"/><circle cx="879.1" cy="243.6" r="2.7"/><circle cx="878.6" cy="246.6" r="2.9"/><circle cx="879.2" cy="250.2" r="2.7"/><circle cx="861.2" cy="296.8" r="2.7"/><circle cx="865.4" cy="296.5" r="2.5"/><circle cx="868.7" cy="296.4" r="2.7"/><circle cx="871.1" cy="294" r="2.8"/><circle cx="871.6" cy="290.6" r="2.8"/><circle cx="872.3" cy="287.2" r="2.6"/><circle cx="873.3" cy="283" r="2.8"/><circle cx="873.7" cy="279.8" r="2.8"/><circle cx="874.7" cy="276.3" r="2.8"/><circle cx="875.6" cy="272.9" r="2.9"/><circle cx="875.6" cy="268.7" r="2.6"/><circle cx="875.3" cy="265" r="2.5"/><circle cx="875" cy="261.9" r="2.8"/><circle cx="871.4" cy="261" r="2.7"/><circle cx="867.2" cy="260.4" r="2.7"/><circle cx="865.1" cy="263.4" r="2.8"/><circle cx="863.8" cy="266.5" r="2.8"/><circle cx="863.2" cy="270.3" r="2.8"/><circle cx="862.3" cy="274" r="2.5"/><circle cx="861.5" cy="277.8" r="2.9"/><circle cx="861.5" cy="281.8" r="2.5"/><circle cx="861.1" cy="285.7" r="2.8"/><circle cx="860.9" cy="288.8" r="2.6"/><circle cx="860.5" cy="292.6" r="2.7"/><circle cx="777.2" cy="346.9" r="2.9"/><circle cx="775.6" cy="350.3" r="2.7"/><circle cx="774.6" cy="353.7" r="2.7"/><circle cx="773.3" cy="356.9" r="2.7"/><circle cx="771.9" cy="360.6" r="2.7"/><circle cx="771.5" cy="364.4" r="2.8"/><circle cx="770.8" cy="367.7" r="2.5"/><circle cx="772.5" cy="370.8" r="2.8"/><circle cx="774.9" cy="373.4" r="2.9"/><circle cx="777.6" cy="373.8" r="2.6"/><circle cx="781.2" cy="372.9" r="2.8"/><circle cx="785.3" cy="372.4" r="2.9"/><circle cx="788" cy="374.7" r="2.6"/><circle cx="789.7" cy="377.9" r="2.6"/><circle cx="791.2" cy="380.9" r="2.8"/><circle cx="792.5" cy="384.5" r="2.7"/><circle cx="793.8" cy="387.5" r="2.5"/><circle cx="796.4" cy="390" r="2.6"/><circle cx="796.6" cy="393.6" r="2.8"/><circle cx="795.1" cy="397.1" r="2.6"/><circle cx="794.9" cy="400.6" r="2.9"/><circle cx="795.1" cy="403.7" r="2.6"/><circle cx="798.5" cy="404.8" r="2.8"/><circle cx="802.4" cy="404.3" r="2.6"/><circle cx="805.2" cy="403.5" r="2.9"/><circle cx="808.9" cy="404.7" r="2.5"/><circle cx="812" cy="403.1" r="2.8"/><circle cx="814.1" cy="400.7" r="2.7"/><circle cx="816.2" cy="397.4" r="2.6"/><circle cx="819.5" cy="396.2" r="2.7"/><circle cx="822.6" cy="395.6" r="2.8"/><circle cx="824.5" cy="393.3" r="2.7"/><circle cx="827.7" cy="394.5" r="2.5"/><circle cx="830.3" cy="396.2" r="2.7"/><circle cx="832.6" cy="393.4" r="2.6"/><circle cx="835.2" cy="394.6" r="2.8"/><circle cx="836.6" cy="398.4" r="2.7"/><circle cx="840" cy="399.5" r="2.9"/><circle cx="842.8" cy="399.5" r="2.6"/><circle cx="845.3" cy="397" r="2.5"/><circle cx="847.4" cy="394.2" r="2.5"/><circle cx="848.3" cy="390.8" r="2.9"/><circle cx="849.8" cy="386.8" r="2.9"/><circle cx="850.2" cy="383.8" r="2.7"/><circle cx="852.8" cy="381.8" r="2.7"/><circle cx="855.3" cy="379.1" r="2.8"/><circle cx="858.1" cy="376.5" r="2.7"/><circle cx="859.3" cy="373.3" r="2.6"/><circle cx="860" cy="371.1" r="2.7"/><circle cx="857.1" cy="368.6" r="2.8"/><circle cx="854.4" cy="365.9" r="2.5"/><circle cx="851.3" cy="365.2" r="2.7"/><circle cx="850.3" cy="367.9" r="2.8"/><circle cx="849.4" cy="371.5" r="2.7"/><circle cx="848.5" cy="374.4" r="2.7"/><circle cx="846.8" cy="378.7" r="2.6"/><circle cx="845.5" cy="381.6" r="2.8"/><circle cx="844.6" cy="384.8" r="2.9"/><circle cx="842.7" cy="388.4" r="2.9"/><circle cx="839.1" cy="388" r="2.7"/><circle cx="836.9" cy="385.4" r="2.6"/><circle cx="834.2" cy="382.6" r="2.7"/><circle cx="831.9" cy="381.4" r="2.8"/><circle cx="828.9" cy="379.5" r="2.8"/><circle cx="825.1" cy="379.2" r="2.8"/><circle cx="822.9" cy="376.5" r="2.8"/><circle cx="821.5" cy="374.9" r="2.7"/><circle cx="819.5" cy="378" r="2.8"/><circle cx="817.2" cy="380.9" r="2.6"/><circle cx="815" cy="383.5" r="2.6"/><circle cx="811.9" cy="383.3" r="2.8"/><circle cx="809.6" cy="380.4" r="2.5"/><circle cx="808.6" cy="376.6" r="2.8"/><circle cx="805.8" cy="375.1" r="2.7"/><circle cx="803.7" cy="373.8" r="2.9"/><circle cx="802.4" cy="377.4" r="2.6"/><circle cx="799.9" cy="380.1" r="2.8"/><circle cx="797.2" cy="380.6" r="2.7"/><circle cx="793.6" cy="379.1" r="2.9"/><circle cx="793" cy="376.4" r="2.9"/><circle cx="792.2" cy="372.3" r="2.6"/><circle cx="790.9" cy="369.1" r="2.6"/><circle cx="790.9" cy="365.4" r="2.7"/><circle cx="790.9" cy="361.6" r="2.5"/><circle cx="787.3" cy="361.1" r="2.8"/><circle cx="783.8" cy="359.6" r="2.9"/><circle cx="781.5" cy="356.2" r="2.9"/><circle cx="779.6" cy="354" r="2.7"/><circle cx="778.4" cy="350.8" r="2.8"/><circle cx="726.7" cy="375.5" r="2.6"/><circle cx="726.4" cy="379.1" r="2.7"/><circle cx="725.6" cy="382.6" r="2.8"/><circle cx="726.1" cy="386.1" r="2.8"/><circle cx="726" cy="390.2" r="2.7"/><circle cx="726.2" cy="393.2" r="2.7"/><circle cx="727.8" cy="396.3" r="2.5"/><circle cx="729.9" cy="399.4" r="2.8"/><circle cx="732.6" cy="401.7" r="2.8"/><circle cx="735" cy="404.9" r="2.8"/><circle cx="736.7" cy="407.6" r="2.6"/><circle cx="738.3" cy="411.1" r="2.8"/><circle cx="739.3" cy="414.4" r="2.8"/><circle cx="742.7" cy="413.6" r="2.6"/><circle cx="743.6" cy="409.9" r="2.6"/><circle cx="744.8" cy="406.2" r="2.6"/><circle cx="745" cy="402.6" r="2.6"/><circle cx="746.8" cy="400.3" r="2.5"/><circle cx="751.1" cy="399.4" r="2.7"/><circle cx="754.2" cy="400.8" r="2.6"/><circle cx="755.6" cy="404.3" r="2.7"/><circle cx="756.8" cy="407.3" r="2.7"/><circle cx="759.3" cy="406.5" r="2.5"/><circle cx="761.2" cy="403.4" r="2.6"/><circle cx="763.6" cy="400.6" r="2.8"/><circle cx="766.5" cy="397.3" r="2.8"/><circle cx="768.4" cy="394.6" r="2.7"/><circle cx="768.7" cy="391" r="2.7"/><circle cx="769.3" cy="387.6" r="2.7"/><circle cx="768.5" cy="383.6" r="2.8"/><circle cx="767.2" cy="380.7" r="2.5"/><circle cx="765.2" cy="378.7" r="2.6"/><circle cx="761.5" cy="377.8" r="2.8"/><circle cx="759.3" cy="375.6" r="2.7"/><circle cx="757.9" cy="371.6" r="2.7"/><circle cx="755.4" cy="369.6" r="2.7"/><circle cx="751.7" cy="370.4" r="2.7"/><circle cx="750" cy="373.5" r="2.6"/><circle cx="748.1" cy="376.4" r="2.6"/><circle cx="747.1" cy="379.8" r="2.6"/><circle cx="747.1" cy="383.8" r="2.7"/><circle cx="746.1" cy="386.9" r="2.6"/><circle cx="745.9" cy="390.4" r="2.5"/><circle cx="745" cy="394.2" r="2.6"/><circle cx="743" cy="397" r="2.7"/><circle cx="740.2" cy="399.2" r="2.5"/><circle cx="736.4" cy="398.9" r="2.5"/><circle cx="732.9" cy="398.9" r="2.8"/><circle cx="730.7" cy="395.8" r="2.5"/><circle cx="730.4" cy="392.1" r="2.7"/><circle cx="730.6" cy="388.3" r="2.5"/><circle cx="730.1" cy="385.3" r="2.6"/><circle cx="729.7" cy="381.8" r="2.8"/><circle cx="728.7" cy="378" r="2.8"/><circle cx="683.1" cy="353.8" r="2.6"/><circle cx="685.2" cy="357.2" r="2.7"/><circle cx="686.6" cy="359.8" r="2.7"/><circle cx="688.3" cy="363.1" r="2.8"/><circle cx="689.4" cy="367.1" r="2.8"/><circle cx="690.8" cy="370" r="2.5"/><circle cx="691.3" cy="373.6" r="2.5"/><circle cx="692.5" cy="377.1" r="2.7"/><circle cx="693.5" cy="380.8" r="2.9"/><circle cx="694.6" cy="384.3" r="2.9"/><circle cx="696.1" cy="387.6" r="2.8"/><circle cx="698.1" cy="388" r="2.6"/><circle cx="699.2" cy="385.1" r="2.7"/><circle cx="699.6" cy="381.6" r="2.7"/><circle cx="700" cy="377.9" r="2.6"/><circle cx="703.1" cy="375.6" r="2.5"/><circle cx="706.4" cy="374.8" r="2.8"/><circle cx="708.4" cy="377.6" r="2.7"/><circle cx="710.5" cy="380.6" r="2.8"/><circle cx="712.4" cy="383.3" r="2.7"/><circle cx="713.2" cy="387.1" r="2.6"/><circle cx="714.7" cy="390.5" r="2.9"/><circle cx="716.1" cy="393.7" r="2.7"/><circle cx="716.7" cy="397.6" r="2.9"/><circle cx="717.1" cy="400.9" r="2.6"/><circle cx="718.2" cy="404.1" r="2.7"/><circle cx="718.1" cy="407.8" r="2.7"/><circle cx="718.7" cy="411.8" r="2.7"/><circle cx="718.5" cy="415.2" r="2.6"/><circle cx="719.4" cy="415.3" r="2.5"/><circle cx="720.1" cy="411.4" r="2.6"/><circle cx="720.2" cy="407.4" r="2.7"/><circle cx="720.5" cy="404.4" r="2.7"/><circle cx="719.9" cy="400.3" r="2.8"/><circle cx="719.9" cy="397.1" r="2.6"/><circle cx="719.3" cy="393.1" r="2.8"/><circle cx="718.1" cy="389.8" r="2.9"/><circle cx="716.6" cy="386.4" r="2.8"/><circle cx="715.5" cy="382.9" r="2.7"/><circle cx="714" cy="379.7" r="2.5"/><circle cx="712.4" cy="376.4" r="2.8"/><circle cx="712.8" cy="373.2" r="2.5"/><circle cx="712.6" cy="369" r="2.9"/><circle cx="711.8" cy="365.6" r="2.8"/><circle cx="710.3" cy="362.7" r="2.7"/><circle cx="709.8" cy="358.7" r="2.8"/><circle cx="708.3" cy="355.9" r="2.6"/><circle cx="706.3" cy="353.5" r="2.6"/><circle cx="703" cy="354.4" r="2.9"/><circle cx="700.3" cy="356.8" r="2.8"/><circle cx="697.5" cy="359.7" r="2.7"/><circle cx="694.2" cy="358.9" r="2.7"/><circle cx="692.3" cy="356.6" r="2.7"/><circle cx="690.3" cy="353.1" r="2.7"/><circle cx="688.3" cy="351.1" r="2.5"/><circle cx="688" cy="347.2" r="2.8"/><circle cx="687.5" cy="344.1" r="2.6"/><circle cx="687.8" cy="340.5" r="2.5"/><circle cx="687.3" cy="336.2" r="2.5"/><circle cx="686.2" cy="332.8" r="2.7"/><circle cx="684.9" cy="329.8" r="2.8"/><circle cx="681.1" cy="330.1" r="2.5"/><circle cx="679.7" cy="333.4" r="2.6"/><circle cx="679.1" cy="336.7" r="2.6"/><circle cx="679.2" cy="340" r="2.5"/><circle cx="679" cy="343.9" r="2.9"/><circle cx="679.8" cy="347.3" r="2.6"/><circle cx="681.1" cy="351" r="2.6"/><circle cx="621.4" cy="362.1" r="2.7"/><circle cx="622" cy="366" r="2.6"/><circle cx="622.5" cy="369.5" r="2.6"/><circle cx="622.8" cy="373.5" r="2.8"/><circle cx="623.3" cy="377" r="2.7"/><circle cx="623.5" cy="380.7" r="2.7"/><circle cx="623.4" cy="383.6" r="2.9"/><circle cx="624.3" cy="387.3" r="2.7"/><circle cx="624.6" cy="391.1" r="2.9"/><circle cx="624.8" cy="395.2" r="2.7"/><circle cx="625.4" cy="398.2" r="2.8"/><circle cx="626.2" cy="402" r="2.6"/><circle cx="627" cy="405.3" r="2.6"/><circle cx="628" cy="408.6" r="2.8"/><circle cx="630.6" cy="407" r="2.8"/><circle cx="634.4" cy="407.6" r="2.8"/><circle cx="635.5" cy="404.8" r="2.7"/><circle cx="637" cy="401.5" r="2.6"/><circle cx="638.7" cy="398" r="2.6"/><circle cx="641.5" cy="396" r="2.7"/><circle cx="643.8" cy="393.6" r="2.6"/><circle cx="644.1" cy="389.8" r="2.8"/><circle cx="643.9" cy="386.3" r="2.6"/><circle cx="644.1" cy="382.7" r="2.7"/><circle cx="644.7" cy="378.5" r="2.7"/><circle cx="644.2" cy="375.3" r="2.6"/><circle cx="644.6" cy="371.3" r="2.8"/><circle cx="645.3" cy="368.2" r="2.7"/><circle cx="647.5" cy="365.4" r="2.9"/><circle cx="648.8" cy="362.6" r="2.7"/><circle cx="650" cy="358.7" r="2.6"/><circle cx="651.1" cy="355.5" r="2.8"/><circle cx="652.1" cy="351.5" r="2.6"/><circle cx="653.2" cy="348.2" r="2.5"/><circle cx="653.4" cy="344.7" r="2.8"/><circle cx="654.1" cy="341.6" r="2.9"/><circle cx="657.5" cy="339" r="2.8"/><circle cx="660.6" cy="339.3" r="2.8"/><circle cx="664.2" cy="340.8" r="2.5"/><circle cx="664.7" cy="344.5" r="2.9"/><circle cx="665.2" cy="348.2" r="2.6"/><circle cx="666.2" cy="351.8" r="2.9"/><circle cx="666.8" cy="354.9" r="2.8"/><circle cx="667.3" cy="358.3" r="2.8"/><circle cx="668.9" cy="361.7" r="2.8"/><circle cx="670" cy="365.4" r="2.6"/><circle cx="673.3" cy="367.1" r="2.9"/><circle cx="675.8" cy="364.5" r="2.6"/><circle cx="675.9" cy="361.5" r="2.8"/><circle cx="674.7" cy="358" r="2.9"/><circle cx="673" cy="355.2" r="2.6"/><circle cx="670.7" cy="352" r="2.8"/><circle cx="669.1" cy="348.8" r="2.8"/><circle cx="668.7" cy="345.4" r="2.7"/><circle cx="667.4" cy="341.8" r="2.6"/><circle cx="667.5" cy="338.5" r="2.8"/><circle cx="667.7" cy="335" r="2.7"/><circle cx="666.8" cy="331.2" r="2.8"/><circle cx="665.6" cy="327.6" r="2.8"/><circle cx="663.7" cy="324.2" r="2.8"/><circle cx="663.2" cy="320.7" r="2.6"/><circle cx="661" cy="317.8" r="2.8"/><circle cx="658.1" cy="316.2" r="2.5"/><circle cx="655.5" cy="318.3" r="2.6"/><circle cx="654.3" cy="322.2" r="2.6"/><circle cx="652.8" cy="324.9" r="2.7"/><circle cx="652.2" cy="328.4" r="2.8"/><circle cx="651.6" cy="332.1" r="2.9"/><circle cx="650.7" cy="336" r="2.5"/><circle cx="650" cy="339.8" r="2.7"/><circle cx="649.9" cy="343.3" r="2.9"/><circle cx="647.7" cy="346" r="2.9"/><circle cx="646" cy="349.5" r="2.7"/><circle cx="644.8" cy="352.2" r="2.9"/><circle cx="643.5" cy="355.6" r="2.7"/><circle cx="642.2" cy="359.1" r="2.6"/><circle cx="641.8" cy="363.2" r="2.7"/><circle cx="640.3" cy="366.6" r="2.7"/><circle cx="639" cy="369.8" r="2.8"/><circle cx="638.5" cy="373.1" r="2.6"/><circle cx="637.3" cy="376.8" r="2.7"/><circle cx="635.8" cy="380.3" r="2.8"/><circle cx="634.8" cy="383.9" r="2.7"/><circle cx="634.2" cy="387.1" r="2.6"/><circle cx="633.4" cy="390.5" r="2.6"/><circle cx="632" cy="393.9" r="2.8"/><circle cx="628.5" cy="393.2" r="2.8"/><circle cx="627.7" cy="389.8" r="2.8"/><circle cx="628" cy="386.2" r="2.6"/><circle cx="627.4" cy="382.2" r="2.5"/><circle cx="626.7" cy="379" r="2.8"/><circle cx="625.7" cy="375.1" r="2.9"/><circle cx="625.3" cy="372.2" r="2.9"/><circle cx="623.6" cy="368.3" r="2.8"/><circle cx="623.1" cy="364.9" r="2.5"/><circle cx="589.3" cy="359.8" r="2.5"/><circle cx="589.4" cy="363" r="2.7"/><circle cx="590.1" cy="366.5" r="2.8"/><circle cx="590.7" cy="370.1" r="2.8"/><circle cx="591.9" cy="373.3" r="2.8"/><circle cx="593.8" cy="376.1" r="2.9"/><circle cx="596" cy="379.9" r="2.8"/><circle cx="598.1" cy="382.1" r="2.7"/><circle cx="599.9" cy="385.1" r="2.8"/><circle cx="601.7" cy="388.6" r="2.7"/><circle cx="603.4" cy="389.2" r="2.5"/><circle cx="604" cy="385.9" r="2.5"/><circle cx="604" cy="382.2" r="2.8"/><circle cx="601.8" cy="379.8" r="2.7"/><circle cx="599.3" cy="377.1" r="2.8"/><circle cx="597.8" cy="374.8" r="2.5"/><circle cx="597.2" cy="370.8" r="2.8"/><circle cx="597.7" cy="367.2" r="2.5"/><circle cx="597.4" cy="364" r="2.7"/><circle cx="597.3" cy="360.1" r="2.5"/><circle cx="596.3" cy="356.4" r="2.6"/><circle cx="595.4" cy="353.1" r="2.6"/><circle cx="595" cy="349.2" r="2.8"/><circle cx="593.7" cy="346.4" r="2.8"/><circle cx="591.6" cy="349.2" r="2.9"/><circle cx="591.2" cy="352.3" r="2.8"/><circle cx="590" cy="356" r="2.8"/><circle cx="607" cy="379.3" r="2.7"/><circle cx="610.5" cy="379.3" r="2.8"/><circle cx="612.3" cy="377" r="2.9"/><circle cx="612.9" cy="373.2" r="2.8"/><circle cx="613.1" cy="369.1" r="2.6"/><circle cx="614" cy="365.8" r="2.5"/><circle cx="614.1" cy="362.2" r="2.8"/><circle cx="614.7" cy="359" r="2.6"/><circle cx="614.8" cy="355.4" r="2.8"/><circle cx="615.3" cy="351.2" r="2.7"/><circle cx="616" cy="347.7" r="2.6"/><circle cx="616.3" cy="344.5" r="2.6"/><circle cx="616.8" cy="340.2" r="2.6"/><circle cx="617.5" cy="336.6" r="2.9"/><circle cx="617.9" cy="333.2" r="2.9"/><circle cx="618.3" cy="329.9" r="2.9"/><circle cx="619.5" cy="326.1" r="2.8"/><circle cx="619.4" cy="322.7" r="2.5"/><circle cx="619.5" cy="318.8" r="2.7"/><circle cx="619.7" cy="315.1" r="2.8"/><circle cx="620" cy="311.5" r="2.6"/><circle cx="619.9" cy="308.1" r="2.7"/><circle cx="619.6" cy="304.5" r="2.8"/><circle cx="618.8" cy="305.1" r="2.8"/><circle cx="618.4" cy="308" r="2.6"/><circle cx="618.7" cy="311.8" r="2.9"/><circle cx="618.2" cy="315.5" r="2.6"/><circle cx="618.4" cy="319" r="2.9"/><circle cx="617.9" cy="322.7" r="2.6"/><circle cx="617" cy="326.1" r="2.8"/><circle cx="616.1" cy="330.2" r="2.8"/><circle cx="615.4" cy="333.4" r="2.8"/><circle cx="614.3" cy="336.7" r="2.5"/><circle cx="613.7" cy="340.5" r="2.8"/><circle cx="612.7" cy="344.3" r="2.9"/><circle cx="611.4" cy="347.2" r="2.7"/><circle cx="610.3" cy="351.2" r="2.8"/><circle cx="609" cy="354.1" r="2.8"/><circle cx="608.3" cy="357.5" r="2.8"/><circle cx="607.2" cy="361.1" r="2.6"/><circle cx="607.4" cy="364.8" r="2.8"/><circle cx="607.2" cy="368.8" r="2.6"/><circle cx="607.4" cy="372.2" r="2.7"/><circle cx="607" cy="376.3" r="2.8"/><circle cx="557.1" cy="398.8" r="2.8"/><circle cx="560.3" cy="397.4" r="2.6"/><circle cx="560.8" cy="394.4" r="2.9"/><circle cx="561.6" cy="390.6" r="2.8"/><circle cx="561.5" cy="386.8" r="2.5"/><circle cx="562.4" cy="383.5" r="2.9"/><circle cx="562.2" cy="379.7" r="2.8"/><circle cx="562.6" cy="376.6" r="2.8"/><circle cx="563.5" cy="372.5" r="2.9"/><circle cx="564.1" cy="369.2" r="2.7"/><circle cx="565" cy="365.9" r="2.9"/><circle cx="568.8" cy="364.6" r="2.9"/><circle cx="571.9" cy="364" r="2.8"/><circle cx="573.4" cy="366.7" r="2.5"/><circle cx="574" cy="370.2" r="2.6"/><circle cx="574.4" cy="374.2" r="2.5"/><circle cx="575.1" cy="377.8" r="2.7"/><circle cx="577" cy="380.8" r="2.5"/><circle cx="578.7" cy="384" r="2.6"/><circle cx="579.4" cy="387.3" r="2.7"/><circle cx="580" cy="391.4" r="2.8"/><circle cx="581.1" cy="394.5" r="2.6"/><circle cx="581.4" cy="398" r="2.8"/><circle cx="582.7" cy="401.2" r="2.8"/><circle cx="584.1" cy="405.2" r="2.5"/><circle cx="585.4" cy="408.3" r="2.8"/><circle cx="586.9" cy="407.9" r="2.5"/><circle cx="586.9" cy="404" r="2.8"/><circle cx="586.5" cy="400.5" r="2.7"/><circle cx="586.1" cy="397.1" r="2.8"/><circle cx="586.4" cy="393.9" r="2.8"/><circle cx="585.9" cy="390" r="2.6"/><circle cx="584.5" cy="387" r="2.7"/><circle cx="583" cy="383.5" r="2.7"/><circle cx="580.6" cy="380.4" r="2.6"/><circle cx="578.9" cy="377.4" r="2.9"/><circle cx="577.8" cy="374.3" r="2.9"/><circle cx="577" cy="370.7" r="2.6"/><circle cx="576.1" cy="367.1" r="2.9"/><circle cx="574.2" cy="364" r="2.6"/><circle cx="571.3" cy="363.1" r="2.9"/><circle cx="571.8" cy="359.1" r="2.8"/><circle cx="572.6" cy="355.5" r="2.5"/><circle cx="573" cy="352.6" r="2.5"/><circle cx="573.3" cy="348.5" r="2.6"/><circle cx="573.1" cy="344.9" r="2.6"/><circle cx="573" cy="341.3" r="2.9"/><circle cx="573.1" cy="338.1" r="2.8"/><circle cx="573.3" cy="334" r="2.7"/><circle cx="572.5" cy="331" r="2.7"/><circle cx="570.4" cy="327.7" r="2.8"/><circle cx="567.6" cy="326.7" r="2.5"/><circle cx="563.7" cy="327.8" r="2.8"/><circle cx="562.2" cy="330.2" r="2.8"/><circle cx="561.7" cy="334.1" r="2.8"/><circle cx="562.2" cy="337.5" r="2.9"/><circle cx="562.1" cy="341.6" r="2.6"/><circle cx="561.7" cy="345.2" r="2.8"/><circle cx="561.1" cy="348.7" r="2.7"/><circle cx="561.2" cy="351.9" r="2.6"/><circle cx="560.4" cy="355.6" r="2.9"/><circle cx="559.9" cy="359.4" r="2.5"/><circle cx="559.2" cy="363.1" r="2.8"/><circle cx="558.6" cy="366.5" r="2.5"/><circle cx="558.1" cy="369.4" r="2.8"/><circle cx="558.4" cy="373.6" r="2.7"/><circle cx="557.8" cy="376.7" r="2.7"/><circle cx="557.4" cy="381" r="2.8"/><circle cx="556.9" cy="384.1" r="2.8"/><circle cx="557.3" cy="387.6" r="2.6"/><circle cx="557.1" cy="391.6" r="2.9"/><circle cx="557.4" cy="395.2" r="2.9"/><circle cx="556.5" cy="410" r="2.8"/><circle cx="559.2" cy="408.7" r="2.9"/><circle cx="557.2" cy="406.2" r="2.6"/><circle cx="409.4" cy="438.5" r="2.8"/><circle cx="413.3" cy="439.2" r="2.5"/><circle cx="415.9" cy="437.2" r="2.6"/><circle cx="418.1" cy="434" r="2.6"/><circle cx="420.1" cy="431.3" r="2.7"/><circle cx="423.5" cy="430.7" r="2.7"/><circle cx="427" cy="430.7" r="2.8"/><circle cx="430.9" cy="431.2" r="2.5"/><circle cx="434.3" cy="432.9" r="2.9"/><circle cx="437" cy="434.6" r="2.9"/><circle cx="437.7" cy="438" r="2.8"/><circle cx="438" cy="441.7" r="2.7"/><circle cx="439.6" cy="444.3" r="2.6"/><circle cx="441.5" cy="441.3" r="2.9"/><circle cx="443.4" cy="438.3" r="2.8"/><circle cx="446.7" cy="439.4" r="2.5"/><circle cx="449.7" cy="441.2" r="2.7"/><circle cx="452.2" cy="443.3" r="2.8"/><circle cx="454.4" cy="447.1" r="2.6"/><circle cx="457" cy="446.7" r="2.7"/><circle cx="460.1" cy="446.8" r="2.6"/><circle cx="461.5" cy="450.9" r="2.7"/><circle cx="462" cy="454" r="2.9"/><circle cx="464.1" cy="455.3" r="2.8"/><circle cx="467" cy="453.8" r="2.7"/><circle cx="469.9" cy="456.7" r="2.9"/><circle cx="471" cy="459.9" r="2.8"/><circle cx="473.1" cy="462.9" r="2.7"/><circle cx="476.2" cy="464.2" r="2.7"/><circle cx="478" cy="467.4" r="2.8"/><circle cx="479.6" cy="470.2" r="2.7"/><circle cx="481.2" cy="473.6" r="2.6"/><circle cx="484" cy="474.5" r="2.6"/><circle cx="487.4" cy="475.9" r="2.6"/><circle cx="489" cy="473.1" r="2.5"/><circle cx="492.4" cy="472.6" r="2.7"/><circle cx="496.2" cy="471.6" r="2.5"/><circle cx="499" cy="471.2" r="2.8"/><circle cx="501.6" cy="469" r="2.7"/><circle cx="505.2" cy="467.8" r="2.8"/><circle cx="507.5" cy="469.6" r="2.8"/><circle cx="508.7" cy="472.9" r="2.6"/><circle cx="510.7" cy="476.1" r="2.6"/><circle cx="511.6" cy="480.1" r="2.5"/><circle cx="513" cy="482.7" r="2.7"/><circle cx="514.4" cy="486.5" r="2.8"/><circle cx="516.7" cy="487.8" r="2.6"/><circle cx="520.5" cy="487.2" r="2.7"/><circle cx="523.4" cy="485.8" r="2.8"/><circle cx="525.8" cy="484.2" r="2.6"/><circle cx="527.2" cy="480.8" r="2.9"/><circle cx="527.9" cy="477.5" r="2.7"/><circle cx="529.2" cy="473.7" r="2.6"/><circle cx="531" cy="471.4" r="2.6"/><circle cx="534.4" cy="471.2" r="2.9"/><circle cx="537.9" cy="470.9" r="2.8"/><circle cx="541.2" cy="470.5" r="2.8"/><circle cx="544.3" cy="470.1" r="2.6"/><circle cx="547.7" cy="467.9" r="2.7"/><circle cx="550.6" cy="468" r="2.6"/><circle cx="551.9" cy="464.2" r="2.6"/><circle cx="552.1" cy="461" r="2.8"/><circle cx="552.5" cy="457.3" r="2.8"/><circle cx="553.1" cy="453.8" r="2.7"/><circle cx="553.7" cy="450.6" r="2.9"/><circle cx="555.3" cy="447" r="2.6"/><circle cx="556.6" cy="443.4" r="2.9"/><circle cx="557.8" cy="440.2" r="2.6"/><circle cx="557.7" cy="436.5" r="2.8"/><circle cx="557" cy="433.3" r="2.6"/><circle cx="555.6" cy="430.2" r="2.6"/><circle cx="552.3" cy="432.1" r="2.6"/><circle cx="552.3" cy="435.5" r="2.9"/><circle cx="551.8" cy="439.3" r="2.5"/><circle cx="551" cy="442.8" r="2.8"/><circle cx="550.8" cy="446.5" r="2.9"/><circle cx="549.8" cy="449.5" r="2.6"/><circle cx="549.2" cy="453.5" r="2.7"/><circle cx="547.2" cy="456.9" r="2.9"/><circle cx="544.6" cy="458.2" r="2.5"/><circle cx="542.5" cy="461.3" r="2.5"/><circle cx="539.5" cy="463.4" r="2.6"/><circle cx="536.5" cy="461.7" r="2.7"/><circle cx="535.4" cy="457.7" r="2.7"/><circle cx="533.4" cy="455.6" r="2.6"/><circle cx="530.7" cy="457" r="2.6"/><circle cx="529.4" cy="459.9" r="2.8"/><circle cx="527.5" cy="463.3" r="2.9"/><circle cx="526.8" cy="467" r="2.8"/><circle cx="525.4" cy="470.5" r="2.8"/><circle cx="524.3" cy="473.6" r="2.8"/><circle cx="521.9" cy="476.3" r="2.8"/><circle cx="518.8" cy="478" r="2.6"/><circle cx="514.9" cy="478.1" r="2.8"/><circle cx="513.9" cy="474.6" r="2.9"/><circle cx="512.7" cy="471.3" r="2.8"/><circle cx="511.3" cy="467.7" r="2.8"/><circle cx="510.4" cy="464.4" r="2.8"/><circle cx="507" cy="463.6" r="2.8"/><circle cx="504" cy="462.9" r="2.8"/><circle cx="501.8" cy="465.1" r="2.6"/><circle cx="498.9" cy="467.1" r="2.8"/><circle cx="495.8" cy="465.5" r="2.9"/><circle cx="492.7" cy="464.1" r="2.5"/><circle cx="490.7" cy="460.6" r="2.8"/><circle cx="489" cy="461.3" r="2.8"/><circle cx="486.1" cy="464" r="2.8"/><circle cx="482.3" cy="463" r="2.9"/><circle cx="479.6" cy="460.8" r="2.8"/><circle cx="478.3" cy="457.5" r="2.7"/><circle cx="476.3" cy="454.3" r="2.7"/><circle cx="475.1" cy="450.8" r="2.6"/><circle cx="473.9" cy="447.3" r="2.8"/><circle cx="471.4" cy="446.5" r="2.6"/><circle cx="467.9" cy="445.3" r="2.8"/><circle cx="464.8" cy="444.7" r="2.7"/><circle cx="462.9" cy="441.5" r="2.5"/><circle cx="461.6" cy="438.7" r="2.7"/><circle cx="459.7" cy="435" r="2.5"/><circle cx="457.7" cy="435.9" r="2.5"/><circle cx="454.7" cy="435.5" r="2.5"/><circle cx="452.8" cy="432.8" r="2.5"/><circle cx="452.1" cy="429.4" r="2.7"/><circle cx="448.6" cy="427.5" r="2.7"/><circle cx="445.6" cy="427.6" r="2.8"/><circle cx="441.8" cy="428" r="2.7"/><circle cx="439" cy="425.5" r="2.7"/><circle cx="438.5" cy="422.3" r="2.7"/><circle cx="437.4" cy="419" r="2.8"/><circle cx="434.9" cy="417.7" r="2.6"/><circle cx="432.9" cy="414.7" r="2.6"/><circle cx="431.2" cy="411.8" r="2.9"/><circle cx="429.7" cy="409" r="2.8"/><circle cx="426.6" cy="406" r="2.8"/><circle cx="423.7" cy="406.3" r="2.8"/><circle cx="422" cy="409.6" r="2.7"/><circle cx="420" cy="412.9" r="2.7"/><circle cx="418.6" cy="415.3" r="2.8"/><circle cx="416.7" cy="418.4" r="2.8"/><circle cx="414.5" cy="421.5" r="2.9"/><circle cx="413" cy="424.7" r="2.8"/><circle cx="411.9" cy="428.6" r="2.9"/><circle cx="411.2" cy="431.6" r="2.5"/><circle cx="410" cy="435.7" r="2.7"/><circle cx="394.2" cy="459.7" r="2.7"/><circle cx="394.9" cy="463.4" r="2.7"/><circle cx="395.2" cy="467.3" r="2.7"/><circle cx="395.6" cy="471" r="2.6"/><circle cx="395.6" cy="474.2" r="2.5"/><circle cx="396.3" cy="478.1" r="2.6"/><circle cx="396.7" cy="481.9" r="2.6"/><circle cx="396.7" cy="484.9" r="2.6"/><circle cx="397.3" cy="488.6" r="2.6"/><circle cx="397.5" cy="492.2" r="2.8"/><circle cx="397.8" cy="495.4" r="2.9"/><circle cx="398.8" cy="492.8" r="2.8"/><circle cx="399.9" cy="489.2" r="2.6"/><circle cx="400.8" cy="485.2" r="2.6"/><circle cx="401.2" cy="482.1" r="2.7"/><circle cx="401.7" cy="478.2" r="2.8"/><circle cx="402.1" cy="474.7" r="2.5"/><circle cx="401.9" cy="471.2" r="2.7"/><circle cx="401.5" cy="467.5" r="2.8"/><circle cx="403.2" cy="464.6" r="2.7"/><circle cx="406.7" cy="464" r="2.6"/><circle cx="408.4" cy="461.3" r="2.8"/><circle cx="409.7" cy="458" r="2.6"/><circle cx="410.1" cy="454.2" r="2.7"/><circle cx="410.8" cy="450.5" r="2.8"/><circle cx="408.8" cy="447.2" r="2.7"/><circle cx="406.7" cy="444.4" r="2.6"/><circle cx="403.7" cy="444.5" r="2.8"/><circle cx="403.4" cy="447.8" r="2.6"/><circle cx="403.1" cy="451.5" r="2.8"/><circle cx="403.2" cy="454.6" r="2.7"/><circle cx="403.3" cy="458.5" r="2.9"/><circle cx="401" cy="460.9" r="2.6"/><circle cx="398.1" cy="459.8" r="2.7"/><circle cx="391.6" cy="454.3" r="2.6"/><circle cx="393.8" cy="452.9" r="2.7"/><circle cx="393.2" cy="449.2" r="2.7"/><circle cx="393.5" cy="445.4" r="2.8"/><circle cx="393.1" cy="441.4" r="2.8"/><circle cx="393.5" cy="437.6" r="2.8"/><circle cx="391.5" cy="438.9" r="2.6"/><circle cx="391.1" cy="442.9" r="2.5"/><circle cx="391.2" cy="446.3" r="2.5"/><circle cx="391.4" cy="450" r="2.7"/><circle cx="385.9" cy="431.5" r="2.5"/><circle cx="389.1" cy="432.4" r="2.7"/><circle cx="391.3" cy="429.4" r="2.8"/><circle cx="390.9" cy="425.9" r="2.6"/><circle cx="391.1" cy="422.9" r="2.5"/><circle cx="391" cy="418.5" r="2.7"/><circle cx="390.3" cy="415.5" r="2.7"/><circle cx="389" cy="412.3" r="2.5"/><circle cx="385.6" cy="413.8" r="2.8"/><circle cx="385.9" cy="416.7" r="2.6"/><circle cx="385.9" cy="420.8" r="2.6"/><circle cx="385.3" cy="424.5" r="2.6"/><circle cx="385.7" cy="427.9" r="2.6"/><circle cx="125.5" cy="467.2" r="2.8"/><circle cx="122.1" cy="466" r="2.6"/><circle cx="120.6" cy="467" r="2.9"/><circle cx="120.2" cy="471.1" r="2.6"/><circle cx="120.6" cy="474.6" r="2.8"/><circle cx="121.7" cy="477.7" r="2.8"/><circle cx="124.7" cy="479.4" r="2.7"/><circle cx="127.4" cy="478.3" r="2.9"/><circle cx="130.9" cy="478.4" r="2.9"/><circle cx="134.9" cy="478.7" r="2.6"/><circle cx="138" cy="480" r="2.5"/><circle cx="139.8" cy="477" r="2.6"/><circle cx="142.3" cy="474.9" r="2.7"/><circle cx="145.9" cy="475.2" r="2.6"/><circle cx="148.9" cy="477" r="2.6"/><circle cx="151.3" cy="479.6" r="2.6"/><circle cx="152.4" cy="483.1" r="2.6"/><circle cx="152.7" cy="486.3" r="2.7"/><circle cx="154.1" cy="489.6" r="2.8"/><circle cx="155.8" cy="492.4" r="2.6"/><circle cx="158.8" cy="491.6" r="2.6"/><circle cx="159.8" cy="487.9" r="2.7"/><circle cx="160.4" cy="484" r="2.7"/><circle cx="162.9" cy="481.8" r="2.7"/><circle cx="166.4" cy="481.1" r="2.5"/><circle cx="169.7" cy="482.3" r="2.7"/><circle cx="172.1" cy="483.6" r="2.7"/><circle cx="174.7" cy="484" r="2.8"/><circle cx="178" cy="482.4" r="2.5"/><circle cx="180.7" cy="484.8" r="2.5"/><circle cx="181" cy="488.3" r="2.8"/><circle cx="181.2" cy="492.3" r="2.8"/><circle cx="181.5" cy="495.7" r="2.8"/><circle cx="181.7" cy="498.9" r="2.6"/><circle cx="181.9" cy="502.7" r="2.7"/><circle cx="184.2" cy="504.1" r="2.7"/><circle cx="186.1" cy="503.4" r="2.8"/><circle cx="186.4" cy="499.5" r="2.8"/><circle cx="186.9" cy="496.3" r="2.6"/><circle cx="186.5" cy="492.7" r="2.7"/><circle cx="187.2" cy="488.4" r="2.9"/><circle cx="188.1" cy="485.1" r="2.6"/><circle cx="190.2" cy="482.5" r="2.6"/><circle cx="192.9" cy="480" r="2.7"/><circle cx="196.4" cy="479.6" r="2.8"/><circle cx="199.7" cy="479.4" r="2.6"/><circle cx="203" cy="480.4" r="2.6"/><circle cx="205.9" cy="481.1" r="2.6"/><circle cx="209.1" cy="480.3" r="2.7"/><circle cx="211.8" cy="481.9" r="2.8"/><circle cx="214.9" cy="483.2" r="2.8"/><circle cx="216.4" cy="479.7" r="2.9"/><circle cx="219.5" cy="478" r="2.9"/><circle cx="222" cy="475.8" r="2.9"/><circle cx="225.5" cy="474.5" r="2.5"/><circle cx="228.7" cy="474.1" r="2.8"/><circle cx="231" cy="471.4" r="2.8"/><circle cx="234" cy="469.2" r="2.6"/><circle cx="236.9" cy="468.3" r="2.5"/><circle cx="239" cy="471.8" r="2.8"/><circle cx="239.9" cy="475.5" r="2.6"/><circle cx="240.7" cy="478.8" r="2.6"/><circle cx="242.1" cy="475.7" r="2.7"/><circle cx="244" cy="472.4" r="2.7"/><circle cx="245.9" cy="469.8" r="2.6"/><circle cx="248.4" cy="467.2" r="2.8"/><circle cx="251.5" cy="467.9" r="2.9"/><circle cx="254.6" cy="469.8" r="2.7"/><circle cx="255.9" cy="472.8" r="2.9"/><circle cx="258" cy="475.9" r="2.6"/><circle cx="261" cy="476.8" r="2.8"/><circle cx="264.5" cy="477" r="2.9"/><circle cx="268.3" cy="475.5" r="2.7"/><circle cx="271.4" cy="473.5" r="2.8"/><circle cx="273.9" cy="471.8" r="2.6"/><circle cx="277.3" cy="471" r="2.6"/><circle cx="280.1" cy="470.1" r="2.8"/><circle cx="283.4" cy="468.9" r="2.7"/><circle cx="286.4" cy="466.9" r="2.5"/><circle cx="288.8" cy="464.6" r="2.7"/><circle cx="290.9" cy="461.4" r="2.6"/><circle cx="292.7" cy="459" r="2.8"/><circle cx="293.6" cy="455.7" r="2.8"/><circle cx="295" cy="452.4" r="2.7"/><circle cx="296.3" cy="448.9" r="2.5"/><circle cx="297" cy="445" r="2.7"/><circle cx="298.5" cy="441.7" r="2.5"/><circle cx="299.7" cy="439" r="2.6"/><circle cx="302" cy="435.5" r="2.9"/><circle cx="304" cy="432.5" r="2.9"/><circle cx="306.5" cy="430.2" r="2.7"/><circle cx="307.6" cy="426.6" r="2.7"/><circle cx="308" cy="423.4" r="2.5"/><circle cx="310.7" cy="420.3" r="2.6"/><circle cx="314.1" cy="421.7" r="2.6"/><circle cx="314.5" cy="425" r="2.8"/><circle cx="314.4" cy="428.4" r="2.9"/><circle cx="317.3" cy="429.4" r="2.9"/><circle cx="320.2" cy="430.3" r="2.8"/><circle cx="321.7" cy="433.8" r="2.9"/><circle cx="321.4" cy="437.7" r="2.9"/><circle cx="320.9" cy="440.9" r="2.7"/><circle cx="319.4" cy="443.6" r="2.8"/><circle cx="319.2" cy="447.4" r="2.8"/><circle cx="319.7" cy="451.5" r="2.8"/><circle cx="319.6" cy="454.4" r="2.5"/><circle cx="319.8" cy="458.3" r="2.5"/><circle cx="321.3" cy="459.3" r="2.6"/><circle cx="324.8" cy="459.4" r="2.6"/><circle cx="328.5" cy="459.4" r="2.8"/><circle cx="332" cy="459" r="2.9"/><circle cx="335.2" cy="459.6" r="2.8"/><circle cx="338.6" cy="458.8" r="2.7"/><circle cx="341" cy="458.4" r="2.9"/><circle cx="343.6" cy="456.3" r="2.6"/><circle cx="344.5" cy="452.8" r="2.7"/><circle cx="345.2" cy="449.3" r="2.6"/><circle cx="345.4" cy="445.3" r="2.7"/><circle cx="346.4" cy="442.2" r="2.6"/><circle cx="349.5" cy="440.2" r="2.7"/><circle cx="353.5" cy="441.5" r="2.7"/><circle cx="355.5" cy="443.7" r="2.7"/><circle cx="356.6" cy="447.5" r="2.7"/><circle cx="357.3" cy="450.6" r="2.9"/><circle cx="358.7" cy="454.2" r="2.8"/><circle cx="359.7" cy="457.5" r="2.9"/><circle cx="360.5" cy="460.7" r="2.6"/><circle cx="362.9" cy="462.5" r="2.8"/><circle cx="366.9" cy="462.5" r="2.7"/><circle cx="368.8" cy="465.3" r="2.7"/><circle cx="370.2" cy="468.4" r="2.6"/><circle cx="370.3" cy="472.3" r="2.8"/><circle cx="371.1" cy="475.9" r="2.8"/><circle cx="371.7" cy="479.8" r="2.7"/><circle cx="373.4" cy="482.4" r="2.6"/><circle cx="375.7" cy="484.2" r="2.8"/><circle cx="377.5" cy="480.6" r="2.6"/><circle cx="380.2" cy="478.3" r="2.7"/><circle cx="384.2" cy="477.5" r="2.6"/><circle cx="386.8" cy="477.5" r="2.5"/><circle cx="387.3" cy="474.1" r="2.8"/><circle cx="387.4" cy="470.6" r="2.6"/><circle cx="387.5" cy="467" r="2.7"/><circle cx="387.5" cy="462.8" r="2.7"/><circle cx="387.2" cy="459.4" r="2.7"/><circle cx="383.7" cy="459.9" r="2.6"/><circle cx="380.2" cy="459.8" r="2.9"/><circle cx="377" cy="461.2" r="2.6"/><circle cx="373.4" cy="460.6" r="2.8"/><circle cx="372" cy="456.9" r="2.7"/><circle cx="369.5" cy="455.1" r="2.6"/><circle cx="366.1" cy="453.6" r="2.9"/><circle cx="362.8" cy="453.2" r="2.9"/><circle cx="359.9" cy="450.3" r="2.6"/><circle cx="358.1" cy="447.7" r="2.6"/><circle cx="357" cy="444.3" r="2.9"/><circle cx="355.9" cy="440.5" r="2.6"/><circle cx="355.1" cy="437.3" r="2.7"/><circle cx="352.9" cy="434.2" r="2.6"/><circle cx="351.3" cy="430.8" r="2.6"/><circle cx="348.7" cy="428.3" r="2.9"/><circle cx="347.5" cy="425.3" r="2.8"/><circle cx="345.2" cy="427" r="2.8"/><circle cx="343.4" cy="430.1" r="2.8"/><circle cx="342.7" cy="433.3" r="2.8"/><circle cx="342.1" cy="437.4" r="2.7"/><circle cx="341" cy="440.9" r="2.6"/><circle cx="339.8" cy="444.4" r="2.6"/><circle cx="338.2" cy="446.9" r="2.6"/><circle cx="334.6" cy="447.4" r="2.9"/><circle cx="330.8" cy="446.2" r="2.6"/><circle cx="327.6" cy="446.2" r="2.9"/><circle cx="325.4" cy="443.5" r="2.7"/><circle cx="322.1" cy="441.9" r="2.7"/><circle cx="321.8" cy="438.5" r="2.7"/><circle cx="321.9" cy="434.7" r="2.7"/><circle cx="321.6" cy="431.1" r="2.8"/><circle cx="321.5" cy="427.6" r="2.6"/><circle cx="321.3" cy="424.1" r="2.7"/><circle cx="320.6" cy="420.9" r="2.8"/><circle cx="320.1" cy="416.8" r="2.5"/><circle cx="319.8" cy="413.8" r="2.8"/><circle cx="316.4" cy="412.7" r="2.7"/><circle cx="314.1" cy="413.1" r="2.6"/><circle cx="312.9" cy="416.4" r="2.8"/><circle cx="308.8" cy="416.4" r="2.7"/><circle cx="305.9" cy="417.6" r="2.7"/><circle cx="303.6" cy="419.6" r="2.5"/><circle cx="301.3" cy="422.9" r="2.8"/><circle cx="299.1" cy="425.6" r="2.7"/><circle cx="297.7" cy="428.4" r="2.7"/><circle cx="297.1" cy="431.8" r="2.6"/><circle cx="295.8" cy="435.2" r="2.7"/><circle cx="295.3" cy="438.7" r="2.6"/><circle cx="294.3" cy="441.9" r="2.8"/><circle cx="293.7" cy="445.6" r="2.9"/><circle cx="292.1" cy="448.7" r="2.9"/><circle cx="290.6" cy="452.4" r="2.7"/><circle cx="287.5" cy="453.6" r="2.8"/><circle cx="284.4" cy="455.8" r="2.7"/><circle cx="283.2" cy="459.2" r="2.8"/><circle cx="280.4" cy="461.4" r="2.8"/><circle cx="278.2" cy="463.9" r="2.8"/><circle cx="275.2" cy="466.4" r="2.7"/><circle cx="272.1" cy="468.8" r="2.8"/><circle cx="269.3" cy="469.3" r="2.8"/><circle cx="266" cy="470.9" r="2.8"/><circle cx="262.4" cy="470.6" r="2.6"/><circle cx="259.7" cy="469" r="2.7"/><circle cx="257.9" cy="465.9" r="2.6"/><circle cx="255.7" cy="463.3" r="2.6"/><circle cx="252.7" cy="461" r="2.8"/><circle cx="249.7" cy="463.6" r="2.5"/><circle cx="246.9" cy="465.1" r="2.5"/><circle cx="243.7" cy="465.2" r="2.5"/><circle cx="240.4" cy="463.5" r="2.6"/><circle cx="236.9" cy="463.4" r="2.6"/><circle cx="233.1" cy="462.1" r="2.5"/><circle cx="230.8" cy="463.2" r="2.5"/><circle cx="228.5" cy="465.7" r="2.6"/><circle cx="226.8" cy="469" r="2.6"/><circle cx="223.6" cy="470.1" r="2.8"/><circle cx="221.5" cy="471.2" r="2.7"/><circle cx="218.7" cy="473.5" r="2.6"/><circle cx="216.1" cy="476" r="2.9"/><circle cx="212.8" cy="475.8" r="2.7"/><circle cx="209.3" cy="475.9" r="2.7"/><circle cx="205.7" cy="474.3" r="2.8"/><circle cx="202.9" cy="472.9" r="2.8"/><circle cx="200.1" cy="471" r="2.7"/><circle cx="197.4" cy="469.3" r="2.7"/><circle cx="194.2" cy="470.6" r="2.7"/><circle cx="191.8" cy="472.5" r="2.6"/><circle cx="188.9" cy="473.3" r="2.7"/><circle cx="186.7" cy="476.7" r="2.5"/><circle cx="185.6" cy="480" r="2.7"/><circle cx="182.3" cy="480.7" r="2.7"/><circle cx="180.5" cy="477.8" r="2.7"/><circle cx="177" cy="476.6" r="2.9"/><circle cx="173.5" cy="475.3" r="2.7"/><circle cx="170.2" cy="475.9" r="2.9"/><circle cx="167.7" cy="477.2" r="2.6"/><circle cx="163.7" cy="476.9" r="2.7"/><circle cx="161.1" cy="474.1" r="2.9"/><circle cx="159.5" cy="476.5" r="2.5"/><circle cx="156.2" cy="477.4" r="2.5"/><circle cx="154" cy="474.7" r="2.9"/><circle cx="152.5" cy="471.7" r="2.7"/><circle cx="149.6" cy="468.5" r="2.7"/><circle cx="146.6" cy="467.6" r="2.8"/><circle cx="143.6" cy="466.6" r="2.6"/><circle cx="140.8" cy="468.3" r="2.7"/><circle cx="137.9" cy="471.1" r="2.9"/><circle cx="135" cy="472.2" r="2.5"/><circle cx="131.9" cy="470.3" r="2.8"/><circle cx="129.1" cy="468" r="2.7"/><circle cx="384.6" cy="448.8" r="2.8"/><circle cx="385.1" cy="446.1" r="2.8"/><circle cx="385.1" cy="442.8" r="2.6"/><circle cx="384.5" cy="442.1" r="2.7"/><circle cx="385" cy="445.2" r="2.7"/><circle cx="307.7" cy="402" r="2.6"/><circle cx="310.2" cy="405" r="2.5"/><circle cx="313.4" cy="405.2" r="2.8"/><circle cx="313.6" cy="401.4" r="2.8"/><circle cx="313.2" cy="398.4" r="2.5"/><circle cx="313.3" cy="394" r="2.6"/><circle cx="312.7" cy="390.7" r="2.8"/><circle cx="312.7" cy="387.1" r="2.7"/><circle cx="310.9" cy="383.5" r="2.5"/><circle cx="309" cy="380.7" r="2.7"/><circle cx="308" cy="383.8" r="2.6"/><circle cx="308" cy="387.1" r="2.6"/><circle cx="308.1" cy="391.1" r="2.6"/><circle cx="307.9" cy="394.2" r="2.5"/><circle cx="307.7" cy="398.2" r="2.8"/></g>
<g fill="#000">
<circle cx="858.3" cy="335" r="2.8"/>
<circle cx="858.5" cy="329.5" r="2.8"/>
<circle cx="858.7" cy="324" r="2.8"/>
<circle cx="858.6" cy="318.5" r="2.8"/>
<circle cx="859.7" cy="313" r="2.8"/>
<circle cx="860.2" cy="307.6" r="2.8"/>
<circle cx="860.2" cy="302.2" r="2.8"/>
<circle cx="861.6" cy="296.8" r="2.8"/>
<circle cx="928.1" cy="113" r="3"/>
<circle cx="927.8" cy="118.5" r="3"/>
<circle cx="928" cy="124" r="3"/>
<circle cx="927.6" cy="129.5" r="3"/>
<circle cx="927.4" cy="135" r="3"/>
<circle cx="927.3" cy="140.5" r="3"/>
<circle cx="926.8" cy="146" r="3"/>
<circle cx="927.4" cy="151.5" r="3"/>
<circle cx="927.3" cy="157" r="3"/>
<circle cx="926.7" cy="162.5" r="3"/>
<circle cx="926.2" cy="168" r="3"/>
<circle cx="925.8" cy="173.5" r="3"/>
<circle cx="925.2" cy="178.9" r="3"/>
<circle cx="925.4" cy="184.4" r="3"/>
<circle cx="924.6" cy="189.8" r="3"/>
<circle cx="922.9" cy="195.3" r="3"/>
<circle cx="922.7" cy="200.7" r="3"/>
<circle cx="919.6" cy="241" r="3"/>
<circle cx="919.4" cy="246.5" r="3"/>
<circle cx="918.6" cy="252" r="3"/>
<circle cx="917.8" cy="257.4" r="3"/>
<circle cx="916.8" cy="262.8" r="3"/>
<circle cx="915.7" cy="268.2" r="3"/>
<circle cx="915.6" cy="273.7" r="3"/>
<circle cx="914.9" cy="279.2" r="3"/>
<circle cx="914.5" cy="284.7" r="3"/>
<circle cx="914.3" cy="290.2" r="3"/>
<circle cx="914.8" cy="295.7" r="3"/>
</g>
<g fill="#000"><circle cx="896.6" cy="259.2" r="2.75"/><circle cx="564.4" cy="321.1" r="2.75"/><circle cx="314.4" cy="437.3" r="2.75"/><circle cx="429" cy="438" r="2.75"/><circle cx="756.7" cy="415.8" r="2.75"/></g>
<polyline points="120,475.4 122.4,474.2 124.8,479.8 127.2,476.3 129.6,476.9 132,474.7 134.4,475.6 136.8,472.5 139.2,477.3 141.6,472.7 144,473.4 146.4,473.7 148.8,475.9 151.2,473.2 153.6,478.7 156,479.2 158.4,481.5 160.8,479.1 163.2,480.9 165.6,477.2 168,477 170.4,474.1 172.8,478.5 175.2,472.2 177.6,475.8 180,472.9 182.4,477.6 184.8,477.6 187.2,481.1 189.6,480.6 192,480.9 194.4,479.1 196.8,477.9 199.2,472.9 201.6,476.5 204,474.2 206.4,472.4 208.8,474.9 211.2,474.7 213.6,470.4 216,475.5 218.4,473.8 220.8,478.2 223.2,473.9 225.6,477 228,473.4 230.4,471 232.8,470.2 235.2,471.1 237.6,466.3 240,472.3 242.4,467 244.8,468.1 247.2,467.5 249.6,473 252,471.3 254.4,470.2 256.8,467.4 259.2,468.1 261.6,461.8 264,462 266.4,461.8 268.8,460.2 271.2,456.1 273.6,459.5 276,457 278.4,458.7 280.8,457.8 283.2,457.3 285.6,453.2 288,454 290.4,449.3 292.8,447.3 295.2,440.5 297.6,439.6 300,434.7 302.4,436 304.8,433.5 307.2,434.5 309.6,436.2 312,440.2 314.4,441.2 316.8,444.6 319.2,442.3 321.6,443.1 324,440.6 326.4,442.3 328.8,439.8 331.2,439.9 333.6,440.2 336,443.1 338.4,441.2 340.8,444.5 343.2,443.8 345.6,448.5 348,447.1 350.4,450 352.8,446.2 355.2,447.6 357.6,444.9 360,446.9 362.4,444.6 364.8,447.1 367.2,447.7 369.6,450.7 372,449.9 374.4,453.8 376.8,453.6 379.2,457.3 381.6,455.2 384,455.6 386.4,451.1 388.8,451.5 391.2,447.5 393.6,449 396,444.9 398.4,445.5 400.8,443.8 403.2,444.4 405.6,441.8 408,445.8 410.4,442.9 412.8,444.4 415.2,440.1 417.6,440.1 420,434.8 422.4,435.4 424.8,430.7 427.2,432.1 429.6,432.5 432,432.5 434.4,428.6 436.8,433.5 439.2,435.2 441.6,439.7 444,439.9 446.4,444.2 448.8,441.8 451.2,442 453.6,439.3 456,441.7 458.4,441.1 460.8,446.3 463.2,446.7 465.6,450.4 468,451.6 470.4,454.4 472.8,455.8 475.2,461.5 477.6,458.9 480,462.3 482.4,461.4 484.8,462.9 487.2,460 489.6,463.3 492,462.7 494.4,468.8 496.8,468.4 499.2,472.9 501.6,472.9 504,477.2 506.4,477 508.8,479.4 511.2,479.9 513.6,479.9 516,473.9 518.4,474.3 520.8,470.3 523.2,471 525.6,467.3 528,467 530.4,464.2 532.8,465.3 535.2,463.9 537.6,464.1 540,455.1 542.4,451.9 544.8,443 547.2,436.3 549.6,423.7 552,417.2 554.4,408.9 556.8,404.1 559.2,396.4 561.6,393.4 564,386.5 566.4,386.6 568.8,383 571.2,383.8 573.6,380.9 576,381.6 578.4,377.4 580.8,377.2 583.2,373.2 585.6,374.3 588,371.4 590.4,373.3 592.8,371.1 595.2,373.6 597.6,373.1 600,374.7 602.4,369.4 604.8,370.5 607.2,366.6 609.6,367.5 612,364.1 614.4,364.4 616.8,359.8 619.2,361.5 621.6,359.9 624,362.6 626.4,360.3 628.8,364.2 631.2,362.8 633.6,363.1 636,358.3 638.4,357.8 640.8,354.7 643.2,355.1 645.6,352.4 648,353.4 650.4,349.2 652.8,351.2 655.2,348 657.6,349.6 660,349.9 662.4,353.4 664.8,348.6 667.2,349.7 669.6,346.5 672,349.6 674.4,346.7 676.8,350 679.2,346.9 681.6,352.7 684,352.9 686.4,357.3 688.8,358.7 691.2,363.3 693.6,364.8 696,368.1 698.4,368.5 700.8,371 703.2,367.2 705.6,369.8 708,369 710.4,372.5 712.8,371.8 715.2,377.1 717.6,377.7 720,383.6 722.4,385 724.8,389 727.2,389.2 729.6,390.6 732,388.7 734.4,391.7 736.8,389.1 739.2,393.1 741.6,392.2 744,395.3 746.4,395.6 748.8,402.1 751.2,402.9 753.6,409.7 756,411.7 758.4,416.7 760.8,415.5 763.2,418.1 765.6,418.8 768,422.1 770.4,420.8 772.8,425.6 775.2,424.3 777.6,421.6 780,416.7 782.4,415.6 784.8,411.5 787.2,412.5 789.6,406.1 792,405 794.4,396.2 796.8,395.2 799.2,386.3 801.6,383.4 804,376.5 806.4,373.9 808.8,369 811.2,367.4 813.6,363.2 816,361 818.4,357.3 820.8,356.2 823.2,351.1 825.6,346.6 828,338.6 830.4,336.6 832.8,330.6 835.2,329.9 837.6,324.1 840,321.9 842.4,315.4 844.8,314.1 847.2,310.1 849.6,310.9 852,307.1 854.4,304.9 856.8,298.7 859.2,296.2 861.6,287.8 864,283.4 866.4,276.6 868.8,276.1 871.2,271.5 873.6,267.7 876,263.1 878.4,263.3 880.8,256.5 883.2,253.9 885.6,247.8 888,245.4 890.4,238.4 892.8,235.2 895.2,228.9 897.6,227.6 900,221.4 902.4,220 904.8,214.2 907.2,213.3 909.6,210.6 912,209.9 914.4,205.2 916.8,203.9 919.2,197.7 921.6,195.4 924,188.3 926.4,185.6 928.8,179.4 931.2,176 933.6,169.1 936,167.1 938.4,162.7 940.8,162.3 943.2,158.7 944.4,158.5" fill="none" stroke="#0072B2" stroke-width="2.08" stroke-linejoin="round"/>
<g fill="#f00"><circle cx="940.9" cy="40" r="3.0"/><circle cx="941.9" cy="43" r="3.0"/><circle cx="940.5" cy="46" r="3.0"/><circle cx="941.4" cy="49" r="3.0"/><circle cx="939.9" cy="52" r="3.0"/><circle cx="940.8" cy="54.9" r="3.0"/><circle cx="939.3" cy="57.9" r="3.0"/><circle cx="940.3" cy="60.9" r="3.0"/></g>
<rect x="79.5" y="15.5" width="906.0" height="527.0" fill="none" stroke="#000" stroke-width="1.11"/>
<g stroke="#000" stroke-width="1.11"><line x1="152.4" y1="542.5" x2="152.4" y2="547.36"/><line x1="278.4" y1="542.5" x2="278.4" y2="547.36"/><line x1="404.5" y1="542.5" x2="404.5" y2="547.36"/><line x1="530.5" y1="542.5" x2="530.5" y2="547.36"/><line x1="657.4" y1="542.5" x2="657.4" y2="547.36"/><line x1="783.4" y1="542.5" x2="783.4" y2="547.36"/><line x1="909.5" y1="542.5" x2="909.5" y2="547.36"/><line x1="74.64" y1="447.2" x2="79.5" y2="447.2"/><line x1="74.64" y1="339.3" x2="79.5" y2="339.3"/><line x1="74.64" y1="231.4" x2="79.5" y2="231.4"/><line x1="74.64" y1="123.4" x2="79.5" y2="123.4"/><line x1="74.64" y1="15.5" x2="79.5" y2="15.5"/></g>
<g opacity="0.999">
<text font-size="14.2" transform="matrix(1.1093,0,0,0.9901,133.724,561.901)">2001</text>
<text font-size="14.2" transform="matrix(1.0974,0,0,0.9901,260.982,561.901)">2005</text>
<text font-size="14.2" transform="matrix(1.1093,0,0,0.9901,386.974,561.901)">2009</text>
<text font-size="14.2" transform="matrix(1.1056,0,0,0.9901,512.976,561.901)">2013</text>
<text font-size="14.2" transform="matrix(1.1010,0,0,0.9901,638.979,561.901)">2017</text>
<text font-size="14.2" transform="matrix(1.1010,0,0,0.9901,764.979,561.901)">2021</text>
<text font-size="14.2" transform="matrix(1.1056,0,0,0.9901,890.726,561.901)">2025</text>
<text font-size="14.2" transform="matrix(1.0556,0,0,0.9703,43.117,451.703)">500</text>
<text font-size="14.2" transform="matrix(1.0870,0,0,0.9802,34.804,343.802)">1000</text>
<text font-size="14.2" transform="matrix(1.0870,0,0,0.9802,34.804,236.802)">1500</text>
<text font-size="14.2" transform="matrix(1.1056,0,0,0.9802,34.976,128.802)">2000</text>
<text font-size="14.2" transform="matrix(1.1056,0,0,0.9901,34.976,20.901)">2500</text>
<text font-size="14.2" transform="matrix(0.9928,0,0,1.0476,525.004,581.895)">ds</text>
<text font-size="14.2" transform="matrix(0,-1.0290,1.0667,0,24.900,282.203)">y</text>
</g>
</svg></body></html>
